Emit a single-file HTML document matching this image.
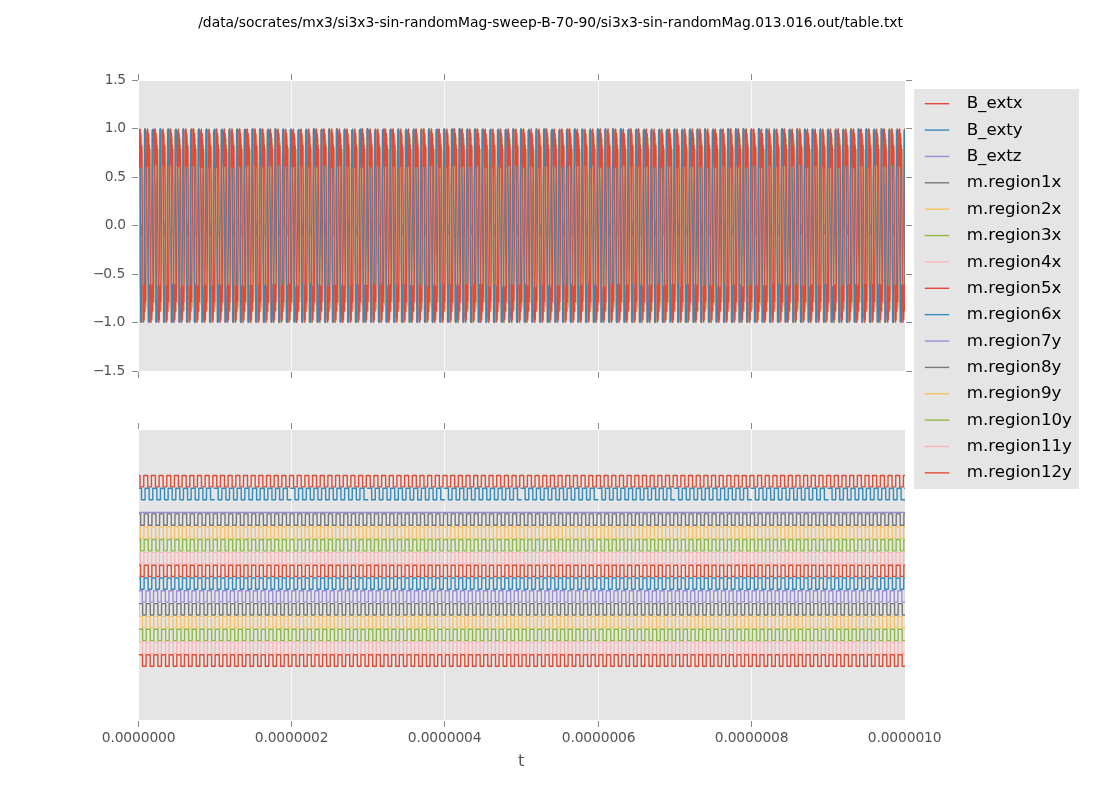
<!DOCTYPE html>
<html><head><meta charset="utf-8"><title>table.txt</title>
<style>html,body{margin:0;padding:0;background:#fff;overflow:hidden}svg{display:block}</style></head>
<body>
<svg width="1100" height="800" viewBox="0 0 1100 800">
<defs><clipPath id="ct"><rect x="139" y="81" width="766" height="290"/></clipPath><clipPath id="cb"><rect x="139" y="430" width="766" height="290"/></clipPath></defs>
<rect width="1100" height="800" fill="#fff"/>
<rect x="139" y="81" width="766" height="290" fill="#E5E5E5"/>
<rect x="139" y="430" width="766" height="290" fill="#E5E5E5"/>
<g fill="#F7F7F7" shape-rendering="crispEdges"><rect x="291" y="81" width="1" height="290"/><rect x="291" y="430" width="1" height="290"/><rect x="444" y="81" width="1" height="290"/><rect x="444" y="430" width="1" height="290"/><rect x="598" y="81" width="1" height="290"/><rect x="598" y="430" width="1" height="290"/><rect x="751" y="81" width="1" height="290"/><rect x="751" y="430" width="1" height="290"/><rect x="139" y="128" width="766" height="1"/><rect x="139" y="177" width="766" height="1"/><rect x="139" y="225" width="766" height="1"/><rect x="139" y="274" width="766" height="1"/><rect x="139" y="322" width="766" height="1"/></g>
<g fill="#8A8A8A" shape-rendering="crispEdges"><rect x="138" y="74" width="1" height="6"/><rect x="138" y="372" width="1" height="6"/><rect x="138" y="423" width="1" height="6"/><rect x="138" y="721" width="1" height="6"/><rect x="291" y="74" width="1" height="6"/><rect x="291" y="372" width="1" height="6"/><rect x="291" y="423" width="1" height="6"/><rect x="291" y="721" width="1" height="6"/><rect x="444" y="74" width="1" height="6"/><rect x="444" y="372" width="1" height="6"/><rect x="444" y="423" width="1" height="6"/><rect x="444" y="721" width="1" height="6"/><rect x="598" y="74" width="1" height="6"/><rect x="598" y="372" width="1" height="6"/><rect x="598" y="423" width="1" height="6"/><rect x="598" y="721" width="1" height="6"/><rect x="751" y="74" width="1" height="6"/><rect x="751" y="372" width="1" height="6"/><rect x="751" y="423" width="1" height="6"/><rect x="751" y="721" width="1" height="6"/><rect x="132" y="80" width="6" height="1"/><rect x="906" y="80" width="6" height="1"/><rect x="132" y="128" width="6" height="1"/><rect x="906" y="128" width="6" height="1"/><rect x="132" y="177" width="6" height="1"/><rect x="906" y="177" width="6" height="1"/><rect x="132" y="225" width="6" height="1"/><rect x="906" y="225" width="6" height="1"/><rect x="132" y="274" width="6" height="1"/><rect x="906" y="274" width="6" height="1"/><rect x="132" y="322" width="6" height="1"/><rect x="906" y="322" width="6" height="1"/><rect x="132" y="371" width="6" height="1"/><rect x="906" y="371" width="6" height="1"/></g>
<g clip-path="url(#ct)" fill="none" stroke-width="1.39" stroke-linejoin="round">
<path stroke="#E24A33" d="M138.5 218.6L139.27 221.9L140.03 226.8L140.8 231.3L141.57 233.9L142.33 233.4L143.1 230.1L143.86 225.2L144.63 220.7L145.4 218.1L146.16 218.6L146.93 221.9L147.7 226.7L148.46 231.3L149.23 233.8L149.99 233.4L150.76 230.2L151.53 225.3L152.29 220.7L153.06 218.2L153.83 218.6L154.59 221.8L155.36 226.7L156.12 231.2L156.89 233.8L157.66 233.4L158.42 230.2L159.19 225.4L159.96 220.8L160.72 218.2L161.49 218.5L162.26 221.8L163.02 226.6L163.79 231.2L164.55 233.8L165.32 233.5L166.09 230.3L166.85 225.4L167.62 220.8L168.39 218.2L169.15 218.5L169.92 221.7L170.68 226.5L171.45 231.1L172.22 233.8L172.98 233.5L173.75 230.3L174.52 225.5L175.28 220.9L176.05 218.2L176.82 218.5L177.58 221.6L178.35 226.5L179.11 231.1L179.88 233.8L180.65 233.5L181.41 230.4L182.18 225.6L182.95 220.9L183.71 218.2L184.48 218.5L185.24 221.6L186.01 226.4L186.78 231L187.54 233.8L188.31 233.5L189.08 230.4L189.84 225.6L190.61 221L191.37 218.2L192.14 218.5L192.91 221.5L193.67 226.3L194.44 231L195.21 233.7L195.97 233.6L196.74 230.5L197.51 225.7L198.27 221L199.04 218.3L199.8 218.4L200.57 221.5L201.34 226.3L202.1 230.9L202.87 233.7L203.64 233.6L204.4 230.5L205.17 225.8L205.93 221.1L206.7 218.3L207.47 218.4L208.23 221.4L209 226.2L209.77 230.9L210.53 233.7L211.3 233.6L212.06 230.6L212.83 225.8L213.6 221.1L214.36 218.3L215.13 218.4L215.9 221.4L216.66 226.1L217.43 230.8L218.2 233.7L218.96 233.6L219.73 230.7L220.49 225.9L221.26 221.2L222.03 218.3L222.79 218.4L223.56 221.3L224.33 226.1L225.09 230.8L225.86 233.7L226.62 233.6L227.39 230.7L228.16 226L228.92 221.3L229.69 218.3L230.46 218.3L231.22 221.3L231.99 226L232.75 230.7L233.52 233.7L234.29 233.7L235.05 230.8L235.82 226L236.59 221.3L237.35 218.4L238.12 218.3L238.89 221.2L239.65 225.9L240.42 230.7L241.18 233.6L241.95 233.7L242.72 230.8L243.48 226.1L244.25 221.4L245.02 218.4L245.78 218.3L246.55 221.2L247.31 225.9L248.08 230.6L248.85 233.6L249.61 233.7L250.38 230.9L251.15 226.2L251.91 221.4L252.68 218.4L253.45 218.3L254.21 221.1L254.98 225.8L255.74 230.6L256.51 233.6L257.28 233.7L258.04 230.9L258.81 226.2L259.58 221.5L260.34 218.4L261.11 218.3L261.87 221.1L262.64 225.7L263.41 230.5L264.17 233.6L264.94 233.7L265.71 231L266.47 226.3L267.24 221.5L268 218.4L268.77 218.2L269.54 221L270.3 225.7L271.07 230.5L271.84 233.5L272.6 233.8L273.37 231L274.14 226.4L274.9 221.6L275.67 218.5L276.43 218.2L277.2 221L277.97 225.6L278.73 230.4L279.5 233.5L280.27 233.8L281.03 231.1L281.8 226.4L282.56 221.6L283.33 218.5L284.1 218.2L284.86 220.9L285.63 225.5L286.4 230.3L287.16 233.5L287.93 233.8L288.69 231.1L289.46 226.5L290.23 221.7L290.99 218.5L291.76 218.2L292.53 220.9L293.29 225.5L294.06 230.3L294.83 233.5L295.59 233.8L296.36 231.2L297.12 226.6L297.89 221.7L298.66 218.5L299.42 218.2L300.19 220.8L300.96 225.4L301.72 230.2L302.49 233.4L303.25 233.8L304.02 231.2L304.79 226.6L305.55 221.8L306.32 218.6L307.09 218.2L307.85 220.8L308.62 225.3L309.38 230.2L310.15 233.4L310.92 233.8L311.68 231.3L312.45 226.7L313.22 221.9L313.98 218.6L314.75 218.2L315.52 220.7L316.28 225.3L317.05 230.1L317.81 233.4L318.58 233.9L319.35 231.3L320.11 226.8L320.88 221.9L321.65 218.6L322.41 218.1L323.18 220.7L323.94 225.2L324.71 230.1L325.48 233.4L326.24 233.9L327.01 231.4L327.78 226.8L328.54 222L329.31 218.6L330.08 218.1L330.84 220.6L331.61 225.1L332.37 230L333.14 233.3L333.91 233.9L334.67 231.4L335.44 226.9L336.21 222L336.97 218.7L337.74 218.1L338.5 220.6L339.27 225.1L340.04 229.9L340.8 233.3L341.57 233.9L342.34 231.5L343.1 227L343.87 222.1L344.63 218.7L345.4 218.1L346.17 220.5L346.93 225L347.7 229.9L348.47 233.3L349.23 233.9L350 231.5L350.77 227L351.53 222.1L352.3 218.7L353.06 218.1L353.83 220.5L354.6 224.9L355.36 229.8L356.13 233.3L356.9 233.9L357.66 231.6L358.43 227.1L359.19 222.2L359.96 218.8L360.73 218.1L361.49 220.4L362.26 224.9L363.03 229.8L363.79 233.2L364.56 233.9L365.32 231.6L366.09 227.2L366.86 222.3L367.62 218.8L368.39 218.1L369.16 220.4L369.92 224.8L370.69 229.7L371.46 233.2L372.22 233.9L372.99 231.7L373.75 227.2L374.52 222.3L375.29 218.8L376.05 218.1L376.82 220.3L377.59 224.7L378.35 229.7L379.12 233.2L379.88 234L380.65 231.7L381.42 227.3L382.18 222.4L382.95 218.8L383.72 218L384.48 220.3L385.25 224.7L386.01 229.6L386.78 233.1L387.55 234L388.31 231.8L389.08 227.4L389.85 222.4L390.61 218.9L391.38 218L392.15 220.2L392.91 224.6L393.68 229.5L394.44 233.1L395.21 234L395.98 231.8L396.74 227.4L397.51 222.5L398.28 218.9L399.04 218L399.81 220.2L400.57 224.6L401.34 229.5L402.11 233.1L402.87 234L403.64 231.8L404.41 227.5L405.17 222.6L405.94 218.9L406.71 218L407.47 220.1L408.24 224.5L409 229.4L409.77 233L410.54 234L411.3 231.9L412.07 227.5L412.84 222.6L413.6 219L414.37 218L415.13 220.1L415.9 224.4L416.67 229.4L417.43 233L418.2 234L418.97 231.9L419.73 227.6L420.5 222.7L421.26 219L422.03 218L422.8 220L423.56 224.4L424.33 229.3L425.1 233L425.86 234L426.63 232L427.4 227.7L428.16 222.7L428.93 219L429.69 218L430.46 220L431.23 224.3L431.99 229.2L432.76 232.9L433.53 234L434.29 232L435.06 227.7L435.82 222.8L436.59 219.1L437.36 218L438.12 220L438.89 224.2L439.66 229.2L440.42 232.9L441.19 234L441.95 232.1L442.72 227.8L443.49 222.9L444.25 219.1L445.02 218L445.79 219.9L446.55 224.2L447.32 229.1L448.09 232.9L448.85 234L449.62 232.1L450.38 227.9L451.15 222.9L451.92 219.1L452.68 218L453.45 219.9L454.22 224.1L454.98 229.1L455.75 232.8L456.51 234L457.28 232.2L458.05 227.9L458.81 223L459.58 219.2L460.35 218L461.11 219.8L461.88 224L462.64 229L463.41 232.8L464.18 234L464.94 232.2L465.71 228L466.48 223L467.24 219.2L468.01 218L468.78 219.8L469.54 224L470.31 228.9L471.07 232.8L471.84 234L472.61 232.2L473.37 228.1L474.14 223.1L474.91 219.2L475.67 218L476.44 219.7L477.2 223.9L477.97 228.9L478.74 232.7L479.5 234L480.27 232.3L481.04 228.1L481.8 223.2L482.57 219.3L483.34 218L484.1 219.7L484.87 223.8L485.63 228.8L486.4 232.7L487.17 234L487.93 232.3L488.7 228.2L489.47 223.2L490.23 219.3L491 218L491.76 219.7L492.53 223.8L493.3 228.7L494.06 232.7L494.83 234L495.6 232.4L496.36 228.3L497.13 223.3L497.89 219.4L498.66 218L499.43 219.6L500.19 223.7L500.96 228.7L501.73 232.6L502.49 234L503.26 232.4L504.03 228.3L504.79 223.3L505.56 219.4L506.32 218L507.09 219.6L507.86 223.7L508.62 228.6L509.39 232.6L510.16 234L510.92 232.4L511.69 228.4L512.45 223.4L513.22 219.4L513.99 217.9L514.75 219.5L515.52 223.6L516.29 228.6L517.05 232.6L517.82 234.1L518.58 232.5L519.35 228.4L520.12 223.5L520.88 219.5L521.65 217.9L522.42 219.5L523.18 223.5L523.95 228.5L524.72 232.5L525.48 234.1L526.25 232.5L527.01 228.5L527.78 223.5L528.55 219.5L529.31 217.9L530.08 219.5L530.85 223.5L531.61 228.4L532.38 232.5L533.14 234.1L533.91 232.6L534.68 228.6L535.44 223.6L536.21 219.5L536.98 217.9L537.74 219.4L538.51 223.4L539.27 228.4L540.04 232.4L540.81 234L541.57 232.6L542.34 228.6L543.11 223.7L543.87 219.6L544.64 218L545.41 219.4L546.17 223.3L546.94 228.3L547.7 232.4L548.47 234L549.24 232.6L550 228.7L550.77 223.7L551.54 219.6L552.3 218L553.07 219.3L553.83 223.3L554.6 228.2L555.37 232.4L556.13 234L556.9 232.7L557.67 228.8L558.43 223.8L559.2 219.7L559.97 218L560.73 219.3L561.5 223.2L562.26 228.2L563.03 232.3L563.8 234L564.56 232.7L565.33 228.8L566.1 223.8L566.86 219.7L567.63 218L568.39 219.3L569.16 223.2L569.93 228.1L570.69 232.3L571.46 234L572.23 232.7L572.99 228.9L573.76 223.9L574.52 219.7L575.29 218L576.06 219.2L576.82 223.1L577.59 228.1L578.36 232.2L579.12 234L579.89 232.8L580.66 228.9L581.42 224L582.19 219.8L582.95 218L583.72 219.2L584.49 223L585.25 228L586.02 232.2L586.79 234L587.55 232.8L588.32 229L589.08 224L589.85 219.8L590.62 218L591.38 219.2L592.15 223L592.92 227.9L593.68 232.2L594.45 234L595.21 232.8L595.98 229.1L596.75 224.1L597.51 219.9L598.28 218L599.05 219.1L599.81 222.9L600.58 227.9L601.35 232.1L602.11 234L602.88 232.9L603.64 229.1L604.41 224.2L605.18 219.9L605.94 218L606.71 219.1L607.48 222.9L608.24 227.8L609.01 232.1L609.77 234L610.54 232.9L611.31 229.2L612.07 224.2L612.84 220L613.61 218L614.37 219.1L615.14 222.8L615.9 227.7L616.67 232L617.44 234L618.2 233L618.97 229.2L619.74 224.3L620.5 220L621.27 218L622.04 219L622.8 222.7L623.57 227.7L624.33 232L625.1 234L625.87 233L626.63 229.3L627.4 224.4L628.17 220L628.93 218L629.7 219L630.46 222.7L631.23 227.6L632 231.9L632.76 234L633.53 233L634.3 229.4L635.06 224.4L635.83 220.1L636.6 218L637.36 219L638.13 222.6L638.89 227.5L639.66 231.9L640.43 234L641.19 233L641.96 229.4L642.73 224.5L643.49 220.1L644.26 218L645.02 218.9L645.79 222.5L646.56 227.5L647.32 231.8L648.09 234L648.86 233.1L649.62 229.5L650.39 224.6L651.15 220.2L651.92 218L652.69 218.9L653.45 222.5L654.22 227.4L654.99 231.8L655.75 234L656.52 233.1L657.29 229.5L658.05 224.6L658.82 220.2L659.58 218L660.35 218.9L661.12 222.4L661.88 227.3L662.65 231.8L663.42 234L664.18 233.1L664.95 229.6L665.71 224.7L666.48 220.3L667.25 218L668.01 218.8L668.78 222.4L669.55 227.3L670.31 231.7L671.08 234L671.84 233.2L672.61 229.7L673.38 224.7L674.14 220.3L674.91 218.1L675.68 218.8L676.44 222.3L677.21 227.2L677.98 231.7L678.74 233.9L679.51 233.2L680.27 229.7L681.04 224.8L681.81 220.4L682.57 218.1L683.34 218.8L684.11 222.3L684.87 227.2L685.64 231.6L686.4 233.9L687.17 233.2L687.94 229.8L688.7 224.9L689.47 220.4L690.24 218.1L691 218.8L691.77 222.2L692.53 227.1L693.3 231.6L694.07 233.9L694.83 233.3L695.6 229.8L696.37 224.9L697.13 220.5L697.9 218.1L698.67 218.7L699.43 222.1L700.2 227L700.96 231.5L701.73 233.9L702.5 233.3L703.26 229.9L704.03 225L704.8 220.5L705.56 218.1L706.33 218.7L707.09 222.1L707.86 227L708.63 231.5L709.39 233.9L710.16 233.3L710.93 229.9L711.69 225.1L712.46 220.6L713.23 218.1L713.99 218.7L714.76 222L715.52 226.9L716.29 231.4L717.06 233.9L717.82 233.3L718.59 230L719.36 225.1L720.12 220.6L720.89 218.1L721.65 218.6L722.42 222L723.19 226.8L723.95 231.4L724.72 233.9L725.49 233.4L726.25 230.1L727.02 225.2L727.78 220.7L728.55 218.1L729.32 218.6L730.08 221.9L730.85 226.8L731.62 231.3L732.38 233.9L733.15 233.4L733.92 230.1L734.68 225.3L735.45 220.7L736.21 218.2L736.98 218.6L737.75 221.9L738.51 226.7L739.28 231.3L740.05 233.8L740.81 233.4L741.58 230.2L742.34 225.3L743.11 220.8L743.88 218.2L744.64 218.6L745.41 221.8L746.18 226.6L746.94 231.2L747.71 233.8L748.47 233.4L749.24 230.2L750.01 225.4L750.77 220.8L751.54 218.2L752.31 218.5L753.07 221.7L753.84 226.6L754.61 231.2L755.37 233.8L756.14 233.5L756.9 230.3L757.67 225.5L758.44 220.9L759.2 218.2L759.97 218.5L760.74 221.7L761.5 226.5L762.27 231.1L763.03 233.8L763.8 233.5L764.57 230.3L765.33 225.5L766.1 220.9L766.87 218.2L767.63 218.5L768.4 221.6L769.16 226.4L769.93 231.1L770.7 233.8L771.46 233.5L772.23 230.4L773 225.6L773.76 221L774.53 218.2L775.3 218.5L776.06 221.6L776.83 226.4L777.59 231L778.36 233.8L779.13 233.5L779.89 230.5L780.66 225.7L781.43 221L782.19 218.3L782.96 218.4L783.72 221.5L784.49 226.3L785.26 231L786.02 233.7L786.79 233.6L787.56 230.5L788.32 225.7L789.09 221.1L789.86 218.3L790.62 218.4L791.39 221.5L792.15 226.2L792.92 230.9L793.69 233.7L794.45 233.6L795.22 230.6L795.99 225.8L796.75 221.1L797.52 218.3L798.28 218.4L799.05 221.4L799.82 226.2L800.58 230.9L801.35 233.7L802.12 233.6L802.88 230.6L803.65 225.9L804.41 221.2L805.18 218.3L805.95 218.4L806.71 221.4L807.48 226.1L808.25 230.8L809.01 233.7L809.78 233.6L810.55 230.7L811.31 225.9L812.08 221.2L812.84 218.3L813.61 218.4L814.38 221.3L815.14 226L815.91 230.8L816.68 233.7L817.44 233.7L818.21 230.7L818.97 226L819.74 221.3L820.51 218.3L821.27 218.3L822.04 221.2L822.81 226L823.57 230.7L824.34 233.6L825.1 233.7L825.87 230.8L826.64 226.1L827.4 221.3L828.17 218.4L828.94 218.3L829.7 221.2L830.47 225.9L831.24 230.6L832 233.6L832.77 233.7L833.53 230.8L834.3 226.1L835.07 221.4L835.83 218.4L836.6 218.3L837.37 221.1L838.13 225.8L838.9 230.6L839.66 233.6L840.43 233.7L841.2 230.9L841.96 226.2L842.73 221.4L843.5 218.4L844.26 218.3L845.03 221.1L845.79 225.8L846.56 230.5L847.33 233.6L848.09 233.7L848.86 230.9L849.63 226.3L850.39 221.5L851.16 218.4L851.93 218.3L852.69 221L853.46 225.7L854.22 230.5L854.99 233.6L855.76 233.7L856.52 231L857.29 226.3L858.06 221.5L858.82 218.5L859.59 218.2L860.35 221L861.12 225.6L861.89 230.4L862.65 233.5L863.42 233.8L864.19 231L864.95 226.4L865.72 221.6L866.49 218.5L867.25 218.2L868.02 220.9L868.78 225.6L869.55 230.4L870.32 233.5L871.08 233.8L871.85 231.1L872.62 226.5L873.38 221.7L874.15 218.5L874.91 218.2L875.68 220.9L876.45 225.5L877.21 230.3L877.98 233.5L878.75 233.8L879.51 231.1L880.28 226.5L881.04 221.7L881.81 218.5L882.58 218.2L883.34 220.8L884.11 225.4L884.88 230.3L885.64 233.5L886.41 233.8L887.18 231.2L887.94 226.6L888.71 221.8L889.47 218.6L890.24 218.2L891.01 220.8L891.77 225.4L892.54 230.2L893.31 233.4L894.07 233.8L894.84 231.2L895.6 226.7L896.37 221.8L897.14 218.6L897.9 218.2L898.67 220.7L899.44 225.3L900.2 230.2L900.97 233.4L901.73 233.8L902.5 231.3L903.27 226.7L904.03 221.9L904.8 218.6L905.57 218.1"/>
<path stroke="#348ABD" d="M138.5 219.6L139.27 217.7L140.03 218.9L140.8 222.9L141.57 228L142.33 232.4L143.1 234.3L143.86 233.1L144.63 229.1L145.4 224L146.16 219.6L146.93 217.7L147.7 218.9L148.46 222.8L149.23 228L149.99 232.4L150.76 234.3L151.53 233.1L152.29 229.2L153.06 224.1L153.83 219.7L154.59 217.7L155.36 218.9L156.12 222.8L156.89 227.9L157.66 232.3L158.42 234.3L159.19 233.1L159.96 229.3L160.72 224.1L161.49 219.7L162.26 217.7L163.02 218.8L163.79 222.7L164.55 227.8L165.32 232.3L166.09 234.3L166.85 233.2L167.62 229.3L168.39 224.2L169.15 219.8L169.92 217.7L170.68 218.8L171.45 222.7L172.22 227.8L172.98 232.2L173.75 234.3L174.52 233.2L175.28 229.4L176.05 224.3L176.82 219.8L177.58 217.7L178.35 218.8L179.11 222.6L179.88 227.7L180.65 232.2L181.41 234.3L182.18 233.2L182.95 229.4L183.71 224.3L184.48 219.8L185.24 217.7L186.01 218.7L186.78 222.5L187.54 227.6L188.31 232.1L189.08 234.3L189.84 233.3L190.61 229.5L191.37 224.4L192.14 219.9L192.91 217.7L193.67 218.7L194.44 222.5L195.21 227.6L195.97 232.1L196.74 234.3L197.51 233.3L198.27 229.6L199.04 224.5L199.8 219.9L200.57 217.7L201.34 218.7L202.1 222.4L202.87 227.5L203.64 232L204.4 234.3L205.17 233.3L205.93 229.6L206.7 224.5L207.47 220L208.23 217.7L209 218.6L209.77 222.3L210.53 227.4L211.3 232L212.06 234.3L212.83 233.4L213.6 229.7L214.36 224.6L215.13 220L215.9 217.7L216.66 218.6L217.43 222.3L218.2 227.4L218.96 231.9L219.73 234.2L220.49 233.4L221.26 229.8L222.03 224.7L222.79 220.1L223.56 217.8L224.33 218.6L225.09 222.2L225.86 227.3L226.62 231.9L227.39 234.2L228.16 233.4L228.92 229.8L229.69 224.7L230.46 220.1L231.22 217.8L231.99 218.5L232.75 222.2L233.52 227.2L234.29 231.8L235.05 234.2L235.82 233.5L236.59 229.9L237.35 224.8L238.12 220.2L238.89 217.8L239.65 218.5L240.42 222.1L241.18 227.2L241.95 231.8L242.72 234.2L243.48 233.5L244.25 229.9L245.02 224.9L245.78 220.2L246.55 217.8L247.31 218.5L248.08 222L248.85 227.1L249.61 231.7L250.38 234.2L251.15 233.5L251.91 230L252.68 224.9L253.45 220.3L254.21 217.8L254.98 218.5L255.74 222L256.51 227L257.28 231.7L258.04 234.2L258.81 233.6L259.58 230.1L260.34 225L261.11 220.3L261.87 217.8L262.64 218.4L263.41 221.9L264.17 227L264.94 231.6L265.71 234.2L266.47 233.6L267.24 230.1L268 225.1L268.77 220.4L269.54 217.8L270.3 218.4L271.07 221.9L271.84 226.9L272.6 231.6L273.37 234.2L274.14 233.6L274.9 230.2L275.67 225.1L276.43 220.4L277.2 217.8L277.97 218.4L278.73 221.8L279.5 226.8L280.27 231.5L281.03 234.1L281.8 233.6L282.56 230.2L283.33 225.2L284.1 220.5L284.86 217.9L285.63 218.3L286.4 221.7L287.16 226.8L287.93 231.5L288.69 234.1L289.46 233.7L290.23 230.3L290.99 225.3L291.76 220.5L292.53 217.9L293.29 218.3L294.06 221.7L294.83 226.7L295.59 231.4L296.36 234.1L297.12 233.7L297.89 230.3L298.66 225.3L299.42 220.6L300.19 217.9L300.96 218.3L301.72 221.6L302.49 226.6L303.25 231.4L304.02 234.1L304.79 233.7L305.55 230.4L306.32 225.4L307.09 220.6L307.85 217.9L308.62 218.3L309.38 221.6L310.15 226.6L310.92 231.3L311.68 234.1L312.45 233.8L313.22 230.5L313.98 225.5L314.75 220.7L315.52 217.9L316.28 218.2L317.05 221.5L317.81 226.5L318.58 231.3L319.35 234.1L320.11 233.8L320.88 230.5L321.65 225.5L322.41 220.7L323.18 217.9L323.94 218.2L324.71 221.4L325.48 226.4L326.24 231.2L327.01 234.1L327.78 233.8L328.54 230.6L329.31 225.6L330.08 220.8L330.84 218L331.61 218.2L332.37 221.4L333.14 226.4L333.91 231.2L334.67 234L335.44 233.8L336.21 230.6L336.97 225.7L337.74 220.8L338.5 218L339.27 218.2L340.04 221.3L340.8 226.3L341.57 231.1L342.34 234L343.1 233.8L343.87 230.7L344.63 225.7L345.4 220.9L346.17 218L346.93 218.1L347.7 221.3L348.47 226.2L349.23 231.1L350 234L350.77 233.9L351.53 230.7L352.3 225.8L353.06 221L353.83 218L354.6 218.1L355.36 221.2L356.13 226.1L356.9 231L357.66 234L358.43 233.9L359.19 230.8L359.96 225.9L360.73 221L361.49 218L362.26 218.1L363.03 221.2L363.79 226.1L364.56 231L365.32 234L366.09 233.9L366.86 230.9L367.62 226L368.39 221.1L369.16 218.1L369.92 218.1L370.69 221.1L371.46 226L372.22 230.9L372.99 233.9L373.75 233.9L374.52 230.9L375.29 226L376.05 221.1L376.82 218.1L377.59 218.1L378.35 221.1L379.12 225.9L379.88 230.9L380.65 233.9L381.42 234L382.18 231L382.95 226.1L383.72 221.2L384.48 218.1L385.25 218L386.01 221L386.78 225.9L387.55 230.8L388.31 233.9L389.08 234L389.85 231L390.61 226.2L391.38 221.2L392.15 218.1L392.91 218L393.68 220.9L394.44 225.8L395.21 230.7L395.98 233.9L396.74 234L397.51 231.1L398.28 226.2L399.04 221.3L399.81 218.1L400.57 218L401.34 220.9L402.11 225.7L402.87 230.7L403.64 233.8L404.41 234L405.17 231.1L405.94 226.3L406.71 221.3L407.47 218.2L408.24 218L409 220.8L409.77 225.7L410.54 230.6L411.3 233.8L412.07 234L412.84 231.2L413.6 226.4L414.37 221.4L415.13 218.2L415.9 218L416.67 220.8L417.43 225.6L418.2 230.6L418.97 233.8L419.73 234.1L420.5 231.2L421.26 226.4L422.03 221.5L422.8 218.2L423.56 217.9L424.33 220.7L425.1 225.5L425.86 230.5L426.63 233.8L427.4 234.1L428.16 231.3L428.93 226.5L429.69 221.5L430.46 218.2L431.23 217.9L431.99 220.7L432.76 225.5L433.53 230.5L434.29 233.7L435.06 234.1L435.82 231.3L436.59 226.6L437.36 221.6L438.12 218.3L438.89 217.9L439.66 220.6L440.42 225.4L441.19 230.4L441.95 233.7L442.72 234.1L443.49 231.4L444.25 226.6L445.02 221.6L445.79 218.3L446.55 217.9L447.32 220.6L448.09 225.3L448.85 230.3L449.62 233.7L450.38 234.1L451.15 231.5L451.92 226.7L452.68 221.7L453.45 218.3L454.22 217.9L454.98 220.5L455.75 225.3L456.51 230.3L457.28 233.7L458.05 234.1L458.81 231.5L459.58 226.8L460.35 221.7L461.11 218.3L461.88 217.9L462.64 220.5L463.41 225.2L464.18 230.2L464.94 233.6L465.71 234.2L466.48 231.6L467.24 226.8L468.01 221.8L468.78 218.4L469.54 217.8L470.31 220.4L471.07 225.1L471.84 230.2L472.61 233.6L473.37 234.2L474.14 231.6L474.91 226.9L475.67 221.9L476.44 218.4L477.2 217.8L477.97 220.4L478.74 225.1L479.5 230.1L480.27 233.6L481.04 234.2L481.8 231.7L482.57 227L483.34 221.9L484.1 218.4L484.87 217.8L485.63 220.3L486.4 225L487.17 230L487.93 233.6L488.7 234.2L489.47 231.7L490.23 227L491 222L491.76 218.5L492.53 217.8L493.3 220.3L494.06 224.9L494.83 230L495.6 233.5L496.36 234.2L497.13 231.8L497.89 227.1L498.66 222L499.43 218.5L500.19 217.8L500.96 220.2L501.73 224.9L502.49 229.9L503.26 233.5L504.03 234.2L504.79 231.8L505.56 227.2L506.32 222.1L507.09 218.5L507.86 217.8L508.62 220.2L509.39 224.8L510.16 229.9L510.92 233.5L511.69 234.2L512.45 231.9L513.22 227.2L513.99 222.2L514.75 218.5L515.52 217.8L516.29 220.1L517.05 224.7L517.82 229.8L518.58 233.4L519.35 234.2L520.12 231.9L520.88 227.3L521.65 222.2L522.42 218.6L523.18 217.8L523.95 220.1L524.72 224.7L525.48 229.7L526.25 233.4L527.01 234.2L527.78 231.9L528.55 227.4L529.31 222.3L530.08 218.6L530.85 217.7L531.61 220L532.38 224.6L533.14 229.7L533.91 233.4L534.68 234.3L535.44 232L536.21 227.4L536.98 222.4L537.74 218.6L538.51 217.7L539.27 220L540.04 224.5L540.81 229.6L541.57 233.3L542.34 234.3L543.11 232L543.87 227.5L544.64 222.4L545.41 218.7L546.17 217.7L546.94 219.9L547.7 224.4L548.47 229.6L549.24 233.3L550 234.3L550.77 232.1L551.54 227.6L552.3 222.5L553.07 218.7L553.83 217.7L554.6 219.9L555.37 224.4L556.13 229.5L556.9 233.3L557.67 234.3L558.43 232.1L559.2 227.7L559.97 222.5L560.73 218.7L561.5 217.7L562.26 219.8L563.03 224.3L563.8 229.4L564.56 233.2L565.33 234.3L566.1 232.2L566.86 227.7L567.63 222.6L568.39 218.8L569.16 217.7L569.93 219.8L570.69 224.2L571.46 229.4L572.23 233.2L572.99 234.3L573.76 232.2L574.52 227.8L575.29 222.7L576.06 218.8L576.82 217.7L577.59 219.7L578.36 224.2L579.12 229.3L579.89 233.2L580.66 234.3L581.42 232.3L582.19 227.9L582.95 222.7L583.72 218.8L584.49 217.7L585.25 219.7L586.02 224.1L586.79 229.2L587.55 233.1L588.32 234.3L589.08 232.3L589.85 227.9L590.62 222.8L591.38 218.9L592.15 217.7L592.92 219.7L593.68 224L594.45 229.2L595.21 233.1L595.98 234.3L596.75 232.4L597.51 228L598.28 222.8L599.05 218.9L599.81 217.7L600.58 219.6L601.35 224L602.11 229.1L602.88 233.1L603.64 234.3L604.41 232.4L605.18 228.1L605.94 222.9L606.71 219L607.48 217.7L608.24 219.6L609.01 223.9L609.77 229.1L610.54 233L611.31 234.3L612.07 232.5L612.84 228.1L613.61 223L614.37 219L615.14 217.7L615.9 219.5L616.67 223.9L617.44 229L618.2 233L618.97 234.3L619.74 232.5L620.5 228.2L621.27 223L622.04 219L622.8 217.7L623.57 219.5L624.33 223.8L625.1 228.9L625.87 233L626.63 234.3L627.4 232.5L628.17 228.2L628.93 223.1L629.7 219.1L630.46 217.7L631.23 219.4L632 223.7L632.76 228.9L633.53 232.9L634.3 234.3L635.06 232.6L635.83 228.3L636.6 223.2L637.36 219.1L638.13 217.7L638.89 219.4L639.66 223.7L640.43 228.8L641.19 232.9L641.96 234.3L642.73 232.6L643.49 228.4L644.26 223.2L645.02 219.1L645.79 217.7L646.56 219.4L647.32 223.6L648.09 228.7L648.86 232.8L649.62 234.3L650.39 232.7L651.15 228.4L651.92 223.3L652.69 219.2L653.45 217.7L654.22 219.3L654.99 223.5L655.75 228.7L656.52 232.8L657.29 234.3L658.05 232.7L658.82 228.5L659.58 223.4L660.35 219.2L661.12 217.7L661.88 219.3L662.65 223.5L663.42 228.6L664.18 232.8L664.95 234.3L665.71 232.7L666.48 228.6L667.25 223.4L668.01 219.3L668.78 217.7L669.55 219.2L670.31 223.4L671.08 228.5L671.84 232.7L672.61 234.3L673.38 232.8L674.14 228.6L674.91 223.5L675.68 219.3L676.44 217.7L677.21 219.2L677.98 223.3L678.74 228.5L679.51 232.7L680.27 234.3L681.04 232.8L681.81 228.7L682.57 223.6L683.34 219.3L684.11 217.7L684.87 219.2L685.64 223.3L686.4 228.4L687.17 232.6L687.94 234.3L688.7 232.9L689.47 228.8L690.24 223.6L691 219.4L691.77 217.7L692.53 219.1L693.3 223.2L694.07 228.3L694.83 232.6L695.6 234.3L696.37 232.9L697.13 228.8L697.9 223.7L698.67 219.4L699.43 217.7L700.2 219.1L700.96 223.1L701.73 228.3L702.5 232.6L703.26 234.3L704.03 232.9L704.8 228.9L705.56 223.8L706.33 219.5L707.09 217.7L707.86 219L708.63 223.1L709.39 228.2L710.16 232.5L710.93 234.3L711.69 233L712.46 229L713.23 223.8L713.99 219.5L714.76 217.7L715.52 219L716.29 223L717.06 228.1L717.82 232.5L718.59 234.3L719.36 233L720.12 229L720.89 223.9L721.65 219.6L722.42 217.7L723.19 219L723.95 222.9L724.72 228.1L725.49 232.4L726.25 234.3L727.02 233.1L727.78 229.1L728.55 224L729.32 219.6L730.08 217.7L730.85 218.9L731.62 222.9L732.38 228L733.15 232.4L733.92 234.3L734.68 233.1L735.45 229.2L736.21 224L736.98 219.6L737.75 217.7L738.51 218.9L739.28 222.8L740.05 227.9L740.81 232.3L741.58 234.3L742.34 233.1L743.11 229.2L743.88 224.1L744.64 219.7L745.41 217.7L746.18 218.9L746.94 222.8L747.71 227.9L748.47 232.3L749.24 234.3L750.01 233.2L750.77 229.3L751.54 224.2L752.31 219.7L753.07 217.7L753.84 218.8L754.61 222.7L755.37 227.8L756.14 232.3L756.9 234.3L757.67 233.2L758.44 229.3L759.2 224.2L759.97 219.8L760.74 217.7L761.5 218.8L762.27 222.6L763.03 227.7L763.8 232.2L764.57 234.3L765.33 233.2L766.1 229.4L766.87 224.3L767.63 219.8L768.4 217.7L769.16 218.8L769.93 222.6L770.7 227.7L771.46 232.2L772.23 234.3L773 233.3L773.76 229.5L774.53 224.4L775.3 219.9L776.06 217.7L776.83 218.7L777.59 222.5L778.36 227.6L779.13 232.1L779.89 234.3L780.66 233.3L781.43 229.5L782.19 224.4L782.96 219.9L783.72 217.7L784.49 218.7L785.26 222.4L786.02 227.5L786.79 232.1L787.56 234.3L788.32 233.3L789.09 229.6L789.86 224.5L790.62 220L791.39 217.7L792.15 218.7L792.92 222.4L793.69 227.5L794.45 232L795.22 234.3L795.99 233.4L796.75 229.7L797.52 224.6L798.28 220L799.05 217.7L799.82 218.6L800.58 222.3L801.35 227.4L802.12 232L802.88 234.3L803.65 233.4L804.41 229.7L805.18 224.6L805.95 220.1L806.71 217.8L807.48 218.6L808.25 222.3L809.01 227.3L809.78 231.9L810.55 234.2L811.31 233.4L812.08 229.8L812.84 224.7L813.61 220.1L814.38 217.8L815.14 218.6L815.91 222.2L816.68 227.3L817.44 231.9L818.21 234.2L818.97 233.5L819.74 229.8L820.51 224.8L821.27 220.1L822.04 217.8L822.81 218.5L823.57 222.1L824.34 227.2L825.1 231.8L825.87 234.2L826.64 233.5L827.4 229.9L828.17 224.8L828.94 220.2L829.7 217.8L830.47 218.5L831.24 222.1L832 227.1L832.77 231.8L833.53 234.2L834.3 233.5L835.07 230L835.83 224.9L836.6 220.2L837.37 217.8L838.13 218.5L838.9 222L839.66 227.1L840.43 231.7L841.2 234.2L841.96 233.5L842.73 230L843.5 225L844.26 220.3L845.03 217.8L845.79 218.4L846.56 222L847.33 227L848.09 231.7L848.86 234.2L849.63 233.6L850.39 230.1L851.16 225L851.93 220.3L852.69 217.8L853.46 218.4L854.22 221.9L854.99 226.9L855.76 231.6L856.52 234.2L857.29 233.6L858.06 230.1L858.82 225.1L859.59 220.4L860.35 217.8L861.12 218.4L861.89 221.8L862.65 226.9L863.42 231.6L864.19 234.2L864.95 233.6L865.72 230.2L866.49 225.2L867.25 220.4L868.02 217.9L868.78 218.4L869.55 221.8L870.32 226.8L871.08 231.5L871.85 234.1L872.62 233.7L873.38 230.3L874.15 225.2L874.91 220.5L875.68 217.9L876.45 218.3L877.21 221.7L877.98 226.7L878.75 231.5L879.51 234.1L880.28 233.7L881.04 230.3L881.81 225.3L882.58 220.6L883.34 217.9L884.11 218.3L884.88 221.7L885.64 226.7L886.41 231.4L887.18 234.1L887.94 233.7L888.71 230.4L889.47 225.4L890.24 220.6L891.01 217.9L891.77 218.3L892.54 221.6L893.31 226.6L894.07 231.4L894.84 234.1L895.6 233.7L896.37 230.4L897.14 225.4L897.9 220.7L898.67 217.9L899.44 218.3L900.2 221.5L900.97 226.5L901.73 231.3L902.5 234.1L903.27 233.8L904.03 230.5L904.8 225.5L905.57 220.7"/>
<path stroke="#988ED5" d="M138 226.0H906"/>
<path stroke="#777777" d="M138.09 159.4L138.85 135.2L139.61 159.5L140.28 149.4L141.08 322L141.84 290.1L142.6 316.7L143.36 289.5L144.2 301.7L145 130.3L145.76 158.8L146.52 135.2L147.28 160.1L147.95 149.4L148.75 322L149.51 291.5L150.27 316.7L151.03 291.8L151.87 301.7L152.67 131.4L153.43 161.8L154.19 135.2L154.95 161.7L155.62 149.4L156.42 322L157.18 290.9L157.94 316.7L158.7 292.8L159.55 301.7L160.35 129.2L161.11 160.4L161.87 135.2L162.63 161.6L163.3 149.4L164.1 322L164.86 291.4L165.62 316.7L166.38 292.1L167.22 301.7L168.02 129.7L168.78 163L169.54 135.2L170.3 161.5L170.97 149.4L171.77 322L172.53 291.4L173.29 316.7L174.05 289.1L174.89 301.7L175.69 130.3L176.45 163.1L177.21 135.2L177.97 160.6L178.64 149.4L179.44 322L180.2 289.4L180.96 316.7L181.72 290.3L182.56 301.7L183.37 130.2L184.12 162.2L184.89 135.2L185.65 159.7L186.31 149.4L187.12 322L187.88 291.2L188.64 316.7L189.4 288.7L190.24 301.7L191.04 129.2L191.8 163L192.56 135.2L193.32 160L193.99 149.4L194.79 322L195.55 291.4L196.31 316.7L197.07 291.5L197.91 301.7L198.71 128.9L199.47 160.8L200.23 135.2L200.99 163L201.66 149.4L202.46 322L203.22 292.1L203.98 316.7L204.74 291.2L205.58 301.7L206.38 130.4L207.14 161.1L207.9 135.2L208.66 162.4L209.33 149.4L210.13 322L210.89 289.4L211.65 316.7L212.41 290.9L213.26 301.7L214.06 130.4L214.82 159.4L215.58 135.2L216.34 162.7L217.01 149.4L217.81 322L218.57 292.5L219.33 316.7L220.09 289.5L220.93 301.7L221.73 129.8L222.49 162.8L223.25 135.2L224.01 160.1L224.68 149.4L225.48 322L226.24 288.7L227 316.7L227.76 290L228.6 301.7L229.4 128.8L230.16 162.1L230.92 135.2L231.68 162.4L232.35 149.4L233.15 322L233.91 288.7L234.67 316.7L235.43 288.7L236.28 301.7L237.08 128.9L237.84 158.7L238.6 135.2L239.36 162.2L240.03 149.4L240.83 322L241.59 293.1L242.35 316.7L243.11 288.8L243.95 301.7L244.75 130.6L245.51 160.1L246.27 135.2L247.03 160.4L247.7 149.4L248.5 322L249.26 292L250.02 316.7L250.78 291.3L251.62 301.7L252.42 128.8L253.18 161L253.94 135.2L254.7 159.2L255.37 149.4L256.17 322L256.93 290.8L257.69 316.7L258.45 289.6L259.3 301.7L260.1 128.9L260.86 162.7L261.62 135.2L262.38 163.4L263.05 149.4L263.85 322L264.61 292L265.37 316.7L266.12 290.9L266.97 301.7L267.77 130.7L268.53 160.4L269.29 135.2L270.05 161.9L270.72 149.4L271.52 322L272.28 289L273.04 316.7L273.8 293.2L274.64 301.7L275.44 130.7L276.2 159.1L276.96 135.2L277.72 158.8L278.39 149.4L279.19 322L279.95 292.4L280.71 316.7L281.47 289.4L282.31 301.7L283.11 131.3L283.87 159.4L284.63 135.2L285.39 161.1L286.06 149.4L286.86 322L287.62 289L288.38 316.7L289.14 292.8L289.99 301.7L290.79 129.9L291.55 158.8L292.31 135.2L293.07 162.3L293.74 149.4L294.54 322L295.3 290.9L296.06 316.7L296.82 289.3L297.66 301.7L298.46 130.8L299.22 158.9L299.98 135.2L300.74 159L301.41 149.4L302.21 322L302.97 292.6L303.73 316.7L304.49 291.4L305.33 301.7L306.13 130.6L306.89 160.6L307.65 135.2L308.41 158.7L309.08 149.4L309.88 322L310.64 290L311.4 316.7L312.16 291.3L313.01 301.7L313.81 128.7L314.57 158.7L315.33 135.2L316.09 162.8L316.76 149.4L317.56 322L318.32 292.2L319.08 316.7L319.84 293.2L320.68 301.7L321.48 129.2L322.24 160.8L323 135.2L323.76 159.8L324.43 149.4L325.23 322L325.99 291.4L326.75 316.7L327.51 291.4L328.35 301.7L329.15 131L329.91 162.3L330.67 135.2L331.43 159.7L332.1 149.4L332.9 322L333.66 289.4L334.42 316.7L335.18 292.8L336.02 301.7L336.82 128.9L337.58 163L338.34 135.2L339.1 158.9L339.77 149.4L340.57 322L341.33 290.5L342.09 316.7L342.85 292L343.7 301.7L344.5 130.6L345.26 161.1L346.02 135.2L346.78 160.7L347.45 149.4L348.25 322L349.01 292.4L349.77 316.7L350.53 291L351.37 301.7L352.17 129.9L352.93 163.1L353.69 135.2L354.45 161.4L355.12 149.4L355.92 322L356.68 292.9L357.44 316.7L358.2 293L359.04 301.7L359.84 130.3L360.6 158.7L361.36 135.2L362.12 161.1L362.79 149.4L363.59 322L364.35 292.9L365.11 316.7L365.87 289.2L366.72 301.7L367.52 130.3L368.28 159.5L369.04 135.2L369.8 163.4L370.47 149.4L371.27 322L372.03 289.1L372.79 316.7L373.55 290.3L374.39 301.7L375.19 131.1L375.95 162.1L376.71 135.2L377.47 159.8L378.14 149.4L378.94 322L379.7 291.7L380.46 316.7L381.22 292.1L382.06 301.7L382.86 130.9L383.62 162.7L384.38 135.2L385.14 160.3L385.81 149.4L386.61 322L387.37 291.6L388.13 316.7L388.89 290.6L389.74 301.7L390.54 130.3L391.3 160.6L392.06 135.2L392.82 159.9L393.49 149.4L394.29 322L395.05 289.3L395.81 316.7L396.57 289.3L397.41 301.7L398.21 130L398.97 162.5L399.73 135.2L400.49 159.4L401.16 149.4L401.96 322L402.72 291.3L403.48 316.7L404.24 291.3L405.08 301.7L405.88 130L406.64 162.5L407.4 135.2L408.16 161.7L408.83 149.4L409.63 322L410.39 290.8L411.15 316.7L411.91 291.6L412.75 301.7L413.56 131.2L414.31 160.5L415.07 135.2L415.83 162.4L416.5 149.4L417.31 322L418.06 288.6L418.82 316.7L419.58 291.3L420.43 301.7L421.23 130.3L421.99 160.2L422.75 135.2L423.51 159.9L424.18 149.4L424.98 322L425.74 289.4L426.5 316.7L427.26 293L428.1 301.7L428.9 130.6L429.66 160.2L430.42 135.2L431.18 162.8L431.85 149.4L432.65 322L433.41 290.5L434.17 316.7L434.93 291.8L435.77 301.7L436.57 129.2L437.33 162.3L438.09 135.2L438.85 162.9L439.52 149.4L440.32 322L441.08 291.6L441.84 316.7L442.6 289.8L443.45 301.7L444.25 130.9L445.01 160.6L445.77 135.2L446.53 158.7L447.2 149.4L448 322L448.76 289.4L449.52 316.7L450.28 292.8L451.12 301.7L451.92 130.3L452.68 162L453.44 135.2L454.2 161.7L454.87 149.4L455.67 322L456.43 289.5L457.19 316.7L457.95 292L458.79 301.7L459.59 130.5L460.35 160.6L461.11 135.2L461.87 160.9L462.54 149.4L463.34 322L464.1 290.3L464.86 316.7L465.62 288.6L466.47 301.7L467.27 129.3L468.03 160.4L468.79 135.2L469.55 161L470.22 149.4L471.02 322L471.78 289.9L472.54 316.7L473.3 291.2L474.14 301.7L474.94 130L475.7 160.1L476.46 135.2L477.22 160L477.89 149.4L478.69 322L479.45 290.5L480.21 316.7L480.97 290.6L481.81 301.7L482.61 131.4L483.37 159.1L484.13 135.2L484.89 163.4L485.56 149.4L486.36 322L487.12 290.2L487.88 316.7L488.64 291.1L489.49 301.7L490.29 131.4L491.05 161L491.81 135.2L492.56 161.2L493.24 149.4L494.04 322L494.8 290.1L495.56 316.7L496.31 290.4L497.16 301.7L497.96 130.5L498.72 159.2L499.48 135.2L500.24 162.5L500.91 149.4L501.71 322L502.47 292.9L503.23 316.7L503.99 291.2L504.83 301.7L505.63 131L506.39 163.3L507.15 135.2L507.91 161.6L508.58 149.4L509.38 322L510.14 292.8L510.9 316.7L511.66 289.8L512.5 301.7L513.3 129.7L514.06 161.6L514.82 135.2L515.58 163.2L516.25 149.4L517.05 322L517.81 290.5L518.57 316.7L519.33 293.1L520.18 301.7L520.98 131L521.74 162.3L522.5 135.2L523.26 159.4L523.93 149.4L524.73 322L525.49 290.8L526.25 316.7L527.01 293L527.85 301.7L528.65 130.5L529.41 160.4L530.17 135.2L530.93 161.4L531.6 149.4L532.4 322L533.16 289.5L533.92 316.7L534.68 292.3L535.52 301.7L536.32 131L537.08 159.1L537.84 135.2L538.6 160.5L539.27 149.4L540.07 322L540.83 289.4L541.59 316.7L542.35 290.6L543.2 301.7L544 130.8L544.76 163.2L545.52 135.2L546.28 163.4L546.95 149.4L547.75 322L548.51 288.9L549.27 316.7L550.03 292.3L550.87 301.7L551.67 129.8L552.43 159.8L553.19 135.2L553.95 162L554.62 149.4L555.42 322L556.18 292.6L556.94 316.7L557.7 289L558.54 301.7L559.34 130.8L560.1 159.1L560.86 135.2L561.62 160.7L562.29 149.4L563.09 322L563.85 291.7L564.61 316.7L565.37 291.9L566.22 301.7L567.01 130L567.77 161.2L568.53 135.2L569.29 161.8L569.97 149.4L570.76 322L571.52 288.8L572.28 316.7L573.04 291.7L573.89 301.7L574.69 129.9L575.45 162.3L576.21 135.2L576.97 159.9L577.64 149.4L578.44 322L579.2 290.2L579.96 316.7L580.72 290.8L581.56 301.7L582.36 130.8L583.12 162L583.88 135.2L584.64 158.6L585.31 149.4L586.11 322L586.87 292.7L587.63 316.7L588.39 293L589.23 301.7L590.03 129.3L590.79 161.9L591.55 135.2L592.31 159L592.98 149.4L593.78 322L594.54 291.7L595.3 316.7L596.06 292.7L596.91 301.7L597.71 128.6L598.47 160.7L599.23 135.2L599.99 162.6L600.66 149.4L601.46 322L602.22 290.4L602.98 316.7L603.74 289.4L604.58 301.7L605.38 130.1L606.14 160.9L606.9 135.2L607.66 160.3L608.33 149.4L609.13 322L609.89 291.7L610.65 316.7L611.41 289.2L612.25 301.7L613.05 131.1L613.81 160.8L614.57 135.2L615.33 162.1L616 149.4L616.8 322L617.56 289.5L618.32 316.7L619.08 290.5L619.93 301.7L620.73 129L621.49 160.4L622.25 135.2L623.01 159L623.68 149.4L624.48 322L625.24 292.4L626 316.7L626.76 289L627.6 301.7L628.4 129.4L629.16 159L629.92 135.2L630.68 163.2L631.35 149.4L632.15 322L632.91 292.8L633.67 316.7L634.43 292.7L635.27 301.7L636.07 129.2L636.83 160.1L637.59 135.2L638.35 161.8L639.02 149.4L639.82 322L640.58 288.8L641.34 316.7L642.1 293L642.95 301.7L643.75 129.7L644.5 161.6L645.26 135.2L646.02 161.7L646.7 149.4L647.5 322L648.25 291.1L649.01 316.7L649.77 289.6L650.62 301.7L651.42 129.6L652.18 162.2L652.94 135.2L653.7 162.3L654.37 149.4L655.17 322L655.93 292.5L656.69 316.7L657.45 293.1L658.29 301.7L659.09 129.7L659.85 158.7L660.61 135.2L661.37 161.5L662.04 149.4L662.84 322L663.6 291.2L664.36 316.7L665.12 290.4L665.96 301.7L666.76 130L667.52 161.2L668.28 135.2L669.04 161.9L669.71 149.4L670.51 322L671.27 291.6L672.03 316.7L672.79 293.2L673.64 301.7L674.44 131.4L675.2 162.1L675.96 135.2L676.72 161.1L677.39 149.4L678.19 322L678.95 291L679.71 316.7L680.47 293.2L681.31 301.7L682.11 129.1L682.87 158.9L683.63 135.2L684.39 162.2L685.06 149.4L685.86 322L686.62 288.6L687.38 316.7L688.14 291.7L688.98 301.7L689.78 129L690.54 158.8L691.3 135.2L692.06 160.1L692.73 149.4L693.53 322L694.29 293.4L695.05 316.7L695.81 293.2L696.66 301.7L697.46 130.7L698.22 163.4L698.98 135.2L699.74 160.7L700.41 149.4L701.21 322L701.97 290.7L702.73 316.7L703.49 289.9L704.33 301.7L705.13 131.3L705.89 159.5L706.65 135.2L707.41 162.4L708.08 149.4L708.88 322L709.64 290.8L710.4 316.7L711.16 289.5L712 301.7L712.8 129.2L713.56 162.5L714.32 135.2L715.08 158.7L715.75 149.4L716.55 322L717.31 288.6L718.07 316.7L718.83 291.1L719.68 301.7L720.48 131.1L721.24 162.4L722 135.2L722.75 162.2L723.43 149.4L724.23 322L724.99 288.8L725.75 316.7L726.5 290.3L727.35 301.7L728.15 129.1L728.91 159.8L729.67 135.2L730.43 162.6L731.1 149.4L731.9 322L732.66 291.1L733.42 316.7L734.18 293.1L735.02 301.7L735.82 129.3L736.58 159.1L737.34 135.2L738.1 160.5L738.77 149.4L739.57 322L740.33 289.8L741.09 316.7L741.85 292.9L742.69 301.7L743.49 130.3L744.25 160.2L745.01 135.2L745.77 159.9L746.44 149.4L747.24 322L748 290.3L748.76 316.7L749.52 290L750.37 301.7L751.17 130.3L751.93 159.7L752.69 135.2L753.45 159.5L754.12 149.4L754.92 322L755.68 291.7L756.44 316.7L757.2 289L758.04 301.7L758.84 128.7L759.6 160.5L760.36 135.2L761.12 158.9L761.79 149.4L762.59 322L763.35 290L764.11 316.7L764.87 290.3L765.71 301.7L766.51 128.6L767.27 162.1L768.03 135.2L768.79 163.4L769.46 149.4L770.26 322L771.02 290.1L771.78 316.7L772.54 292.5L773.39 301.7L774.19 129L774.95 161.3L775.71 135.2L776.47 159.8L777.14 149.4L777.94 322L778.7 293.1L779.46 316.7L780.22 288.8L781.06 301.7L781.86 128.6L782.62 160.7L783.38 135.2L784.14 163.3L784.81 149.4L785.61 322L786.37 290.3L787.13 316.7L787.89 293.3L788.73 301.7L789.53 130.7L790.29 159.9L791.05 135.2L791.81 163.3L792.48 149.4L793.28 322L794.04 290.3L794.8 316.7L795.56 290.1L796.41 301.7L797.21 131.1L797.97 159.1L798.73 135.2L799.49 160.5L800.16 149.4L800.96 322L801.72 290.3L802.48 316.7L803.24 290.1L804.08 301.7L804.88 130.2L805.64 162.5L806.4 135.2L807.16 161L807.83 149.4L808.63 322L809.39 289.7L810.15 316.7L810.91 289.4L811.75 301.7L812.55 130.9L813.31 160.9L814.07 135.2L814.83 160.7L815.5 149.4L816.3 322L817.06 292.2L817.82 316.7L818.58 292.8L819.42 301.7L820.22 129L820.98 160.7L821.74 135.2L822.5 162.1L823.17 149.4L823.97 322L824.73 292.5L825.49 316.7L826.25 290.4L827.1 301.7L827.9 129.8L828.66 159.8L829.42 135.2L830.18 160.5L830.85 149.4L831.65 322L832.41 289.4L833.17 316.7L833.93 292.9L834.77 301.7L835.57 131.3L836.33 162.4L837.09 135.2L837.85 160.5L838.52 149.4L839.32 322L840.08 292.1L840.84 316.7L841.6 292.4L842.44 301.7L843.24 131.2L844 161.6L844.76 135.2L845.52 162.4L846.19 149.4L846.99 322L847.75 288.7L848.51 316.7L849.27 292L850.12 301.7L850.92 129.3L851.68 159.9L852.44 135.2L853.2 159.4L853.87 149.4L854.67 322L855.43 291.1L856.19 316.7L856.95 289.2L857.79 301.7L858.59 131.2L859.35 160.6L860.11 135.2L860.87 159.3L861.54 149.4L862.34 322L863.1 293.2L863.86 316.7L864.62 291.4L865.46 301.7L866.26 129.6L867.02 162L867.78 135.2L868.54 158.9L869.21 149.4L870.01 322L870.77 291.3L871.53 316.7L872.29 290.8L873.14 301.7L873.94 129.5L874.7 159.5L875.46 135.2L876.22 159.3L876.89 149.4L877.69 322L878.45 290.7L879.21 316.7L879.97 291.4L880.81 301.7L881.61 129.2L882.37 160.1L883.13 135.2L883.89 162.2L884.56 149.4L885.36 322L886.12 288.8L886.88 316.7L887.64 289.3L888.48 301.7L889.28 131L890.04 162.6L890.8 135.2L891.56 159.2L892.23 149.4L893.03 322L893.79 293.3L894.55 316.7L895.31 291.5L896.15 301.7L896.95 131.2L897.71 162L898.47 135.2L899.23 159.5L899.9 149.4L900.7 322L901.46 290.7L902.22 316.7L902.98 291.2L903.83 301.7L904.63 130.8"/>
<path stroke="#FBC15E" d="M138.25 135.2L139.01 158.6L139.68 149.4L140.48 322L141.24 290.9L142 316.7L142.76 291.7L143.6 301.7L144.4 129.7L145.16 163.3L145.92 135.2L146.68 161.8L147.35 149.4L148.15 322L148.91 292.5L149.67 316.7L150.43 290.7L151.27 301.7L152.07 130.7L152.83 161.4L153.59 135.2L154.35 158.9L155.02 149.4L155.82 322L156.58 289.4L157.34 316.7L158.1 292.2L158.95 301.7L159.75 131.1L160.51 160.2L161.27 135.2L162.03 160L162.7 149.4L163.5 322L164.26 291.8L165.02 316.7L165.78 292.3L166.62 301.7L167.42 128.7L168.18 161.4L168.94 135.2L169.7 162.1L170.37 149.4L171.17 322L171.93 289.6L172.69 316.7L173.45 289.6L174.29 301.7L175.09 129.9L175.85 162.9L176.61 135.2L177.37 163.3L178.04 149.4L178.84 322L179.6 289.1L180.36 316.7L181.12 289.6L181.97 301.7L182.77 131.3L183.53 160.3L184.29 135.2L185.05 160.5L185.72 149.4L186.52 322L187.28 293.1L188.04 316.7L188.8 289.9L189.64 301.7L190.44 129.6L191.2 160.3L191.96 135.2L192.72 161.9L193.39 149.4L194.19 322L194.95 288.9L195.71 316.7L196.47 292L197.31 301.7L198.11 128.9L198.87 162L199.63 135.2L200.39 162.3L201.06 149.4L201.86 322L202.62 290L203.38 316.7L204.14 292.3L204.98 301.7L205.78 130.2L206.54 163.1L207.3 135.2L208.06 162.9L208.73 149.4L209.53 322L210.29 290.3L211.05 316.7L211.81 290.2L212.66 301.7L213.46 131.2L214.22 160L214.98 135.2L215.74 162.8L216.41 149.4L217.21 322L217.97 291.1L218.73 316.7L219.49 290.4L220.33 301.7L221.13 129.4L221.89 159.5L222.65 135.2L223.41 161.2L224.08 149.4L224.88 322L225.64 290.4L226.4 316.7L227.16 292.9L228 301.7L228.8 129.9L229.56 158.9L230.32 135.2L231.08 163.4L231.75 149.4L232.55 322L233.31 290.1L234.07 316.7L234.83 293.2L235.68 301.7L236.48 129.5L237.24 163.1L238 135.2L238.76 162.5L239.43 149.4L240.23 322L240.99 291.3L241.75 316.7L242.51 292.3L243.35 301.7L244.15 130.2L244.91 159.8L245.67 135.2L246.43 162.1L247.1 149.4L247.9 322L248.66 291.6L249.42 316.7L250.18 292.2L251.02 301.7L251.82 129L252.58 162.1L253.34 135.2L254.1 162.9L254.77 149.4L255.57 322L256.33 289.7L257.09 316.7L257.85 289.6L258.69 301.7L259.5 130.6L260.25 163.4L261.01 135.2L261.77 159.6L262.44 149.4L263.25 322L264 289.9L264.76 316.7L265.52 293.3L266.37 301.7L267.17 128.9L267.93 162.8L268.69 135.2L269.45 162.4L270.12 149.4L270.92 322L271.68 292.9L272.44 316.7L273.2 290.1L274.04 301.7L274.84 128.6L275.6 162.7L276.36 135.2L277.12 160.1L277.79 149.4L278.59 322L279.35 290L280.11 316.7L280.87 292L281.71 301.7L282.51 130.8L283.27 159.1L284.03 135.2L284.79 162.2L285.46 149.4L286.26 322L287.02 289.2L287.78 316.7L288.54 289.1L289.39 301.7L290.19 129.7L290.95 159.7L291.71 135.2L292.47 162L293.14 149.4L293.94 322L294.7 289.3L295.46 316.7L296.22 289.3L297.06 301.7L297.86 130.3L298.62 161.9L299.38 135.2L300.14 160.4L300.81 149.4L301.61 322L302.37 288.6L303.13 316.7L303.89 289L304.73 301.7L305.53 129.5L306.29 160.7L307.05 135.2L307.81 159L308.48 149.4L309.28 322L310.04 293.3L310.8 316.7L311.56 293.2L312.41 301.7L313.21 129.7L313.97 162.2L314.73 135.2L315.49 161.7L316.16 149.4L316.96 322L317.72 290.9L318.48 316.7L319.24 292.1L320.08 301.7L320.88 129.6L321.64 160L322.4 135.2L323.16 159.4L323.83 149.4L324.63 322L325.39 292.8L326.15 316.7L326.91 290L327.75 301.7L328.55 129L329.31 160.7L330.07 135.2L330.83 160.1L331.5 149.4L332.3 322L333.06 293L333.82 316.7L334.58 289.6L335.43 301.7L336.23 128.9L336.99 160.9L337.75 135.2L338.5 161L339.18 149.4L339.98 322L340.74 289.5L341.5 316.7L342.25 288.8L343.1 301.7L343.9 130.5L344.66 160.8L345.42 135.2L346.18 160.3L346.85 149.4L347.65 322L348.41 290L349.17 316.7L349.93 289.3L350.77 301.7L351.57 131L352.33 162.8L353.09 135.2L353.85 161.9L354.52 149.4L355.32 322L356.08 291.7L356.84 316.7L357.6 290.4L358.44 301.7L359.24 130.6L360 159.4L360.76 135.2L361.52 160.3L362.19 149.4L362.99 322L363.75 291.6L364.51 316.7L365.27 293.2L366.12 301.7L366.92 128.8L367.68 163L368.44 135.2L369.2 162.6L369.87 149.4L370.67 322L371.43 290.3L372.19 316.7L372.95 290.6L373.79 301.7L374.59 129.8L375.35 163.2L376.11 135.2L376.87 160.4L377.54 149.4L378.34 322L379.1 292L379.86 316.7L380.62 292.9L381.46 301.7L382.26 129.6L383.02 161.9L383.78 135.2L384.54 159.7L385.21 149.4L386.01 322L386.77 291.6L387.53 316.7L388.29 288.9L389.14 301.7L389.94 131.3L390.7 159.1L391.46 135.2L392.22 162.1L392.89 149.4L393.69 322L394.45 289.7L395.21 316.7L395.97 292.6L396.81 301.7L397.61 129.6L398.37 163L399.13 135.2L399.89 160.8L400.56 149.4L401.36 322L402.12 293.2L402.88 316.7L403.64 291.1L404.48 301.7L405.28 130.2L406.04 162.2L406.8 135.2L407.56 161.3L408.23 149.4L409.03 322L409.79 291.7L410.55 316.7L411.31 290.4L412.16 301.7L412.96 130.1L413.72 160.4L414.48 135.2L415.24 161.5L415.91 149.4L416.71 322L417.47 289.6L418.23 316.7L418.99 290.1L419.83 301.7L420.63 130.4L421.39 161.4L422.15 135.2L422.91 162.7L423.58 149.4L424.38 322L425.14 292L425.9 316.7L426.66 293L427.5 301.7L428.3 130.8L429.06 161.6L429.82 135.2L430.58 158.7L431.25 149.4L432.05 322L432.81 292.8L433.57 316.7L434.33 293.2L435.17 301.7L435.97 130.5L436.73 161.7L437.49 135.2L438.25 162.5L438.92 149.4L439.72 322L440.48 289.9L441.24 316.7L442 291.8L442.85 301.7L443.65 129.1L444.41 159.3L445.17 135.2L445.93 160L446.6 149.4L447.4 322L448.16 291.3L448.92 316.7L449.68 293.2L450.52 301.7L451.32 128.7L452.08 159.6L452.84 135.2L453.6 161.2L454.27 149.4L455.07 322L455.83 293.1L456.59 316.7L457.35 293.2L458.19 301.7L458.99 130.8L459.75 160.4L460.51 135.2L461.27 160.1L461.94 149.4L462.74 322L463.5 290L464.26 316.7L465.02 291.1L465.87 301.7L466.67 129.8L467.43 162.9L468.19 135.2L468.95 161L469.62 149.4L470.42 322L471.18 289.5L471.94 316.7L472.7 289.7L473.54 301.7L474.34 129.3L475.1 163.3L475.86 135.2L476.62 163.4L477.29 149.4L478.09 322L478.85 291.6L479.61 316.7L480.37 289.9L481.21 301.7L482.01 128.8L482.77 162.2L483.53 135.2L484.29 160.2L484.96 149.4L485.76 322L486.52 290.6L487.28 316.7L488.04 290.8L488.89 301.7L489.69 129L490.45 161.1L491.21 135.2L491.97 159.8L492.64 149.4L493.44 322L494.2 292.9L494.96 316.7L495.72 289.3L496.56 301.7L497.36 129.4L498.12 159.6L498.88 135.2L499.64 163.2L500.31 149.4L501.11 322L501.87 288.7L502.63 316.7L503.39 289L504.23 301.7L505.03 131.3L505.79 161.1L506.55 135.2L507.31 162.3L507.98 149.4L508.78 322L509.54 289.2L510.3 316.7L511.06 290.2L511.9 301.7L512.7 129L513.46 162.1L514.22 135.2L514.98 163.1L515.65 149.4L516.45 322L517.21 291.6L517.97 316.7L518.73 291.8L519.58 301.7L520.38 130.7L521.14 159.9L521.9 135.2L522.66 163.1L523.33 149.4L524.13 322L524.89 292.3L525.65 316.7L526.41 292.1L527.25 301.7L528.05 131.2L528.81 159.6L529.57 135.2L530.33 161.7L531 149.4L531.8 322L532.56 290.6L533.32 316.7L534.08 293.2L534.92 301.7L535.72 131L536.48 161.8L537.24 135.2L538 163.4L538.67 149.4L539.47 322L540.23 291.9L540.99 316.7L541.75 288.7L542.6 301.7L543.4 129L544.16 159.8L544.92 135.2L545.68 162.2L546.35 149.4L547.15 322L547.91 292.7L548.67 316.7L549.43 292.8L550.27 301.7L551.07 131.2L551.83 163.1L552.59 135.2L553.35 162.1L554.02 149.4L554.82 322L555.58 291L556.34 316.7L557.1 289.8L557.94 301.7L558.74 131.4L559.5 159.1L560.26 135.2L561.02 161.2L561.69 149.4L562.49 322L563.25 291.4L564.01 316.7L564.77 290.6L565.62 301.7L566.41 131.2L567.17 162.3L567.93 135.2L568.69 161.1L569.37 149.4L570.16 322L570.92 289.8L571.68 316.7L572.44 289.1L573.29 301.7L574.09 130.2L574.85 161.3L575.61 135.2L576.37 162.4L577.04 149.4L577.84 322L578.6 288.6L579.36 316.7L580.12 290.4L580.96 301.7L581.76 128.8L582.52 160.7L583.28 135.2L584.04 163.4L584.71 149.4L585.51 322L586.27 289.9L587.03 316.7L587.79 290.4L588.63 301.7L589.43 129.3L590.19 162.1L590.95 135.2L591.71 162.7L592.38 149.4L593.18 322L593.94 291.1L594.7 316.7L595.46 292.8L596.31 301.7L597.11 131.3L597.87 161.2L598.63 135.2L599.39 160.4L600.06 149.4L600.86 322L601.62 292.3L602.38 316.7L603.14 289.6L603.98 301.7L604.78 129.7L605.54 160.9L606.3 135.2L607.06 159.4L607.73 149.4L608.53 322L609.29 292.2L610.05 316.7L610.81 291.1L611.65 301.7L612.45 130.9L613.21 162.9L613.97 135.2L614.73 161.5L615.4 149.4L616.2 322L616.96 293.3L617.72 316.7L618.48 290.5L619.33 301.7L620.13 129.8L620.89 160.6L621.65 135.2L622.41 162L623.08 149.4L623.88 322L624.64 292.9L625.4 316.7L626.16 292.2L627 301.7L627.8 129.7L628.56 161.2L629.32 135.2L630.08 162.8L630.75 149.4L631.55 322L632.31 289.2L633.07 316.7L633.83 289.1L634.67 301.7L635.47 129.8L636.23 161.7L636.99 135.2L637.75 159.4L638.42 149.4L639.22 322L639.98 291.5L640.74 316.7L641.5 293.2L642.35 301.7L643.14 130.6L643.9 163.2L644.66 135.2L645.42 162.5L646.1 149.4L646.89 322L647.65 289.3L648.41 316.7L649.17 289.8L650.02 301.7L650.82 131.1L651.58 163.4L652.34 135.2L653.1 159.2L653.77 149.4L654.57 322L655.33 290.3L656.09 316.7L656.85 290.8L657.69 301.7L658.49 130.4L659.25 163.2L660.01 135.2L660.77 162.1L661.44 149.4L662.24 322L663 292.8L663.76 316.7L664.52 292.4L665.36 301.7L666.16 129.9L666.92 162.4L667.68 135.2L668.44 159L669.11 149.4L669.91 322L670.67 293L671.43 316.7L672.19 291.5L673.04 301.7L673.84 131.1L674.6 161.1L675.36 135.2L676.12 160.6L676.79 149.4L677.59 322L678.35 291.1L679.11 316.7L679.87 290.4L680.71 301.7L681.51 131.3L682.27 160.7L683.03 135.2L683.79 162.3L684.46 149.4L685.26 322L686.02 291.7L686.78 316.7L687.54 291.4L688.38 301.7L689.18 130L689.94 159.5L690.7 135.2L691.46 160.7L692.13 149.4L692.93 322L693.69 292.2L694.45 316.7L695.21 293.4L696.06 301.7L696.86 129.5L697.62 160.5L698.38 135.2L699.14 161.5L699.81 149.4L700.61 322L701.37 290.4L702.13 316.7L702.89 288.7L703.73 301.7L704.53 130.4L705.29 158.8L706.05 135.2L706.81 159.7L707.48 149.4L708.28 322L709.04 291.7L709.8 316.7L710.56 293.1L711.4 301.7L712.2 130.6L712.96 161.3L713.72 135.2L714.48 158.8L715.15 149.4L715.95 322L716.71 291.4L717.47 316.7L718.23 289.8L719.08 301.7L719.88 129.9L720.63 159.6L721.39 135.2L722.15 162L722.83 149.4L723.62 322L724.38 290.8L725.14 316.7L725.9 289.9L726.75 301.7L727.55 129.1L728.31 163.4L729.07 135.2L729.83 161.7L730.5 149.4L731.3 322L732.06 292.7L732.82 316.7L733.58 291.4L734.42 301.7L735.22 130.9L735.98 162.4L736.74 135.2L737.5 162.7L738.17 149.4L738.97 322L739.73 292.4L740.49 316.7L741.25 290.6L742.09 301.7L742.89 128.6L743.65 159.3L744.41 135.2L745.17 159.8L745.84 149.4L746.64 322L747.4 290.6L748.16 316.7L748.92 292.3L749.77 301.7L750.57 131.2L751.33 159.8L752.09 135.2L752.85 159.2L753.52 149.4L754.32 322L755.08 293.2L755.84 316.7L756.6 291.5L757.44 301.7L758.24 128.9L759 161L759.76 135.2L760.52 159.7L761.19 149.4L761.99 322L762.75 291.1L763.51 316.7L764.27 291.7L765.11 301.7L765.91 129.1L766.67 159.7L767.43 135.2L768.19 160.6L768.86 149.4L769.66 322L770.42 289.1L771.18 316.7L771.94 288.6L772.79 301.7L773.59 128.6L774.35 160.1L775.11 135.2L775.87 160.9L776.54 149.4L777.34 322L778.1 290L778.86 316.7L779.62 289.6L780.46 301.7L781.26 129.8L782.02 162.9L782.78 135.2L783.54 158.7L784.21 149.4L785.01 322L785.77 291.1L786.53 316.7L787.29 292L788.13 301.7L788.93 130.5L789.69 162.5L790.45 135.2L791.21 160.3L791.88 149.4L792.68 322L793.44 290.4L794.2 316.7L794.96 291L795.81 301.7L796.61 129.6L797.37 161.5L798.12 135.2L798.88 162.4L799.56 149.4L800.36 322L801.12 291.7L801.88 316.7L802.63 292.8L803.48 301.7L804.28 128.9L805.04 160.8L805.8 135.2L806.56 160.9L807.23 149.4L808.03 322L808.79 289.3L809.55 316.7L810.31 289L811.15 301.7L811.95 129.6L812.71 158.9L813.47 135.2L814.23 161.5L814.9 149.4L815.7 322L816.46 293.2L817.22 316.7L817.98 291.4L818.82 301.7L819.62 131.3L820.38 159.7L821.14 135.2L821.9 162.9L822.57 149.4L823.37 322L824.13 292.8L824.89 316.7L825.65 291.2L826.5 301.7L827.3 128.6L828.06 159.4L828.82 135.2L829.58 161.2L830.25 149.4L831.05 322L831.81 289.2L832.57 316.7L833.33 290.3L834.17 301.7L834.97 129L835.73 159.2L836.49 135.2L837.25 160.9L837.92 149.4L838.72 322L839.48 289.7L840.24 316.7L841 292L841.84 301.7L842.64 131.3L843.4 160.2L844.16 135.2L844.92 158.6L845.59 149.4L846.39 322L847.15 292.3L847.91 316.7L848.67 292.1L849.52 301.7L850.32 129.7L851.08 163.2L851.84 135.2L852.6 162.2L853.27 149.4L854.07 322L854.83 292.1L855.59 316.7L856.35 289.9L857.19 301.7L857.99 129.3L858.75 160.8L859.51 135.2L860.27 161.2L860.94 149.4L861.74 322L862.5 292.5L863.26 316.7L864.02 290.1L864.86 301.7L865.66 130.6L866.42 159.8L867.18 135.2L867.94 161L868.61 149.4L869.41 322L870.17 292.4L870.93 316.7L871.69 290.4L872.54 301.7L873.34 130.6L874.1 163.2L874.86 135.2L875.62 160.9L876.29 149.4L877.09 322L877.85 288.7L878.61 316.7L879.37 290.8L880.21 301.7L881.01 128.9L881.77 159.2L882.53 135.2L883.29 160.5L883.96 149.4L884.76 322L885.52 290.3L886.28 316.7L887.04 292.8L887.88 301.7L888.68 128.7L889.44 159.5L890.2 135.2L890.96 160.9L891.63 149.4L892.43 322L893.19 289.2L893.95 316.7L894.71 291.9L895.55 301.7L896.35 128.9L897.11 160.6L897.87 135.2L898.63 161.4L899.3 149.4L900.1 322L900.86 288.9L901.62 316.7L902.38 293.4L903.23 301.7L904.03 130.2"/>
<path stroke="#8EBA42" d="M137.94 162L138.7 135.2L139.46 163.4L140.13 149.4L140.93 322L141.69 290.8L142.45 316.7L143.21 292.9L144.05 301.7L144.85 129.7L145.61 162.2L146.37 135.2L147.13 161.8L147.8 149.4L148.6 322L149.36 288.9L150.12 316.7L150.88 291.2L151.72 301.7L152.52 129.9L153.28 159.5L154.04 135.2L154.8 160.1L155.47 149.4L156.27 322L157.03 291.6L157.79 316.7L158.55 290.4L159.4 301.7L160.2 129.9L160.96 162.6L161.72 135.2L162.48 162.6L163.15 149.4L163.95 322L164.71 289.1L165.47 316.7L166.23 290.1L167.07 301.7L167.87 128.8L168.63 160.8L169.39 135.2L170.15 162.3L170.82 149.4L171.62 322L172.38 290.2L173.14 316.7L173.9 291.4L174.74 301.7L175.54 129.1L176.3 161.1L177.06 135.2L177.82 160.6L178.49 149.4L179.29 322L180.05 291.4L180.81 316.7L181.57 292.4L182.41 301.7L183.22 129.2L183.97 160.2L184.74 135.2L185.5 161L186.16 149.4L186.97 322L187.72 291.2L188.49 316.7L189.25 289.4L190.09 301.7L190.89 129.5L191.65 159L192.41 135.2L193.17 160.8L193.84 149.4L194.64 322L195.4 289.5L196.16 316.7L196.92 289L197.76 301.7L198.56 129.8L199.32 159.4L200.08 135.2L200.84 162.7L201.51 149.4L202.31 322L203.07 291.8L203.83 316.7L204.59 289L205.43 301.7L206.23 128.7L206.99 163L207.75 135.2L208.51 161.4L209.18 149.4L209.98 322L210.74 291.6L211.5 316.7L212.26 292.3L213.11 301.7L213.91 130L214.67 162.1L215.43 135.2L216.19 162.2L216.86 149.4L217.66 322L218.42 289L219.18 316.7L219.94 292.2L220.78 301.7L221.58 129.9L222.34 159.6L223.1 135.2L223.86 161.9L224.53 149.4L225.33 322L226.09 291.6L226.85 316.7L227.61 293.4L228.45 301.7L229.25 129.2L230.01 160.8L230.77 135.2L231.53 161.4L232.2 149.4L233 322L233.76 288.7L234.52 316.7L235.28 292.5L236.13 301.7L236.93 131.1L237.69 163L238.45 135.2L239.21 162.3L239.88 149.4L240.68 322L241.44 290.4L242.2 316.7L242.96 289.1L243.8 301.7L244.6 129.6L245.36 161.8L246.12 135.2L246.88 158.7L247.55 149.4L248.35 322L249.11 290.7L249.87 316.7L250.63 290.7L251.47 301.7L252.27 130.5L253.03 161.2L253.79 135.2L254.55 160.8L255.22 149.4L256.02 322L256.78 290.9L257.54 316.7L258.3 293.2L259.14 301.7L259.94 130L260.7 162L261.46 135.2L262.22 160.4L262.89 149.4L263.69 322L264.45 291.1L265.21 316.7L265.97 290.1L266.82 301.7L267.62 129.8L268.38 161.2L269.14 135.2L269.9 162.3L270.57 149.4L271.37 322L272.13 293.1L272.89 316.7L273.65 290.9L274.49 301.7L275.29 129.5L276.05 161.1L276.81 135.2L277.57 162.6L278.24 149.4L279.04 322L279.8 288.9L280.56 316.7L281.32 292.2L282.16 301.7L282.96 129.7L283.72 160.5L284.48 135.2L285.24 160.5L285.91 149.4L286.71 322L287.47 292.2L288.23 316.7L288.99 289.6L289.84 301.7L290.64 131.1L291.4 159.1L292.16 135.2L292.92 158.9L293.59 149.4L294.39 322L295.15 291.1L295.91 316.7L296.67 289.1L297.51 301.7L298.31 130.3L299.07 161.7L299.83 135.2L300.59 159.7L301.26 149.4L302.06 322L302.82 289.8L303.58 316.7L304.34 289.8L305.18 301.7L305.98 128.7L306.74 161.6L307.5 135.2L308.26 162.6L308.93 149.4L309.73 322L310.49 289.7L311.25 316.7L312.01 289.9L312.86 301.7L313.66 129.3L314.42 161.5L315.18 135.2L315.94 159.2L316.61 149.4L317.41 322L318.17 291.6L318.93 316.7L319.69 291.2L320.53 301.7L321.33 130.6L322.09 162.5L322.85 135.2L323.61 161.9L324.28 149.4L325.08 322L325.84 289.5L326.6 316.7L327.36 289.5L328.2 301.7L329 128.8L329.76 160.5L330.52 135.2L331.28 159.7L331.95 149.4L332.75 322L333.51 290.5L334.27 316.7L335.03 291L335.87 301.7L336.67 128.6L337.43 160.6L338.19 135.2L338.95 160L339.62 149.4L340.42 322L341.18 290.2L341.94 316.7L342.7 292.4L343.55 301.7L344.35 129.4L345.11 160.6L345.87 135.2L346.63 162.9L347.3 149.4L348.1 322L348.86 289.5L349.62 316.7L350.38 291.2L351.22 301.7L352.02 130.6L352.78 161L353.54 135.2L354.3 159.8L354.97 149.4L355.77 322L356.53 289.7L357.29 316.7L358.05 289.7L358.89 301.7L359.69 129.5L360.45 161.2L361.21 135.2L361.97 159.2L362.64 149.4L363.44 322L364.2 291.8L364.96 316.7L365.72 291L366.57 301.7L367.37 130.4L368.13 159.7L368.89 135.2L369.65 163.3L370.32 149.4L371.12 322L371.88 291.7L372.64 316.7L373.4 293.2L374.24 301.7L375.04 129.1L375.8 158.7L376.56 135.2L377.32 159.6L377.99 149.4L378.79 322L379.55 291L380.31 316.7L381.07 289.3L381.91 301.7L382.71 130L383.47 161.4L384.23 135.2L384.99 159.5L385.66 149.4L386.46 322L387.22 292.4L387.98 316.7L388.74 291.5L389.59 301.7L390.39 129.3L391.15 162.9L391.91 135.2L392.67 161.1L393.34 149.4L394.14 322L394.9 289.7L395.66 316.7L396.42 292L397.26 301.7L398.06 130.6L398.82 161.9L399.58 135.2L400.34 159.9L401.01 149.4L401.81 322L402.57 290.7L403.33 316.7L404.09 290.6L404.93 301.7L405.73 128.9L406.49 161.6L407.25 135.2L408.01 160.2L408.68 149.4L409.48 322L410.24 292.4L411 316.7L411.76 290.2L412.6 301.7L413.4 128.7L414.16 163.3L414.92 135.2L415.68 158.6L416.35 149.4L417.15 322L417.91 291.5L418.67 316.7L419.43 292.4L420.28 301.7L421.08 128.8L421.84 158.9L422.6 135.2L423.36 160.9L424.03 149.4L424.83 322L425.59 292.1L426.35 316.7L427.11 288.7L427.95 301.7L428.75 129.2L429.51 160.8L430.27 135.2L431.03 162.9L431.7 149.4L432.5 322L433.26 291.7L434.02 316.7L434.78 291.9L435.62 301.7L436.42 131.1L437.18 158.7L437.94 135.2L438.7 158.8L439.37 149.4L440.17 322L440.93 292.5L441.69 316.7L442.45 292L443.3 301.7L444.1 129.5L444.86 162.1L445.62 135.2L446.38 159.5L447.05 149.4L447.85 322L448.61 292.3L449.37 316.7L450.13 293.3L450.97 301.7L451.77 130.9L452.53 162.4L453.29 135.2L454.05 162.2L454.72 149.4L455.52 322L456.28 290.7L457.04 316.7L457.8 293.4L458.64 301.7L459.44 129.5L460.2 158.9L460.96 135.2L461.72 161.6L462.39 149.4L463.19 322L463.95 292.8L464.71 316.7L465.47 290.6L466.32 301.7L467.12 130.2L467.88 160.7L468.64 135.2L469.4 160.1L470.07 149.4L470.87 322L471.63 290.9L472.39 316.7L473.15 292.3L473.99 301.7L474.79 129.1L475.55 160L476.31 135.2L477.07 160.2L477.74 149.4L478.54 322L479.3 288.6L480.06 316.7L480.82 293.3L481.66 301.7L482.46 128.9L483.22 161.7L483.98 135.2L484.74 159.7L485.41 149.4L486.21 322L486.97 292.4L487.73 316.7L488.49 293.3L489.33 301.7L490.13 130.3L490.89 161.9L491.65 135.2L492.41 162.1L493.08 149.4L493.88 322L494.64 291.5L495.4 316.7L496.16 291.8L497.01 301.7L497.81 130.5L498.57 161.6L499.33 135.2L500.09 160.3L500.76 149.4L501.56 322L502.32 292.1L503.08 316.7L503.84 292.7L504.68 301.7L505.48 129.8L506.24 161.4L507 135.2L507.76 162.9L508.43 149.4L509.23 322L509.99 289.1L510.75 316.7L511.51 293.3L512.35 301.7L513.15 130.8L513.91 162.8L514.67 135.2L515.43 160.4L516.1 149.4L516.9 322L517.66 289.4L518.42 316.7L519.18 290L520.03 301.7L520.83 130.8L521.59 161.7L522.35 135.2L523.11 160.1L523.78 149.4L524.58 322L525.34 292.2L526.1 316.7L526.86 292.7L527.7 301.7L528.5 130L529.26 160.5L530.02 135.2L530.78 162.9L531.45 149.4L532.25 322L533.01 292.9L533.77 316.7L534.53 289.2L535.37 301.7L536.17 128.5L536.93 158.7L537.69 135.2L538.45 161.8L539.12 149.4L539.92 322L540.68 289.5L541.44 316.7L542.2 293.2L543.05 301.7L543.85 130.8L544.61 161.6L545.37 135.2L546.13 159.3L546.8 149.4L547.6 322L548.36 291.9L549.12 316.7L549.88 293L550.72 301.7L551.52 130.6L552.28 159.7L553.04 135.2L553.8 160.5L554.47 149.4L555.27 322L556.03 289L556.79 316.7L557.55 289.2L558.39 301.7L559.19 130.7L559.95 159.8L560.71 135.2L561.47 159.4L562.14 149.4L562.94 322L563.7 289.1L564.46 316.7L565.22 291.7L566.07 301.7L566.87 131.1L567.62 159.7L568.38 135.2L569.14 159.2L569.82 149.4L570.62 322L571.38 289.6L572.13 316.7L572.89 293.3L573.74 301.7L574.54 128.8L575.3 160.5L576.06 135.2L576.82 162.5L577.49 149.4L578.29 322L579.05 290.6L579.81 316.7L580.57 291.1L581.41 301.7L582.21 129.2L582.97 161.6L583.73 135.2L584.49 158.6L585.16 149.4L585.96 322L586.72 289.8L587.48 316.7L588.24 290L589.08 301.7L589.88 129L590.64 160.2L591.4 135.2L592.16 161.8L592.83 149.4L593.63 322L594.39 289.4L595.15 316.7L595.91 288.8L596.76 301.7L597.56 130.5L598.32 159.5L599.08 135.2L599.84 161.2L600.51 149.4L601.31 322L602.07 292.6L602.83 316.7L603.59 292.5L604.43 301.7L605.23 130.8L605.99 159.9L606.75 135.2L607.51 158.8L608.18 149.4L608.98 322L609.74 290.7L610.5 316.7L611.26 290.2L612.1 301.7L612.9 128.7L613.66 162.9L614.42 135.2L615.18 163.4L615.85 149.4L616.65 322L617.41 292.4L618.17 316.7L618.93 290.7L619.78 301.7L620.58 131.2L621.34 162.4L622.1 135.2L622.86 161.9L623.53 149.4L624.33 322L625.09 289.3L625.85 316.7L626.61 292.7L627.45 301.7L628.25 130.7L629.01 161.8L629.77 135.2L630.53 160.6L631.2 149.4L632 322L632.76 290.8L633.52 316.7L634.28 293.2L635.12 301.7L635.92 130.5L636.68 162L637.44 135.2L638.2 158.8L638.87 149.4L639.67 322L640.43 292.2L641.19 316.7L641.95 290.9L642.8 301.7L643.6 129.9L644.36 159.3L645.12 135.2L645.88 159.3L646.55 149.4L647.35 322L648.11 289.4L648.87 316.7L649.62 288.9L650.47 301.7L651.27 128.9L652.03 159.5L652.79 135.2L653.55 162.3L654.22 149.4L655.02 322L655.78 291.1L656.54 316.7L657.3 290.1L658.14 301.7L658.94 129.7L659.7 159.6L660.46 135.2L661.22 161.2L661.89 149.4L662.69 322L663.45 289.5L664.21 316.7L664.97 291.5L665.81 301.7L666.61 131.4L667.37 161.3L668.13 135.2L668.89 160.8L669.56 149.4L670.36 322L671.12 290L671.88 316.7L672.64 291.3L673.49 301.7L674.29 128.9L675.05 161.5L675.81 135.2L676.57 159.9L677.24 149.4L678.04 322L678.8 292.6L679.56 316.7L680.32 291.6L681.16 301.7L681.96 129.7L682.72 162.3L683.48 135.2L684.24 160.8L684.91 149.4L685.71 322L686.47 290.6L687.23 316.7L687.99 293.3L688.83 301.7L689.63 129.7L690.39 160.8L691.15 135.2L691.91 161.3L692.58 149.4L693.38 322L694.14 290L694.9 316.7L695.66 293.1L696.51 301.7L697.31 129.1L698.07 160.1L698.83 135.2L699.59 158.7L700.26 149.4L701.06 322L701.82 292.9L702.58 316.7L703.34 291.8L704.18 301.7L704.98 129.5L705.74 160.2L706.5 135.2L707.26 160.6L707.93 149.4L708.73 322L709.49 290.8L710.25 316.7L711.01 291.8L711.85 301.7L712.65 131.3L713.41 158.9L714.17 135.2L714.93 163.4L715.6 149.4L716.4 322L717.16 290.6L717.92 316.7L718.68 292.6L719.53 301.7L720.33 129.6L721.09 159L721.85 135.2L722.61 159.4L723.28 149.4L724.08 322L724.84 293.3L725.6 316.7L726.36 290.6L727.2 301.7L728 128.8L728.76 160.4L729.52 135.2L730.28 159.8L730.95 149.4L731.75 322L732.51 290.8L733.27 316.7L734.03 291.3L734.87 301.7L735.67 130.5L736.43 162.3L737.19 135.2L737.95 160.1L738.62 149.4L739.42 322L740.18 293.1L740.94 316.7L741.7 292.2L742.54 301.7L743.34 131.4L744.1 160.2L744.86 135.2L745.62 162.7L746.29 149.4L747.09 322L747.85 292.5L748.61 316.7L749.37 293.1L750.22 301.7L751.02 131.3L751.78 162.1L752.54 135.2L753.3 162.2L753.97 149.4L754.77 322L755.53 292.2L756.29 316.7L757.05 289.1L757.89 301.7L758.69 128.8L759.45 162.9L760.21 135.2L760.97 159.8L761.64 149.4L762.44 322L763.2 291.8L763.96 316.7L764.72 292.5L765.56 301.7L766.36 131.3L767.12 162.6L767.88 135.2L768.64 162.2L769.31 149.4L770.11 322L770.87 289.1L771.63 316.7L772.39 292.9L773.24 301.7L774.04 129.7L774.8 160.5L775.56 135.2L776.32 160.6L776.99 149.4L777.79 322L778.55 290.5L779.31 316.7L780.07 291.4L780.91 301.7L781.71 130.8L782.47 160.2L783.23 135.2L783.99 163.1L784.66 149.4L785.46 322L786.22 288.9L786.98 316.7L787.74 290.1L788.58 301.7L789.38 129.9L790.14 159.7L790.9 135.2L791.66 160L792.33 149.4L793.13 322L793.89 291.4L794.65 316.7L795.41 293.2L796.26 301.7L797.06 131.1L797.82 163.2L798.58 135.2L799.34 159.9L800.01 149.4L800.81 322L801.57 289.3L802.33 316.7L803.09 291.5L803.93 301.7L804.73 130.9L805.49 162.3L806.25 135.2L807.01 162.9L807.68 149.4L808.48 322L809.24 292.3L810 316.7L810.76 290.5L811.6 301.7L812.4 131.2L813.16 161.6L813.92 135.2L814.68 161.7L815.35 149.4L816.15 322L816.91 292.2L817.67 316.7L818.43 290.6L819.27 301.7L820.07 131.1L820.83 162.4L821.59 135.2L822.35 160L823.02 149.4L823.82 322L824.58 292.4L825.34 316.7L826.1 289.1L826.95 301.7L827.75 130.4L828.51 162.6L829.27 135.2L830.03 159.1L830.7 149.4L831.5 322L832.26 291.7L833.02 316.7L833.78 289.5L834.62 301.7L835.42 130.6L836.18 159.1L836.94 135.2L837.7 161.4L838.37 149.4L839.17 322L839.93 291L840.69 316.7L841.45 293.1L842.29 301.7L843.09 129.5L843.85 162.8L844.61 135.2L845.37 159.4L846.04 149.4L846.84 322L847.6 292.6L848.36 316.7L849.12 291.7L849.97 301.7L850.77 128.8L851.53 162.9L852.29 135.2L853.05 159.1L853.72 149.4L854.52 322L855.28 292.5L856.04 316.7L856.8 289.7L857.64 301.7L858.44 130.9L859.2 159.9L859.96 135.2L860.72 161.1L861.39 149.4L862.19 322L862.95 289.7L863.71 316.7L864.47 290.2L865.31 301.7L866.11 131.2L866.87 162L867.63 135.2L868.39 159.3L869.06 149.4L869.86 322L870.62 290.5L871.38 316.7L872.14 288.6L872.99 301.7L873.79 130.7L874.55 159L875.31 135.2L876.07 162.3L876.74 149.4L877.54 322L878.3 288.6L879.06 316.7L879.82 292.7L880.66 301.7L881.46 131.4L882.22 159.1L882.98 135.2L883.74 161.1L884.41 149.4L885.21 322L885.97 289L886.73 316.7L887.49 293L888.33 301.7L889.13 129.3L889.89 158.7L890.65 135.2L891.41 162.8L892.08 149.4L892.88 322L893.64 291.6L894.4 316.7L895.16 291.8L896 301.7L896.8 128.5L897.56 163.3L898.32 135.2L899.08 161.4L899.75 149.4L900.55 322L901.31 291.9L902.07 316.7L902.83 290.4L903.68 301.7L904.48 128.6"/>
<path stroke="#FFB5B8" d="M137.64 158.7L138.4 135.2L139.16 159.3L139.83 149.4L140.63 322L141.39 292.7L142.15 316.7L142.91 292.7L143.75 301.7L144.55 130.4L145.31 162.4L146.07 135.2L146.83 159.6L147.5 149.4L148.3 322L149.06 292.9L149.82 316.7L150.58 288.8L151.42 301.7L152.22 131L152.98 162.6L153.74 135.2L154.5 163.3L155.17 149.4L155.97 322L156.73 291L157.49 316.7L158.25 292.3L159.1 301.7L159.9 130L160.66 162.4L161.42 135.2L162.18 161.4L162.85 149.4L163.65 322L164.41 291.3L165.17 316.7L165.93 290.5L166.77 301.7L167.57 129.9L168.33 160.1L169.09 135.2L169.85 158.6L170.52 149.4L171.32 322L172.08 291.5L172.84 316.7L173.6 292.5L174.44 301.7L175.24 130.8L176 162.1L176.76 135.2L177.52 161.3L178.19 149.4L178.99 322L179.75 290.4L180.51 316.7L181.27 289L182.12 301.7L182.92 130.6L183.68 162.4L184.44 135.2L185.2 159.5L185.87 149.4L186.67 322L187.43 293.1L188.19 316.7L188.95 290.8L189.79 301.7L190.59 131.3L191.35 160.4L192.11 135.2L192.87 159.4L193.54 149.4L194.34 322L195.1 289.9L195.86 316.7L196.62 291.1L197.46 301.7L198.26 130.9L199.02 161.7L199.78 135.2L200.54 160.9L201.21 149.4L202.01 322L202.77 291.5L203.53 316.7L204.29 292.6L205.13 301.7L205.93 131.3L206.69 160.4L207.45 135.2L208.21 159.1L208.88 149.4L209.68 322L210.44 293.1L211.2 316.7L211.96 291.1L212.81 301.7L213.61 129.2L214.37 159.1L215.13 135.2L215.89 163.2L216.56 149.4L217.36 322L218.12 290.7L218.88 316.7L219.64 291.2L220.48 301.7L221.28 130.8L222.04 160.7L222.8 135.2L223.56 162.4L224.23 149.4L225.03 322L225.79 291.9L226.55 316.7L227.31 289.6L228.15 301.7L228.95 130.2L229.71 160.8L230.47 135.2L231.23 161.5L231.9 149.4L232.7 322L233.46 291.3L234.22 316.7L234.98 289.7L235.83 301.7L236.63 130.9L237.39 161.6L238.15 135.2L238.91 163L239.58 149.4L240.38 322L241.14 292.2L241.9 316.7L242.66 290L243.5 301.7L244.3 130.9L245.06 159.6L245.82 135.2L246.58 160.1L247.25 149.4L248.05 322L248.81 289.7L249.57 316.7L250.33 289.4L251.17 301.7L251.97 131.1L252.73 162.1L253.49 135.2L254.25 158.9L254.92 149.4L255.72 322L256.48 292.4L257.24 316.7L258 288.7L258.85 301.7L259.64 128.6L260.4 162.6L261.16 135.2L261.92 159.5L262.59 149.4L263.39 322L264.15 289.8L264.91 316.7L265.67 290.7L266.52 301.7L267.32 129.8L268.08 159.4L268.84 135.2L269.6 162.6L270.27 149.4L271.07 322L271.83 292.6L272.59 316.7L273.35 290.3L274.19 301.7L274.99 129.3L275.75 159.7L276.51 135.2L277.27 159.1L277.94 149.4L278.74 322L279.5 290.6L280.26 316.7L281.02 293.3L281.86 301.7L282.66 128.9L283.42 158.6L284.18 135.2L284.94 161.4L285.61 149.4L286.41 322L287.17 290.6L287.93 316.7L288.69 292.1L289.54 301.7L290.34 129.4L291.1 161.6L291.86 135.2L292.62 163.2L293.29 149.4L294.09 322L294.85 290.3L295.61 316.7L296.37 290.7L297.21 301.7L298.01 130.6L298.77 163.2L299.53 135.2L300.29 162.3L300.96 149.4L301.76 322L302.52 293.2L303.28 316.7L304.04 289.8L304.88 301.7L305.68 129.1L306.44 160L307.2 135.2L307.96 159.9L308.63 149.4L309.43 322L310.19 292.3L310.95 316.7L311.71 290.2L312.56 301.7L313.36 128.6L314.12 162L314.88 135.2L315.64 162.8L316.31 149.4L317.11 322L317.87 289L318.63 316.7L319.39 288.9L320.23 301.7L321.03 130.5L321.79 159.1L322.55 135.2L323.31 162.5L323.98 149.4L324.78 322L325.54 291.7L326.3 316.7L327.06 291.9L327.9 301.7L328.7 129.5L329.46 162.1L330.22 135.2L330.98 160.3L331.65 149.4L332.45 322L333.21 289.4L333.97 316.7L334.73 292.7L335.57 301.7L336.38 130.4L337.13 161.8L337.89 135.2L338.65 161.4L339.32 149.4L340.12 322L340.88 288.8L341.64 316.7L342.4 289.7L343.25 301.7L344.05 129.2L344.81 159.1L345.57 135.2L346.33 162.6L347 149.4L347.8 322L348.56 293.4L349.32 316.7L350.08 292.2L350.92 301.7L351.72 130.5L352.48 162.3L353.24 135.2L354 159.8L354.67 149.4L355.47 322L356.23 292.3L356.99 316.7L357.75 293.4L358.59 301.7L359.39 130.3L360.15 163.1L360.91 135.2L361.67 160.3L362.34 149.4L363.14 322L363.9 291.6L364.66 316.7L365.42 291.1L366.27 301.7L367.07 128.6L367.83 160L368.59 135.2L369.35 161.9L370.02 149.4L370.82 322L371.58 291.5L372.34 316.7L373.1 290.7L373.94 301.7L374.74 130.1L375.5 163.4L376.26 135.2L377.02 160.3L377.69 149.4L378.49 322L379.25 290.9L380.01 316.7L380.77 292.5L381.61 301.7L382.41 130.9L383.17 163.2L383.93 135.2L384.69 160.4L385.36 149.4L386.16 322L386.92 289.8L387.68 316.7L388.44 292.3L389.29 301.7L390.09 131.3L390.85 160.2L391.61 135.2L392.37 158.7L393.04 149.4L393.84 322L394.6 292.7L395.36 316.7L396.12 293.4L396.96 301.7L397.76 129.6L398.52 160.3L399.28 135.2L400.04 160.1L400.71 149.4L401.51 322L402.27 293.1L403.03 316.7L403.79 289.4L404.63 301.7L405.43 129.5L406.19 163.3L406.95 135.2L407.71 161.6L408.38 149.4L409.18 322L409.94 292.2L410.7 316.7L411.46 291.9L412.31 301.7L413.11 129.6L413.87 160.4L414.62 135.2L415.38 160.8L416.06 149.4L416.86 322L417.62 290.8L418.38 316.7L419.13 291.3L419.98 301.7L420.78 130.9L421.54 159.1L422.3 135.2L423.06 161.9L423.73 149.4L424.53 322L425.29 289L426.05 316.7L426.81 289.1L427.65 301.7L428.45 129.6L429.21 158.8L429.97 135.2L430.73 159.5L431.4 149.4L432.2 322L432.96 289.4L433.72 316.7L434.48 292.6L435.32 301.7L436.12 129.5L436.88 162L437.64 135.2L438.4 160.4L439.07 149.4L439.87 322L440.63 292.4L441.39 316.7L442.15 289.6L443 301.7L443.8 131.3L444.56 159.7L445.32 135.2L446.08 161.8L446.75 149.4L447.55 322L448.31 292.3L449.07 316.7L449.83 293.1L450.67 301.7L451.47 128.7L452.23 162L452.99 135.2L453.75 160.3L454.42 149.4L455.22 322L455.98 290.8L456.74 316.7L457.5 292.2L458.34 301.7L459.14 129.4L459.9 159.6L460.66 135.2L461.42 163L462.09 149.4L462.89 322L463.65 292L464.41 316.7L465.17 293.1L466.02 301.7L466.82 130.3L467.58 160.4L468.34 135.2L469.1 163.4L469.77 149.4L470.57 322L471.33 288.8L472.09 316.7L472.85 289.2L473.69 301.7L474.49 130L475.25 160.4L476.01 135.2L476.77 162.9L477.44 149.4L478.24 322L479 292.5L479.76 316.7L480.52 292.9L481.36 301.7L482.16 129L482.92 161.9L483.68 135.2L484.44 158.7L485.11 149.4L485.91 322L486.67 288.6L487.43 316.7L488.19 291.4L489.04 301.7L489.84 129.8L490.6 162.9L491.36 135.2L492.12 160.1L492.79 149.4L493.59 322L494.35 290.6L495.11 316.7L495.87 290.7L496.71 301.7L497.51 131.2L498.27 162.5L499.03 135.2L499.79 162.4L500.46 149.4L501.26 322L502.02 290.4L502.78 316.7L503.54 290.9L504.38 301.7L505.18 129.5L505.94 161.3L506.7 135.2L507.46 161.3L508.13 149.4L508.93 322L509.69 290.1L510.45 316.7L511.21 290.8L512.05 301.7L512.85 129.4L513.61 158.9L514.37 135.2L515.13 161.7L515.8 149.4L516.6 322L517.36 289.8L518.12 316.7L518.88 292L519.73 301.7L520.53 130.4L521.29 160.4L522.05 135.2L522.81 159.5L523.48 149.4L524.28 322L525.04 290.4L525.8 316.7L526.56 291.5L527.4 301.7L528.2 131L528.96 159.8L529.72 135.2L530.48 159.6L531.15 149.4L531.95 322L532.71 293.2L533.47 316.7L534.23 291.6L535.07 301.7L535.87 129.9L536.63 163.1L537.39 135.2L538.15 159.1L538.82 149.4L539.62 322L540.38 292.3L541.14 316.7L541.9 290.5L542.75 301.7L543.55 130.2L544.31 163.3L545.07 135.2L545.83 160L546.5 149.4L547.3 322L548.06 290.3L548.82 316.7L549.58 289.1L550.42 301.7L551.22 131L551.98 161.5L552.74 135.2L553.5 162.4L554.17 149.4L554.97 322L555.73 289.4L556.49 316.7L557.25 289.7L558.09 301.7L558.89 131.3L559.65 161.4L560.41 135.2L561.17 162.8L561.84 149.4L562.64 322L563.4 293.1L564.16 316.7L564.92 290.7L565.77 301.7L566.57 130.7L567.33 159.6L568.09 135.2L568.85 163.4L569.52 149.4L570.32 322L571.08 289.2L571.84 316.7L572.6 290.4L573.44 301.7L574.24 131L575 160.5L575.76 135.2L576.52 160.2L577.19 149.4L577.99 322L578.75 289.1L579.51 316.7L580.27 290.1L581.11 301.7L581.91 131.2L582.67 160.2L583.43 135.2L584.19 161.5L584.86 149.4L585.66 322L586.42 291.6L587.18 316.7L587.94 290L588.78 301.7L589.58 128.7L590.34 159.3L591.1 135.2L591.86 158.8L592.53 149.4L593.33 322L594.09 288.8L594.85 316.7L595.61 289.4L596.46 301.7L597.26 131L598.02 161.2L598.78 135.2L599.54 160.5L600.21 149.4L601.01 322L601.77 292.6L602.53 316.7L603.29 292.7L604.13 301.7L604.93 131.1L605.69 160.6L606.45 135.2L607.21 161.1L607.88 149.4L608.68 322L609.44 291.7L610.2 316.7L610.96 291.7L611.8 301.7L612.6 128.6L613.36 162.1L614.12 135.2L614.88 162L615.55 149.4L616.35 322L617.11 290.9L617.87 316.7L618.63 292.8L619.48 301.7L620.28 129.9L621.04 163.2L621.8 135.2L622.56 158.8L623.23 149.4L624.03 322L624.79 289.7L625.55 316.7L626.31 292.6L627.15 301.7L627.95 129.7L628.71 161.7L629.47 135.2L630.23 160.5L630.9 149.4L631.7 322L632.46 292.9L633.22 316.7L633.98 292.2L634.82 301.7L635.62 129.4L636.38 163.2L637.14 135.2L637.9 162.3L638.57 149.4L639.37 322L640.13 292L640.89 316.7L641.65 290.3L642.5 301.7L643.3 129.1L644.06 161.5L644.82 135.2L645.58 159.6L646.25 149.4L647.05 322L647.81 291.9L648.57 316.7L649.33 291.3L650.17 301.7L650.97 129.3L651.73 161L652.49 135.2L653.25 159.7L653.92 149.4L654.72 322L655.48 289.3L656.24 316.7L657 289.6L657.84 301.7L658.64 130.9L659.4 159.2L660.16 135.2L660.92 160.6L661.59 149.4L662.39 322L663.15 289.4L663.91 316.7L664.67 290.5L665.51 301.7L666.31 131L667.07 160.2L667.83 135.2L668.59 161.9L669.26 149.4L670.06 322L670.82 290.9L671.58 316.7L672.34 290.1L673.19 301.7L673.99 129.6L674.75 163.1L675.51 135.2L676.27 162.7L676.94 149.4L677.74 322L678.5 289.1L679.26 316.7L680.02 288.9L680.86 301.7L681.66 129.2L682.42 160.8L683.18 135.2L683.94 163L684.61 149.4L685.41 322L686.17 291.7L686.93 316.7L687.69 289L688.53 301.7L689.33 129.9L690.09 162.8L690.85 135.2L691.61 162.5L692.28 149.4L693.08 322L693.84 290.4L694.6 316.7L695.36 289.5L696.21 301.7L697.01 130.9L697.77 160.3L698.53 135.2L699.29 160.4L699.96 149.4L700.76 322L701.52 291.2L702.28 316.7L703.04 289.4L703.88 301.7L704.68 131.4L705.44 159.9L706.2 135.2L706.96 161L707.63 149.4L708.43 322L709.19 289.1L709.95 316.7L710.71 290.1L711.55 301.7L712.35 130.3L713.11 159.4L713.87 135.2L714.63 163.1L715.3 149.4L716.1 322L716.86 290L717.62 316.7L718.38 290.4L719.23 301.7L720.03 128.9L720.79 162.6L721.55 135.2L722.31 160.7L722.98 149.4L723.78 322L724.54 291.1L725.3 316.7L726.06 293L726.9 301.7L727.7 128.8L728.46 159.3L729.22 135.2L729.98 158.9L730.65 149.4L731.45 322L732.21 289.7L732.97 316.7L733.73 290.6L734.57 301.7L735.37 130L736.13 160.4L736.89 135.2L737.65 163.2L738.32 149.4L739.12 322L739.88 290.7L740.64 316.7L741.4 291.1L742.24 301.7L743.04 128.6L743.8 163.2L744.56 135.2L745.32 160L745.99 149.4L746.79 322L747.55 293.3L748.31 316.7L749.07 288.7L749.92 301.7L750.72 130L751.48 162.5L752.24 135.2L753 160.8L753.67 149.4L754.47 322L755.23 289.7L755.99 316.7L756.75 288.7L757.59 301.7L758.39 129.3L759.15 160.9L759.91 135.2L760.67 159.7L761.34 149.4L762.14 322L762.9 288.7L763.66 316.7L764.42 291.3L765.26 301.7L766.06 130.1L766.82 159.3L767.58 135.2L768.34 158.7L769.01 149.4L769.81 322L770.57 288.9L771.33 316.7L772.09 292.8L772.94 301.7L773.74 128.8L774.5 159.8L775.26 135.2L776.02 159.7L776.69 149.4L777.49 322L778.25 292.5L779.01 316.7L779.77 293.2L780.61 301.7L781.41 128.6L782.17 159L782.93 135.2L783.69 160.1L784.36 149.4L785.16 322L785.92 290.8L786.68 316.7L787.44 291.1L788.28 301.7L789.08 130.3L789.84 159.9L790.6 135.2L791.36 161.1L792.03 149.4L792.83 322L793.59 288.9L794.35 316.7L795.11 289.8L795.96 301.7L796.76 128.8L797.52 161.1L798.28 135.2L799.04 162L799.71 149.4L800.51 322L801.27 288.9L802.03 316.7L802.79 288.6L803.63 301.7L804.43 129.4L805.19 160L805.95 135.2L806.71 160.9L807.38 149.4L808.18 322L808.94 290.9L809.7 316.7L810.46 292.6L811.3 301.7L812.1 129L812.86 162.2L813.62 135.2L814.38 159.4L815.05 149.4L815.85 322L816.61 292.1L817.37 316.7L818.13 292.8L818.97 301.7L819.77 131.3L820.53 160.8L821.29 135.2L822.05 162.8L822.72 149.4L823.52 322L824.28 291.6L825.04 316.7L825.8 288.9L826.65 301.7L827.45 129.1L828.21 162.4L828.97 135.2L829.73 160.7L830.4 149.4L831.2 322L831.96 288.6L832.72 316.7L833.48 288.7L834.32 301.7L835.12 128.6L835.88 160.4L836.64 135.2L837.4 159.2L838.07 149.4L838.87 322L839.63 292.7L840.39 316.7L841.15 292.9L841.99 301.7L842.79 130.2L843.55 159.7L844.31 135.2L845.07 161.5L845.74 149.4L846.54 322L847.3 291.7L848.06 316.7L848.82 293.3L849.67 301.7L850.47 130.5L851.23 161L851.99 135.2L852.75 161.2L853.42 149.4L854.22 322L854.98 290.6L855.74 316.7L856.5 289.2L857.34 301.7L858.14 131.2L858.9 161L859.66 135.2L860.42 162.1L861.09 149.4L861.89 322L862.65 290.8L863.41 316.7L864.17 292.2L865.01 301.7L865.81 130.2L866.57 161.3L867.33 135.2L868.09 163.3L868.76 149.4L869.56 322L870.32 292.5L871.08 316.7L871.84 290.9L872.69 301.7L873.49 131.3L874.25 163.1L875.01 135.2L875.77 162.8L876.44 149.4L877.24 322L878 290.5L878.76 316.7L879.52 292.7L880.36 301.7L881.16 130.7L881.92 162.4L882.68 135.2L883.44 159.3L884.11 149.4L884.91 322L885.67 293.3L886.43 316.7L887.19 292.6L888.03 301.7L888.83 131.1L889.59 160.6L890.35 135.2L891.11 160.9L891.78 149.4L892.58 322L893.34 291.7L894.1 316.7L894.86 291.2L895.7 301.7L896.5 128.6L897.26 158.6L898.02 135.2L898.78 160.6L899.45 149.4L900.25 322L901.01 292L901.77 316.7L902.53 291.9L903.38 301.7L904.18 130.7"/>
<path stroke="#E24A33" d="M138.04 161.8L138.8 135.2L139.56 163.2L140.23 149.4L141.03 322L141.79 289.8L142.55 316.7L143.31 291.5L144.15 301.7L144.95 128.6L145.71 160L146.47 135.2L147.23 159.9L147.9 149.4L148.7 322L149.46 289.5L150.22 316.7L150.98 291L151.82 301.7L152.62 130.8L153.38 159.6L154.14 135.2L154.9 159.5L155.57 149.4L156.37 322L157.13 289.2L157.89 316.7L158.65 293.1L159.5 301.7L160.3 131.2L161.06 160.8L161.82 135.2L162.58 163L163.25 149.4L164.05 322L164.81 290.8L165.57 316.7L166.33 290.4L167.17 301.7L167.97 130L168.73 161.1L169.49 135.2L170.25 162.2L170.92 149.4L171.72 322L172.48 293.4L173.24 316.7L174 290.4L174.84 301.7L175.64 130.2L176.4 159L177.16 135.2L177.92 158.9L178.59 149.4L179.39 322L180.15 293.2L180.91 316.7L181.67 291.1L182.51 301.7L183.31 128.8L184.07 160.9L184.84 135.2L185.59 160.5L186.26 149.4L187.06 322L187.82 292L188.59 316.7L189.34 293.4L190.19 301.7L190.99 130.5L191.75 160.1L192.51 135.2L193.27 158.9L193.94 149.4L194.74 322L195.5 288.8L196.26 316.7L197.02 291.2L197.86 301.7L198.66 129.4L199.42 162.1L200.18 135.2L200.94 159.1L201.61 149.4L202.41 322L203.17 290.3L203.93 316.7L204.69 293.1L205.53 301.7L206.33 129.6L207.09 160.2L207.85 135.2L208.61 163L209.28 149.4L210.08 322L210.84 292L211.6 316.7L212.36 290.3L213.21 301.7L214.01 131.1L214.77 161.3L215.53 135.2L216.29 159.6L216.96 149.4L217.76 322L218.52 291.2L219.28 316.7L220.04 289.8L220.88 301.7L221.68 130.4L222.44 161.6L223.2 135.2L223.96 162.7L224.63 149.4L225.43 322L226.19 290.3L226.95 316.7L227.71 288.8L228.55 301.7L229.35 130.1L230.11 160.4L230.87 135.2L231.63 162.6L232.3 149.4L233.1 322L233.86 290.4L234.62 316.7L235.38 288.9L236.23 301.7L237.03 129.9L237.79 159.6L238.55 135.2L239.31 162.1L239.98 149.4L240.78 322L241.54 293.3L242.3 316.7L243.06 288.7L243.9 301.7L244.7 129.4L245.46 163.3L246.22 135.2L246.98 161.9L247.65 149.4L248.45 322L249.21 290L249.97 316.7L250.73 292.5L251.57 301.7L252.37 129.3L253.13 159L253.89 135.2L254.65 162.6L255.32 149.4L256.12 322L256.88 289L257.64 316.7L258.4 290.3L259.25 301.7L260.04 129.3L260.8 161.7L261.56 135.2L262.32 160.9L262.99 149.4L263.79 322L264.55 293.3L265.31 316.7L266.07 293.1L266.92 301.7L267.72 130.6L268.48 162L269.24 135.2L270 162.7L270.67 149.4L271.47 322L272.23 291.6L272.99 316.7L273.75 292.3L274.59 301.7L275.39 129.7L276.15 161.8L276.91 135.2L277.67 161.8L278.34 149.4L279.14 322L279.9 290.7L280.66 316.7L281.42 292.1L282.26 301.7L283.06 131.3L283.82 161.2L284.58 135.2L285.34 163.4L286.01 149.4L286.81 322L287.57 292.6L288.33 316.7L289.09 292.6L289.94 301.7L290.74 131L291.5 161.4L292.26 135.2L293.02 162.7L293.69 149.4L294.49 322L295.25 291.3L296.01 316.7L296.77 290.8L297.61 301.7L298.41 130.3L299.17 160L299.93 135.2L300.69 159.4L301.36 149.4L302.16 322L302.92 292.9L303.68 316.7L304.44 291.4L305.28 301.7L306.08 130.5L306.84 161.8L307.6 135.2L308.36 159.1L309.03 149.4L309.83 322L310.59 292.6L311.35 316.7L312.11 288.9L312.96 301.7L313.76 128.7L314.52 160.4L315.28 135.2L316.04 159.8L316.71 149.4L317.51 322L318.27 291.3L319.03 316.7L319.79 290.3L320.63 301.7L321.43 129.4L322.19 159.7L322.95 135.2L323.71 160.9L324.38 149.4L325.18 322L325.94 291.6L326.7 316.7L327.46 289.4L328.3 301.7L329.1 129.1L329.86 159.2L330.62 135.2L331.38 159.1L332.05 149.4L332.85 322L333.61 288.7L334.37 316.7L335.13 288.7L335.97 301.7L336.77 129L337.53 159L338.29 135.2L339.05 159.2L339.72 149.4L340.52 322L341.28 291.8L342.04 316.7L342.8 290.6L343.65 301.7L344.45 129.3L345.21 163.2L345.97 135.2L346.73 161.5L347.4 149.4L348.2 322L348.96 289.3L349.72 316.7L350.48 289.7L351.32 301.7L352.12 130.7L352.88 161.2L353.64 135.2L354.4 158.8L355.07 149.4L355.87 322L356.63 289.7L357.39 316.7L358.15 292.9L358.99 301.7L359.79 130.4L360.55 163.4L361.31 135.2L362.07 161.3L362.74 149.4L363.54 322L364.3 291.4L365.06 316.7L365.82 289.6L366.67 301.7L367.47 128.5L368.23 162.5L368.99 135.2L369.75 158.7L370.42 149.4L371.22 322L371.98 290.6L372.74 316.7L373.5 291.3L374.34 301.7L375.14 129.9L375.9 162.1L376.66 135.2L377.42 159.9L378.09 149.4L378.89 322L379.65 291L380.41 316.7L381.17 291.1L382.01 301.7L382.81 130.3L383.57 161.4L384.33 135.2L385.09 162.4L385.76 149.4L386.56 322L387.32 292.9L388.08 316.7L388.84 291.6L389.69 301.7L390.49 129.2L391.25 160.9L392.01 135.2L392.77 160.5L393.44 149.4L394.24 322L395 289.9L395.76 316.7L396.52 291.5L397.36 301.7L398.16 128.6L398.92 159.2L399.68 135.2L400.44 161.3L401.11 149.4L401.91 322L402.67 292.5L403.43 316.7L404.19 291.1L405.03 301.7L405.83 131.2L406.59 163L407.35 135.2L408.11 161.9L408.78 149.4L409.58 322L410.34 291.5L411.1 316.7L411.86 291L412.7 301.7L413.5 131.4L414.26 160.5L415.02 135.2L415.78 162.8L416.45 149.4L417.25 322L418.01 289.8L418.77 316.7L419.53 289L420.38 301.7L421.18 130L421.94 161.6L422.7 135.2L423.46 161.2L424.13 149.4L424.93 322L425.69 288.7L426.45 316.7L427.21 290.6L428.05 301.7L428.85 128.9L429.61 160.5L430.37 135.2L431.13 162.2L431.8 149.4L432.6 322L433.36 289.8L434.12 316.7L434.88 292.8L435.72 301.7L436.52 131.3L437.28 160L438.04 135.2L438.8 162.2L439.47 149.4L440.27 322L441.03 290.2L441.79 316.7L442.55 290.8L443.4 301.7L444.2 128.7L444.96 160.1L445.72 135.2L446.48 161.4L447.15 149.4L447.95 322L448.71 293.1L449.47 316.7L450.23 292.2L451.07 301.7L451.87 130.6L452.63 158.9L453.39 135.2L454.15 158.7L454.82 149.4L455.62 322L456.38 290.4L457.14 316.7L457.9 289.9L458.74 301.7L459.54 128.5L460.3 161.5L461.06 135.2L461.82 161.4L462.49 149.4L463.29 322L464.05 291.1L464.81 316.7L465.57 290.7L466.42 301.7L467.22 129.8L467.98 159.8L468.74 135.2L469.5 159.4L470.17 149.4L470.97 322L471.73 291.8L472.49 316.7L473.25 290.9L474.09 301.7L474.89 129.4L475.65 161L476.41 135.2L477.17 163.4L477.84 149.4L478.64 322L479.4 292.7L480.16 316.7L480.92 292.9L481.76 301.7L482.56 130L483.32 159.6L484.08 135.2L484.84 160.8L485.51 149.4L486.31 322L487.07 288.6L487.83 316.7L488.59 289.4L489.44 301.7L490.24 131L491 158.6L491.75 135.2L492.51 158.6L493.19 149.4L493.99 322L494.75 292.9L495.5 316.7L496.26 290.7L497.11 301.7L497.91 130.6L498.67 160.3L499.43 135.2L500.19 159.1L500.86 149.4L501.66 322L502.42 291.6L503.18 316.7L503.94 289.3L504.78 301.7L505.58 131.3L506.34 160L507.1 135.2L507.86 159.7L508.53 149.4L509.33 322L510.09 289.9L510.85 316.7L511.61 292.9L512.45 301.7L513.25 130L514.01 160.4L514.77 135.2L515.53 159.8L516.2 149.4L517 322L517.76 290.2L518.52 316.7L519.28 292.6L520.13 301.7L520.93 129.1L521.69 162.1L522.45 135.2L523.21 161.8L523.88 149.4L524.68 322L525.44 288.8L526.2 316.7L526.96 290.9L527.8 301.7L528.6 130.3L529.36 162.2L530.12 135.2L530.88 163.4L531.55 149.4L532.35 322L533.11 293.1L533.87 316.7L534.63 289.5L535.47 301.7L536.27 128.9L537.03 158.7L537.79 135.2L538.55 158.9L539.22 149.4L540.02 322L540.78 291.1L541.54 316.7L542.3 293.3L543.15 301.7L543.95 128.8L544.71 162.6L545.47 135.2L546.23 163.1L546.9 149.4L547.7 322L548.46 292.3L549.22 316.7L549.98 292.5L550.82 301.7L551.62 131L552.38 162.6L553.14 135.2L553.9 162L554.57 149.4L555.37 322L556.13 293.3L556.89 316.7L557.65 290L558.49 301.7L559.29 129.9L560.05 161.3L560.81 135.2L561.57 162L562.24 149.4L563.04 322L563.8 290.1L564.56 316.7L565.32 292.6L566.16 301.7L566.96 129.3L567.72 160.7L568.48 135.2L569.24 162.7L569.91 149.4L570.71 322L571.47 291.1L572.23 316.7L572.99 290.9L573.84 301.7L574.64 129.7L575.4 160.4L576.16 135.2L576.92 162.3L577.59 149.4L578.39 322L579.15 292.1L579.91 316.7L580.67 290.8L581.51 301.7L582.31 129.4L583.07 162.3L583.83 135.2L584.59 159.8L585.26 149.4L586.06 322L586.82 293.4L587.58 316.7L588.34 289.1L589.18 301.7L589.98 131.4L590.74 159.9L591.5 135.2L592.26 160.3L592.93 149.4L593.73 322L594.49 289.5L595.25 316.7L596.01 290.1L596.86 301.7L597.66 130L598.42 162.4L599.18 135.2L599.94 160L600.61 149.4L601.41 322L602.17 292.7L602.93 316.7L603.69 292.6L604.53 301.7L605.33 129.1L606.09 160.9L606.85 135.2L607.61 163.4L608.28 149.4L609.08 322L609.84 291.1L610.6 316.7L611.36 291.8L612.2 301.7L613 128.7L613.76 161.4L614.52 135.2L615.28 159.3L615.95 149.4L616.75 322L617.51 289.7L618.27 316.7L619.03 291.4L619.88 301.7L620.68 129.2L621.44 163.3L622.2 135.2L622.96 162.6L623.63 149.4L624.43 322L625.19 288.9L625.95 316.7L626.71 293.1L627.55 301.7L628.35 131.1L629.11 160.2L629.87 135.2L630.63 160.1L631.3 149.4L632.1 322L632.86 292.3L633.62 316.7L634.38 290.6L635.22 301.7L636.02 130.1L636.78 161.4L637.54 135.2L638.3 161.6L638.97 149.4L639.77 322L640.53 291.9L641.29 316.7L642.05 292.5L642.89 301.7L643.69 130.6L644.45 162.1L645.21 135.2L645.97 161.9L646.64 149.4L647.44 322L648.2 289.2L648.96 316.7L649.72 292.6L650.57 301.7L651.37 130.2L652.13 161.3L652.89 135.2L653.65 159.8L654.32 149.4L655.12 322L655.88 290.3L656.64 316.7L657.4 293.2L658.24 301.7L659.04 130.1L659.8 159.8L660.56 135.2L661.32 162.8L661.99 149.4L662.79 322L663.55 289.6L664.31 316.7L665.07 292.3L665.91 301.7L666.71 131.4L667.47 159L668.23 135.2L668.99 160.7L669.66 149.4L670.46 322L671.22 292.9L671.98 316.7L672.74 289.5L673.59 301.7L674.39 129.4L675.15 160.3L675.91 135.2L676.67 160.2L677.34 149.4L678.14 322L678.9 291.6L679.66 316.7L680.42 290L681.26 301.7L682.06 130.9L682.82 163L683.58 135.2L684.34 162.9L685.01 149.4L685.81 322L686.57 292.9L687.33 316.7L688.09 291.8L688.93 301.7L689.73 130L690.49 161L691.25 135.2L692.01 159.5L692.68 149.4L693.48 322L694.24 289.5L695 316.7L695.76 290.5L696.61 301.7L697.41 129L698.17 160.1L698.93 135.2L699.69 159.7L700.36 149.4L701.16 322L701.92 289.8L702.68 316.7L703.44 289.8L704.28 301.7L705.08 128.8L705.84 163.1L706.6 135.2L707.36 162.3L708.03 149.4L708.83 322L709.59 292.5L710.35 316.7L711.11 291.7L711.95 301.7L712.75 129.9L713.51 160.9L714.27 135.2L715.03 161.5L715.7 149.4L716.5 322L717.26 290.2L718.02 316.7L718.78 292.4L719.62 301.7L720.42 131L721.18 161.3L721.94 135.2L722.7 159.1L723.38 149.4L724.17 322L724.93 290.7L725.69 316.7L726.45 291.5L727.3 301.7L728.1 129.6L728.86 159.3L729.62 135.2L730.38 163.4L731.05 149.4L731.85 322L732.61 289.2L733.37 316.7L734.13 290.6L734.97 301.7L735.77 128.8L736.53 163L737.29 135.2L738.05 161L738.72 149.4L739.52 322L740.28 291.6L741.04 316.7L741.8 289.6L742.64 301.7L743.44 129.7L744.2 160.9L744.96 135.2L745.72 159.9L746.39 149.4L747.19 322L747.95 289.2L748.71 316.7L749.47 288.6L750.32 301.7L751.12 128.9L751.88 160.5L752.64 135.2L753.4 160.1L754.07 149.4L754.87 322L755.63 289.8L756.39 316.7L757.15 291.8L757.99 301.7L758.79 128.8L759.55 163.3L760.31 135.2L761.07 160L761.74 149.4L762.54 322L763.3 292.3L764.06 316.7L764.82 289L765.66 301.7L766.46 129.9L767.22 159.8L767.98 135.2L768.74 159L769.41 149.4L770.21 322L770.97 291.6L771.73 316.7L772.49 290L773.34 301.7L774.14 131.3L774.9 161.2L775.66 135.2L776.42 159.5L777.09 149.4L777.89 322L778.65 292.2L779.41 316.7L780.17 289.2L781.01 301.7L781.81 128.8L782.57 160.3L783.33 135.2L784.09 162.9L784.76 149.4L785.56 322L786.32 291.3L787.08 316.7L787.84 289.6L788.68 301.7L789.48 129.7L790.24 162.8L791 135.2L791.76 162.2L792.43 149.4L793.23 322L793.99 290.5L794.75 316.7L795.51 293.2L796.36 301.7L797.15 128.6L797.91 159.7L798.67 135.2L799.43 162.8L800.11 149.4L800.9 322L801.66 290.7L802.42 316.7L803.18 291.5L804.03 301.7L804.83 129.4L805.59 160.4L806.35 135.2L807.11 160.1L807.78 149.4L808.58 322L809.34 293.2L810.1 316.7L810.86 291.2L811.7 301.7L812.5 130.3L813.26 160.5L814.02 135.2L814.78 162.6L815.45 149.4L816.25 322L817.01 290.6L817.77 316.7L818.53 293.2L819.37 301.7L820.17 129.7L820.93 159.6L821.69 135.2L822.45 160.3L823.12 149.4L823.92 322L824.68 289.7L825.44 316.7L826.2 291.3L827.05 301.7L827.85 130.1L828.61 159.6L829.37 135.2L830.13 161.5L830.8 149.4L831.6 322L832.36 292.4L833.12 316.7L833.88 289.9L834.72 301.7L835.52 130.3L836.28 162.5L837.04 135.2L837.8 158.6L838.47 149.4L839.27 322L840.03 290.7L840.79 316.7L841.55 291.3L842.39 301.7L843.19 129.9L843.95 162.1L844.71 135.2L845.47 161.2L846.14 149.4L846.94 322L847.7 288.9L848.46 316.7L849.22 290L850.07 301.7L850.87 130.5L851.63 162.8L852.39 135.2L853.15 158.8L853.82 149.4L854.62 322L855.38 292.2L856.14 316.7L856.9 291.9L857.74 301.7L858.54 129.9L859.3 161.2L860.06 135.2L860.82 161.3L861.49 149.4L862.29 322L863.05 289.3L863.81 316.7L864.57 291.2L865.41 301.7L866.21 128.6L866.97 161.7L867.73 135.2L868.49 159.4L869.16 149.4L869.96 322L870.72 293L871.48 316.7L872.24 288.8L873.09 301.7L873.88 130.7L874.64 163L875.4 135.2L876.16 161.2L876.84 149.4L877.63 322L878.39 289.7L879.15 316.7L879.91 291.9L880.76 301.7L881.56 130.8L882.32 162.6L883.08 135.2L883.84 161.7L884.51 149.4L885.31 322L886.07 293.2L886.83 316.7L887.59 293.4L888.43 301.7L889.23 131.2L889.99 161.8L890.75 135.2L891.51 158.9L892.18 149.4L892.98 322L893.74 293.4L894.5 316.7L895.26 289.4L896.1 301.7L896.9 130.4L897.66 160.5L898.42 135.2L899.18 161L899.85 149.4L900.65 322L901.41 291.9L902.17 316.7L902.93 291.4L903.78 301.7L904.58 128.8"/>
<path stroke="#348ABD" d="M137.79 129L138.17 166L138.55 130.6L138.93 164.3L139.31 140.6L139.69 165.7L139.98 149.4L140.78 322L141.16 284.3L141.54 322L141.92 286.9L142.3 316.7L142.68 288.1L143.06 309.6L143.44 285L143.9 301.7L144.7 129.6L145.08 164.9L145.46 129L145.84 166.7L146.22 130.6L146.6 167.4L146.98 140.6L147.36 165.2L147.65 149.4L148.45 322L148.83 284.7L149.21 322L149.59 286.7L149.97 316.7L150.35 285L150.73 309.6L151.11 286.6L151.57 301.7L152.37 129.5L152.75 165L153.13 129L153.51 165.8L153.89 130.6L154.27 167.8L154.65 140.6L155.03 167.6L155.32 149.4L156.12 322L156.5 285.3L156.88 322L157.26 287.8L157.64 316.7L158.02 285.4L158.4 309.6L158.78 287.8L159.25 301.7L160.05 128.8L160.43 166L160.81 129L161.19 166.1L161.57 130.6L161.95 164.2L162.33 140.6L162.71 165.3L163 149.4L163.8 322L164.18 286.6L164.56 322L164.94 286.2L165.32 316.7L165.7 285L166.08 309.6L166.46 286.1L166.92 301.7L167.72 131.1L168.1 164.7L168.48 129L168.86 164.7L169.24 130.6L169.62 165L170 140.6L170.38 167.7L170.67 149.4L171.47 322L171.85 285.2L172.23 322L172.61 284.8L172.99 316.7L173.37 287.3L173.75 309.6L174.13 285.9L174.59 301.7L175.39 130.4L175.77 165L176.15 129L176.53 165.3L176.91 130.6L177.29 165.2L177.67 140.6L178.05 165.6L178.34 149.4L179.14 322L179.52 287L179.9 322L180.28 287.9L180.66 316.7L181.04 288L181.42 309.6L181.8 286.8L182.26 301.7L183.06 129.5L183.44 167.2L183.82 129L184.2 167.1L184.59 130.6L184.97 167.3L185.34 140.6L185.72 166.1L186.01 149.4L186.81 322L187.19 287.2L187.57 322L187.95 285.6L188.34 316.7L188.72 285.6L189.09 309.6L189.47 286.6L189.94 301.7L190.74 131.2L191.12 164L191.5 129L191.88 166.3L192.26 130.6L192.64 167.5L193.02 140.6L193.4 164.5L193.69 149.4L194.49 322L194.87 286.8L195.25 322L195.63 284.7L196.01 316.7L196.39 286.7L196.77 309.6L197.15 287.3L197.61 301.7L198.41 130L198.79 167.2L199.17 129L199.55 165.7L199.93 130.6L200.31 165.1L200.69 140.6L201.07 164.5L201.36 149.4L202.16 322L202.54 286.4L202.92 322L203.3 287.2L203.68 316.7L204.06 284.4L204.44 309.6L204.82 288L205.28 301.7L206.08 130.1L206.46 164.1L206.84 129L207.22 166.6L207.6 130.6L207.98 167.3L208.36 140.6L208.74 167.4L209.03 149.4L209.83 322L210.21 286.3L210.59 322L210.97 287.5L211.35 316.7L211.73 286.6L212.11 309.6L212.49 287L212.96 301.7L213.76 131L214.14 166.7L214.52 129L214.9 167.5L215.28 130.6L215.66 166.2L216.04 140.6L216.42 165.1L216.71 149.4L217.51 322L217.89 286.3L218.27 322L218.65 284.8L219.03 316.7L219.41 287.8L219.79 309.6L220.17 287L220.63 301.7L221.43 129.8L221.81 166.1L222.19 129L222.57 164.6L222.95 130.6L223.33 166L223.71 140.6L224.09 165.2L224.38 149.4L225.18 322L225.56 284.5L225.94 322L226.32 287.3L226.7 316.7L227.08 286.5L227.46 309.6L227.84 286.3L228.3 301.7L229.1 131.4L229.48 165.3L229.86 129L230.24 167.5L230.62 130.6L231 165L231.38 140.6L231.76 167.3L232.05 149.4L232.85 322L233.23 285.4L233.61 322L233.99 285L234.37 316.7L234.75 284.3L235.13 309.6L235.51 284.7L235.98 301.7L236.78 129.9L237.16 164.4L237.54 129L237.92 165L238.3 130.6L238.68 164.8L239.06 140.6L239.44 166.4L239.73 149.4L240.53 322L240.91 287.9L241.29 322L241.67 285.7L242.05 316.7L242.43 286.5L242.81 309.6L243.19 286L243.65 301.7L244.45 129.9L244.83 167.4L245.21 129L245.59 167.6L245.97 130.6L246.35 167.6L246.73 140.6L247.11 165.4L247.4 149.4L248.2 322L248.58 285L248.96 322L249.34 285.5L249.72 316.7L250.1 286.8L250.48 309.6L250.86 286L251.32 301.7L252.12 129.7L252.5 164L252.88 129L253.26 164L253.64 130.6L254.02 164.6L254.4 140.6L254.78 167.3L255.07 149.4L255.87 322L256.25 287.7L256.63 322L257.01 286.7L257.39 316.7L257.77 287.9L258.15 309.6L258.53 286.3L259 301.7L259.79 129.1L260.17 164.5L260.55 129L260.93 165.2L261.31 130.6L261.69 167.2L262.07 140.6L262.45 166.7L262.74 149.4L263.54 322L263.92 284.5L264.3 322L264.68 285.7L265.06 316.7L265.44 288L265.82 309.6L266.2 286.9L266.67 301.7L267.47 130.6L267.85 166.6L268.23 129L268.61 166.3L268.99 130.6L269.37 165.2L269.75 140.6L270.13 164.8L270.42 149.4L271.22 322L271.6 288L271.98 322L272.36 284.5L272.74 316.7L273.12 285.6L273.5 309.6L273.88 285.5L274.34 301.7L275.14 128.6L275.52 164.8L275.9 129L276.28 164.1L276.66 130.6L277.04 165L277.42 140.6L277.8 165.7L278.09 149.4L278.89 322L279.27 287.5L279.65 322L280.03 286.1L280.41 316.7L280.79 284.4L281.17 309.6L281.55 287.7L282.01 301.7L282.81 129.3L283.19 166.1L283.57 129L283.95 165.5L284.33 130.6L284.71 165.3L285.09 140.6L285.47 167.7L285.76 149.4L286.56 322L286.94 285.2L287.32 322L287.7 286.1L288.08 316.7L288.46 287.6L288.84 309.6L289.22 287.7L289.69 301.7L290.49 129.2L290.87 167.6L291.25 129L291.63 166.5L292.01 130.6L292.39 167.1L292.77 140.6L293.15 165.6L293.44 149.4L294.24 322L294.62 284.5L295 322L295.38 287.8L295.76 316.7L296.14 287.5L296.52 309.6L296.9 287.1L297.36 301.7L298.16 131L298.54 165.4L298.92 129L299.3 164.6L299.68 130.6L300.06 164.9L300.44 140.6L300.82 165L301.11 149.4L301.91 322L302.29 284.3L302.67 322L303.05 285.9L303.43 316.7L303.81 287.6L304.19 309.6L304.57 287.6L305.03 301.7L305.83 130.6L306.21 166.5L306.59 129L306.97 165.4L307.35 130.6L307.73 165.2L308.11 140.6L308.49 165.1L308.78 149.4L309.58 322L309.96 285.6L310.34 322L310.72 284.4L311.1 316.7L311.48 288L311.86 309.6L312.24 286.5L312.71 301.7L313.51 129.6L313.89 167L314.27 129L314.65 167.4L315.03 130.6L315.41 164.8L315.79 140.6L316.17 166.6L316.46 149.4L317.26 322L317.64 287.5L318.02 322L318.4 284.5L318.78 316.7L319.16 284.7L319.54 309.6L319.92 285.4L320.38 301.7L321.18 130.6L321.56 166.2L321.94 129L322.32 166.8L322.7 130.6L323.08 166.8L323.46 140.6L323.84 165.1L324.13 149.4L324.93 322L325.31 286.3L325.69 322L326.07 287.6L326.45 316.7L326.83 285.8L327.21 309.6L327.59 286.1L328.05 301.7L328.85 130L329.23 167.1L329.61 129L329.99 164.9L330.37 130.6L330.75 167.3L331.13 140.6L331.51 165.2L331.8 149.4L332.6 322L332.98 285.3L333.36 322L333.74 285.6L334.12 316.7L334.5 285.9L334.88 309.6L335.26 287.9L335.72 301.7L336.52 130.8L336.9 165.9L337.28 129L337.66 164.6L338.04 130.6L338.42 167.7L338.8 140.6L339.19 165.3L339.47 149.4L340.27 322L340.65 284.7L341.03 322L341.41 285L341.79 316.7L342.17 286.4L342.55 309.6L342.94 286.7L343.4 301.7L344.2 130.8L344.58 166.8L344.96 129L345.34 165.2L345.72 130.6L346.1 165.9L346.48 140.6L346.86 166.6L347.15 149.4L347.95 322L348.33 287.4L348.71 322L349.09 286.5L349.47 316.7L349.85 286.9L350.23 309.6L350.61 287.1L351.07 301.7L351.87 130.2L352.25 167.1L352.63 129L353.01 167.4L353.39 130.6L353.77 164.5L354.15 140.6L354.53 164.7L354.82 149.4L355.62 322L356 286.9L356.38 322L356.76 284.7L357.14 316.7L357.52 287.7L357.9 309.6L358.28 285.5L358.74 301.7L359.54 129.9L359.92 164.6L360.3 129L360.68 167.5L361.06 130.6L361.44 166.2L361.82 140.6L362.2 167.1L362.49 149.4L363.29 322L363.67 287.5L364.05 322L364.43 285.7L364.81 316.7L365.19 285.4L365.57 309.6L365.95 287L366.42 301.7L367.22 129.3L367.6 164.8L367.98 129L368.36 165.3L368.74 130.6L369.12 164.8L369.5 140.6L369.88 166.1L370.17 149.4L370.97 322L371.35 287.4L371.73 322L372.11 286.8L372.49 316.7L372.87 285.8L373.25 309.6L373.63 285.3L374.09 301.7L374.89 131L375.27 165.8L375.65 129L376.03 166.6L376.41 130.6L376.79 164.1L377.17 140.6L377.55 165.3L377.84 149.4L378.64 322L379.02 287.7L379.4 322L379.78 286.1L380.16 316.7L380.54 287.5L380.92 309.6L381.3 285L381.76 301.7L382.56 129.9L382.94 167.8L383.32 129L383.7 166.3L384.08 130.6L384.46 167.4L384.84 140.6L385.22 167.4L385.51 149.4L386.31 322L386.69 286.7L387.07 322L387.45 287.5L387.83 316.7L388.21 285.5L388.59 309.6L388.97 284.5L389.44 301.7L390.24 129.9L390.62 165.6L391 129L391.38 165.3L391.76 130.6L392.14 164.7L392.52 140.6L392.9 164.9L393.19 149.4L393.99 322L394.37 286.1L394.75 322L395.13 285.2L395.51 316.7L395.89 288.1L396.27 309.6L396.65 285L397.11 301.7L397.91 130.4L398.29 164.8L398.67 129L399.05 167.2L399.43 130.6L399.81 166.1L400.19 140.6L400.57 165.8L400.86 149.4L401.66 322L402.04 287.7L402.42 322L402.8 285.5L403.18 316.7L403.56 286.5L403.94 309.6L404.32 286.6L404.78 301.7L405.58 131L405.96 165.5L406.34 129L406.72 166.5L407.1 130.6L407.48 164.4L407.86 140.6L408.24 164L408.53 149.4L409.33 322L409.71 286.1L410.09 322L410.47 285.3L410.85 316.7L411.23 286.2L411.61 309.6L411.99 285.7L412.45 301.7L413.25 130.3L413.63 165.7L414.01 129L414.39 166.2L414.77 130.6L415.15 165.2L415.53 140.6L415.92 166.6L416.2 149.4L417 322L417.38 286.8L417.76 322L418.14 284.2L418.52 316.7L418.9 287.8L419.28 309.6L419.67 286.6L420.13 301.7L420.93 130.9L421.31 167.1L421.69 129L422.07 166.9L422.45 130.6L422.83 164.9L423.21 140.6L423.59 167.1L423.88 149.4L424.68 322L425.06 286.9L425.44 322L425.82 285.3L426.2 316.7L426.58 286.5L426.96 309.6L427.34 286.6L427.8 301.7L428.6 129.9L428.98 164.5L429.36 129L429.74 165.2L430.12 130.6L430.5 164L430.88 140.6L431.26 167.5L431.55 149.4L432.35 322L432.73 286.1L433.11 322L433.49 284.9L433.87 316.7L434.25 287.1L434.63 309.6L435.01 285L435.47 301.7L436.27 129.4L436.65 164.2L437.03 129L437.41 165L437.79 130.6L438.17 165.2L438.55 140.6L438.93 166.1L439.22 149.4L440.02 322L440.4 284.9L440.78 322L441.16 284.4L441.54 316.7L441.92 284.8L442.3 309.6L442.68 287.1L443.15 301.7L443.95 129.7L444.33 166.4L444.71 129L445.09 164.6L445.47 130.6L445.85 164.8L446.23 140.6L446.61 167.4L446.9 149.4L447.7 322L448.08 285.2L448.46 322L448.84 285.8L449.22 316.7L449.6 285.9L449.98 309.6L450.36 286.9L450.82 301.7L451.62 129.3L452 164.5L452.38 129L452.76 165.2L453.14 130.6L453.52 164.6L453.9 140.6L454.28 167L454.57 149.4L455.37 322L455.75 286.2L456.13 322L456.51 287.7L456.89 316.7L457.27 284.3L457.65 309.6L458.03 284.3L458.49 301.7L459.29 128.7L459.67 164.3L460.05 129L460.43 166.6L460.81 130.6L461.19 164.1L461.57 140.6L461.95 164.5L462.24 149.4L463.04 322L463.42 285L463.8 322L464.18 285.5L464.56 316.7L464.94 285.7L465.32 309.6L465.7 285.1L466.17 301.7L466.97 129.3L467.35 165.7L467.73 129L468.11 165.6L468.49 130.6L468.87 165.7L469.25 140.6L469.63 166.1L469.92 149.4L470.72 322L471.1 287.3L471.48 322L471.86 286.4L472.24 316.7L472.62 286.3L473 309.6L473.38 286.5L473.84 301.7L474.64 129.1L475.02 167.4L475.4 129L475.78 167.2L476.16 130.6L476.54 165.9L476.92 140.6L477.3 166.1L477.59 149.4L478.39 322L478.77 284.5L479.15 322L479.53 284.6L479.91 316.7L480.29 287.4L480.67 309.6L481.05 287.6L481.51 301.7L482.31 129.4L482.69 165.2L483.07 129L483.45 165.9L483.83 130.6L484.21 164L484.59 140.6L484.97 167.4L485.26 149.4L486.06 322L486.44 285.4L486.82 322L487.2 285.4L487.58 316.7L487.96 287.4L488.34 309.6L488.72 287.6L489.19 301.7L489.99 130.3L490.37 165.1L490.75 129L491.12 164.5L491.5 130.6L491.88 166L492.26 140.6L492.65 167.4L492.94 149.4L493.74 322L494.12 285.4L494.5 322L494.88 286.6L495.25 316.7L495.63 287.4L496.01 309.6L496.4 287.4L496.86 301.7L497.66 130.5L498.04 166.7L498.42 129L498.8 164.3L499.18 130.6L499.56 163.9L499.94 140.6L500.32 167.8L500.61 149.4L501.41 322L501.79 286.3L502.17 322L502.55 288L502.93 316.7L503.31 287.4L503.69 309.6L504.07 286.1L504.53 301.7L505.33 129.9L505.71 164.8L506.09 129L506.47 167.3L506.85 130.6L507.23 167.5L507.61 140.6L507.99 164.2L508.28 149.4L509.08 322L509.46 284.4L509.84 322L510.22 284.9L510.6 316.7L510.98 285.8L511.36 309.6L511.74 285.2L512.2 301.7L513 128.7L513.38 166.1L513.76 129L514.14 164.5L514.52 130.6L514.9 165.7L515.28 140.6L515.66 164.2L515.95 149.4L516.75 322L517.13 287L517.51 322L517.89 285.5L518.27 316.7L518.65 285.4L519.03 309.6L519.41 286.1L519.88 301.7L520.68 129L521.06 164.7L521.44 129L521.82 164.6L522.2 130.6L522.58 165.4L522.96 140.6L523.34 166.8L523.63 149.4L524.43 322L524.81 284.5L525.19 322L525.57 284.5L525.95 316.7L526.33 286.6L526.71 309.6L527.09 284.8L527.55 301.7L528.35 131L528.73 165.5L529.11 129L529.49 166.8L529.87 130.6L530.25 165.4L530.63 140.6L531.01 167.6L531.3 149.4L532.1 322L532.48 286.7L532.86 322L533.24 287.1L533.62 316.7L534 287.7L534.38 309.6L534.76 286.2L535.22 301.7L536.02 131.3L536.4 164L536.78 129L537.16 167.1L537.54 130.6L537.92 164.9L538.3 140.6L538.68 166.6L538.97 149.4L539.77 322L540.15 285.5L540.53 322L540.91 286.1L541.29 316.7L541.67 285.5L542.05 309.6L542.43 285.4L542.9 301.7L543.7 130.8L544.08 165.9L544.46 129L544.84 166.2L545.22 130.6L545.6 166.7L545.98 140.6L546.36 167.4L546.65 149.4L547.45 322L547.83 285.6L548.21 322L548.59 285.9L548.97 316.7L549.35 287.9L549.73 309.6L550.11 286.5L550.57 301.7L551.37 131.4L551.75 164.7L552.13 129L552.51 166L552.89 130.6L553.27 167.7L553.65 140.6L554.03 167.7L554.32 149.4L555.12 322L555.5 286.4L555.88 322L556.26 287.1L556.64 316.7L557.02 286L557.4 309.6L557.78 286.1L558.24 301.7L559.04 131.2L559.42 166L559.8 129L560.18 166.9L560.56 130.6L560.94 165.7L561.32 140.6L561.7 164.6L561.99 149.4L562.79 322L563.17 286.8L563.55 322L563.93 284.4L564.31 316.7L564.69 287.6L565.07 309.6L565.45 284.3L565.91 301.7L566.71 131L567.09 165.3L567.47 129L567.85 167.8L568.23 130.6L568.61 167L568.99 140.6L569.37 166.2L569.66 149.4L570.46 322L570.84 287.7L571.22 322L571.6 284.4L571.98 316.7L572.36 285.9L572.74 309.6L573.12 284.4L573.59 301.7L574.39 129.4L574.77 167.7L575.15 129L575.53 164.8L575.91 130.6L576.29 164.2L576.67 140.6L577.05 167L577.34 149.4L578.14 322L578.52 284.7L578.9 322L579.28 286.6L579.66 316.7L580.04 285.5L580.42 309.6L580.8 286.8L581.26 301.7L582.06 129.6L582.44 165L582.82 129L583.2 164L583.58 130.6L583.96 164.7L584.34 140.6L584.72 165.1L585.01 149.4L585.81 322L586.19 285.2L586.57 322L586.95 284.3L587.33 316.7L587.71 284.9L588.09 309.6L588.47 286L588.93 301.7L589.73 130.6L590.11 166.4L590.49 129L590.87 167.6L591.25 130.6L591.63 167.7L592.01 140.6L592.39 167.1L592.68 149.4L593.48 322L593.86 284.7L594.24 322L594.62 285.9L595 316.7L595.38 286.1L595.76 309.6L596.14 287.5L596.61 301.7L597.41 129.5L597.79 165.7L598.17 129L598.55 166.7L598.93 130.6L599.31 167L599.69 140.6L600.07 166.3L600.36 149.4L601.16 322L601.54 286.7L601.92 322L602.3 287.6L602.68 316.7L603.06 287.5L603.44 309.6L603.82 287.9L604.28 301.7L605.08 129L605.46 167.2L605.84 129L606.22 164.1L606.6 130.6L606.98 166L607.36 140.6L607.74 164.6L608.03 149.4L608.83 322L609.21 284.5L609.59 322L609.97 287.1L610.35 316.7L610.73 284.5L611.11 309.6L611.49 286.3L611.95 301.7L612.75 129.4L613.13 164.7L613.51 129L613.89 167.7L614.27 130.6L614.65 166L615.03 140.6L615.41 166.9L615.7 149.4L616.5 322L616.88 285.9L617.26 322L617.64 284.6L618.02 316.7L618.4 284.4L618.78 309.6L619.16 285L619.63 301.7L620.43 128.7L620.81 167.7L621.19 129L621.57 167.3L621.95 130.6L622.33 167.6L622.71 140.6L623.09 165.5L623.38 149.4L624.18 322L624.56 286.1L624.94 322L625.32 286.8L625.7 316.7L626.08 284.9L626.46 309.6L626.84 287.8L627.3 301.7L628.1 130L628.48 166.5L628.86 129L629.24 166.3L629.62 130.6L630 166.4L630.38 140.6L630.76 163.9L631.05 149.4L631.85 322L632.23 286.6L632.61 322L632.99 284.3L633.37 316.7L633.75 285.4L634.13 309.6L634.51 287.7L634.97 301.7L635.77 130.6L636.15 165.4L636.53 129L636.91 164.2L637.29 130.6L637.67 166L638.05 140.6L638.43 167.4L638.72 149.4L639.52 322L639.9 285.9L640.28 322L640.66 285.1L641.04 316.7L641.42 287.8L641.8 309.6L642.18 285.5L642.64 301.7L643.44 131L643.82 165.1L644.2 129L644.58 167.1L644.96 130.6L645.34 166.7L645.72 140.6L646.1 166.4L646.39 149.4L647.19 322L647.57 286.2L647.95 322L648.33 285.9L648.71 316.7L649.09 284.9L649.47 309.6L649.85 287.8L650.32 301.7L651.12 130.9L651.5 165.3L651.88 129L652.26 165.2L652.64 130.6L653.02 167.3L653.4 140.6L653.78 165.3L654.07 149.4L654.87 322L655.25 284.9L655.63 322L656.01 287.1L656.39 316.7L656.77 285.1L657.15 309.6L657.53 284.4L657.99 301.7L658.79 130.2L659.17 165.4L659.55 129L659.93 166.6L660.31 130.6L660.69 164.6L661.07 140.6L661.45 165.7L661.74 149.4L662.54 322L662.92 287L663.3 322L663.68 287L664.06 316.7L664.44 284.3L664.82 309.6L665.2 285.8L665.66 301.7L666.46 131.1L666.84 165.1L667.22 129L667.6 164L667.98 130.6L668.36 165.9L668.74 140.6L669.12 164.1L669.41 149.4L670.21 322L670.59 286.6L670.97 322L671.35 284.7L671.73 316.7L672.11 287.4L672.49 309.6L672.87 284.8L673.34 301.7L674.14 129.6L674.52 167.4L674.9 129L675.28 164.1L675.66 130.6L676.04 164.1L676.42 140.6L676.8 166.5L677.09 149.4L677.89 322L678.27 284.4L678.65 322L679.03 287.4L679.41 316.7L679.79 288L680.17 309.6L680.55 285.6L681.01 301.7L681.81 130.6L682.19 164.2L682.57 129L682.95 166.6L683.33 130.6L683.71 166.1L684.09 140.6L684.47 167.5L684.76 149.4L685.56 322L685.94 285L686.32 322L686.7 287.2L687.08 316.7L687.46 284.6L687.84 309.6L688.22 285L688.68 301.7L689.48 130.1L689.86 167L690.24 129L690.62 166.7L691 130.6L691.38 164.6L691.76 140.6L692.14 165.5L692.43 149.4L693.23 322L693.61 287.2L693.99 322L694.37 284.9L694.75 316.7L695.13 286.5L695.51 309.6L695.89 286.9L696.36 301.7L697.16 130.4L697.54 167L697.92 129L698.3 166.5L698.68 130.6L699.06 167.5L699.44 140.6L699.82 166.5L700.11 149.4L700.91 322L701.29 287.3L701.67 322L702.05 287.3L702.43 316.7L702.81 285.8L703.19 309.6L703.57 287.6L704.03 301.7L704.83 129.4L705.21 167.6L705.59 129L705.97 165.1L706.35 130.6L706.73 167.3L707.11 140.6L707.49 164.3L707.78 149.4L708.58 322L708.96 286.6L709.34 322L709.72 284.9L710.1 316.7L710.48 285.4L710.86 309.6L711.24 286.2L711.7 301.7L712.5 131.2L712.88 164L713.26 129L713.64 166.5L714.02 130.6L714.4 165.8L714.78 140.6L715.16 166.5L715.45 149.4L716.25 322L716.63 287.4L717.01 322L717.39 287.7L717.77 316.7L718.15 284.2L718.53 309.6L718.91 286.7L719.38 301.7L720.17 129.8L720.55 167.7L720.93 129L721.31 166L721.69 130.6L722.07 165.2L722.45 140.6L722.83 167.6L723.12 149.4L723.92 322L724.3 284.7L724.68 322L725.06 285.8L725.44 316.7L725.82 286.9L726.2 309.6L726.58 285L727.05 301.7L727.85 128.7L728.23 166.9L728.61 129L728.99 166.3L729.37 130.6L729.75 164L730.13 140.6L730.51 166.8L730.8 149.4L731.6 322L731.98 285.8L732.36 322L732.74 287.7L733.12 316.7L733.5 285.7L733.88 309.6L734.26 286.2L734.72 301.7L735.52 131.1L735.9 166.4L736.28 129L736.66 165.3L737.04 130.6L737.42 166.4L737.8 140.6L738.18 164L738.47 149.4L739.27 322L739.65 285.4L740.03 322L740.41 285L740.79 316.7L741.17 285.3L741.55 309.6L741.93 286.1L742.39 301.7L743.19 128.5L743.57 165.3L743.95 129L744.33 166.8L744.71 130.6L745.09 166.5L745.47 140.6L745.85 166.4L746.14 149.4L746.94 322L747.32 287.7L747.7 322L748.08 285.5L748.46 316.7L748.84 284.8L749.22 309.6L749.6 286.9L750.07 301.7L750.87 130.7L751.25 165.1L751.63 129L752.01 166.5L752.39 130.6L752.77 167.3L753.15 140.6L753.53 165.2L753.82 149.4L754.62 322L755 288L755.38 322L755.76 287L756.14 316.7L756.52 284.7L756.9 309.6L757.28 284.6L757.74 301.7L758.54 129.2L758.92 164.8L759.3 129L759.68 167.2L760.06 130.6L760.44 166.9L760.82 140.6L761.2 165.4L761.49 149.4L762.29 322L762.67 285.9L763.05 322L763.43 285.6L763.81 316.7L764.19 285.8L764.57 309.6L764.95 284.4L765.41 301.7L766.21 129.4L766.59 165.8L766.97 129L767.35 167.5L767.73 130.6L768.11 165.2L768.49 140.6L768.87 167.5L769.16 149.4L769.96 322L770.34 287.6L770.72 322L771.1 287.3L771.48 316.7L771.86 286.4L772.24 309.6L772.62 287.6L773.09 301.7L773.89 130.2L774.27 165.4L774.65 129L775.03 167.4L775.41 130.6L775.79 166L776.17 140.6L776.55 167.6L776.84 149.4L777.64 322L778.02 284.7L778.4 322L778.78 284.5L779.16 316.7L779.54 287.6L779.92 309.6L780.3 284.6L780.76 301.7L781.56 130.2L781.94 165L782.32 129L782.7 165.9L783.08 130.6L783.46 167.3L783.84 140.6L784.22 165.2L784.51 149.4L785.31 322L785.69 285.8L786.07 322L786.45 286.3L786.83 316.7L787.21 284.9L787.59 309.6L787.97 284.7L788.43 301.7L789.23 129.6L789.61 164.1L789.99 129L790.37 167L790.75 130.6L791.13 165.8L791.51 140.6L791.89 165.9L792.18 149.4L792.98 322L793.36 285.8L793.74 322L794.12 286.9L794.5 316.7L794.88 285L795.26 309.6L795.64 285.9L796.11 301.7L796.9 130.5L797.28 164.7L797.66 129L798.04 166.7L798.42 130.6L798.8 167.1L799.18 140.6L799.56 164L799.86 149.4L800.65 322L801.03 286.6L801.41 322L801.79 286.8L802.17 316.7L802.55 285.8L802.93 309.6L803.31 284.6L803.78 301.7L804.58 129.4L804.96 167.2L805.34 129L805.72 167.7L806.1 130.6L806.48 166.9L806.86 140.6L807.24 166.3L807.53 149.4L808.33 322L808.71 286.6L809.09 322L809.47 287.3L809.85 316.7L810.23 286.2L810.61 309.6L810.99 284.6L811.45 301.7L812.25 129.1L812.63 164.1L813.01 129L813.39 165L813.77 130.6L814.15 163.9L814.53 140.6L814.91 167.1L815.2 149.4L816 322L816.38 285.7L816.76 322L817.14 286.4L817.52 316.7L817.9 284.9L818.28 309.6L818.66 284.6L819.12 301.7L819.92 131.3L820.3 164.1L820.68 129L821.06 164L821.44 130.6L821.82 166.2L822.2 140.6L822.58 166.7L822.87 149.4L823.67 322L824.05 284.5L824.43 322L824.81 285.2L825.19 316.7L825.57 287.1L825.95 309.6L826.33 286.7L826.8 301.7L827.6 130.7L827.98 165.7L828.36 129L828.74 167.1L829.12 130.6L829.5 165.1L829.88 140.6L830.26 167L830.55 149.4L831.35 322L831.73 286.7L832.11 322L832.49 287.2L832.87 316.7L833.25 286.8L833.63 309.6L834.01 284.7L834.47 301.7L835.27 131.2L835.65 166.1L836.03 129L836.41 167.1L836.79 130.6L837.17 165.1L837.55 140.6L837.93 164.7L838.22 149.4L839.02 322L839.4 288.1L839.78 322L840.16 285.7L840.54 316.7L840.92 288L841.3 309.6L841.68 287.6L842.14 301.7L842.94 129.7L843.32 166.5L843.7 129L844.08 164.5L844.46 130.6L844.84 165.1L845.22 140.6L845.6 165.7L845.89 149.4L846.69 322L847.07 284.6L847.45 322L847.83 286.6L848.21 316.7L848.59 288.1L848.97 309.6L849.35 284.2L849.82 301.7L850.62 130.6L851 166.7L851.38 129L851.76 166.1L852.14 130.6L852.52 165.8L852.9 140.6L853.28 167.4L853.57 149.4L854.37 322L854.75 284.8L855.13 322L855.51 284.5L855.89 316.7L856.27 286.7L856.65 309.6L857.03 286.7L857.49 301.7L858.29 128.8L858.67 164.6L859.05 129L859.43 165.5L859.81 130.6L860.19 165.1L860.57 140.6L860.95 164.7L861.24 149.4L862.04 322L862.42 287.9L862.8 322L863.18 287.1L863.56 316.7L863.94 284.8L864.32 309.6L864.7 286.6L865.16 301.7L865.96 130L866.34 167.1L866.72 129L867.1 167.7L867.48 130.6L867.86 166.1L868.24 140.6L868.62 165L868.91 149.4L869.71 322L870.09 285.8L870.47 322L870.85 287.6L871.23 316.7L871.61 287.7L871.99 309.6L872.37 286.9L872.84 301.7L873.63 129.7L874.01 164.4L874.39 129L874.77 165.7L875.15 130.6L875.53 164L875.91 140.6L876.29 166.7L876.59 149.4L877.38 322L877.76 284.4L878.14 322L878.52 284.9L878.9 316.7L879.28 288L879.66 309.6L880.04 285.1L880.51 301.7L881.31 128.5L881.69 167.7L882.07 129L882.45 165.8L882.83 130.6L883.21 166.6L883.59 140.6L883.97 165.6L884.26 149.4L885.06 322L885.44 285L885.82 322L886.2 285.5L886.58 316.7L886.96 286.2L887.34 309.6L887.72 287.2L888.18 301.7L888.98 130.7L889.36 166.6L889.74 129L890.12 165.7L890.5 130.6L890.88 164.1L891.26 140.6L891.64 165.1L891.93 149.4L892.73 322L893.11 287.3L893.49 322L893.87 284.5L894.25 316.7L894.63 284.7L895.01 309.6L895.39 287.9L895.85 301.7L896.65 130.8L897.03 164.5L897.41 129L897.79 166.2L898.17 130.6L898.55 164.4L898.93 140.6L899.31 167.2L899.6 149.4L900.4 322L900.78 285.6L901.16 322L901.54 285.4L901.92 316.7L902.3 285.8L902.68 309.6L903.06 286L903.53 301.7L904.33 130.1"/>
<path stroke="#988ED5" d="M137.93 301.7L139.33 129.7L140.09 160L140.85 138L141.61 161.7L141.88 149.4L143.28 322L144.04 293.3L144.8 310.9L145.6 301.7L147 131.6L147.76 161.4L148.52 138L149.28 163.1L149.55 149.4L150.95 322L151.71 290L152.47 310.9L153.27 301.7L154.67 129L155.43 159L156.19 138L156.95 161.2L157.22 149.4L158.62 322L159.38 293L160.14 310.9L160.95 301.7L162.35 131.1L163.11 160.7L163.87 138L164.63 161.2L164.9 149.4L166.3 322L167.06 288.7L167.82 310.9L168.62 301.7L170.02 129.1L170.78 161.9L171.54 138L172.3 159.4L172.57 149.4L173.97 322L174.73 288.7L175.49 310.9L176.29 301.7L177.69 130.2L178.45 160.5L179.21 138L179.97 159.3L180.24 149.4L181.64 322L182.4 290.1L183.16 310.9L183.97 301.7L185.37 129.2L186.12 159.8L186.88 138L187.65 159.1L187.91 149.4L189.31 322L190.07 292.8L190.83 310.9L191.64 301.7L193.04 129.3L193.8 159.9L194.56 138L195.32 160.9L195.59 149.4L196.99 322L197.75 292.3L198.51 310.9L199.31 301.7L200.71 131.3L201.47 159.8L202.23 138L202.99 159.7L203.26 149.4L204.66 322L205.42 290.4L206.18 310.9L206.98 301.7L208.38 130.8L209.14 159.5L209.9 138L210.66 162.8L210.93 149.4L212.33 322L213.09 291.6L213.85 310.9L214.66 301.7L216.06 129.2L216.82 162L217.58 138L218.34 158.6L218.61 149.4L220.01 322L220.77 289L221.53 310.9L222.33 301.7L223.73 129.8L224.49 158.8L225.25 138L226.01 160.2L226.28 149.4L227.68 322L228.44 289L229.2 310.9L230 301.7L231.4 129L232.16 161L232.92 138L233.68 162.7L233.95 149.4L235.35 322L236.11 291L236.87 310.9L237.68 301.7L239.08 130.3L239.84 163.4L240.6 138L241.36 161.9L241.63 149.4L243.03 322L243.79 288.9L244.55 310.9L245.35 301.7L246.75 130.8L247.51 160.5L248.27 138L249.03 159.6L249.3 149.4L250.7 322L251.46 291.6L252.22 310.9L253.02 301.7L254.42 130.8L255.18 159.2L255.94 138L256.7 159L256.97 149.4L258.37 322L259.13 290L259.89 310.9L260.69 301.7L262.09 129.5L262.86 162.7L263.62 138L264.38 159.6L264.64 149.4L266.04 322L266.81 292.2L267.56 310.9L268.37 301.7L269.77 130.6L270.53 159.5L271.29 138L272.05 158.6L272.32 149.4L273.72 322L274.48 290.1L275.24 310.9L276.04 301.7L277.44 131.8L278.2 160L278.96 138L279.72 162.7L279.99 149.4L281.39 322L282.15 292.7L282.91 310.9L283.71 301.7L285.11 130.3L285.87 162.9L286.63 138L287.39 159.4L287.66 149.4L289.06 322L289.82 292.7L290.58 310.9L291.39 301.7L292.79 131.3L293.55 159L294.31 138L295.07 161.1L295.34 149.4L296.74 322L297.5 289.4L298.26 310.9L299.06 301.7L300.46 131.2L301.22 162.7L301.98 138L302.74 160.7L303.01 149.4L304.41 322L305.17 292.8L305.93 310.9L306.73 301.7L308.13 129.7L308.89 160.7L309.65 138L310.41 160L310.68 149.4L312.08 322L312.84 291.1L313.6 310.9L314.41 301.7L315.81 130.6L316.57 162.1L317.33 138L318.09 160.2L318.36 149.4L319.76 322L320.52 289.8L321.28 310.9L322.08 301.7L323.48 130.9L324.24 159.3L325 138L325.76 161.6L326.03 149.4L327.43 322L328.19 291.7L328.95 310.9L329.75 301.7L331.15 131.3L331.91 162.8L332.67 138L333.43 163L333.7 149.4L335.1 322L335.86 288.9L336.62 310.9L337.42 301.7L338.82 130.9L339.58 162.3L340.34 138L341.1 162.6L341.37 149.4L342.77 322L343.53 293.1L344.29 310.9L345.1 301.7L346.5 130.3L347.26 162.1L348.02 138L348.78 162.8L349.05 149.4L350.45 322L351.21 292.4L351.97 310.9L352.77 301.7L354.17 129.7L354.93 160.8L355.69 138L356.45 163.3L356.72 149.4L358.12 322L358.88 289.7L359.64 310.9L360.44 301.7L361.84 130.2L362.6 160.4L363.36 138L364.12 159.7L364.39 149.4L365.79 322L366.55 291.8L367.31 310.9L368.12 301.7L369.52 130.9L370.28 163.1L371.04 138L371.8 162.3L372.07 149.4L373.47 322L374.23 293.3L374.99 310.9L375.79 301.7L377.19 130.5L377.95 159.9L378.71 138L379.47 160.1L379.74 149.4L381.14 322L381.9 290L382.66 310.9L383.46 301.7L384.86 129.5L385.62 160.1L386.38 138L387.14 162.3L387.41 149.4L388.81 322L389.57 292.1L390.33 310.9L391.14 301.7L392.54 130.3L393.3 162.5L394.06 138L394.82 159.1L395.09 149.4L396.49 322L397.25 290.8L398.01 310.9L398.81 301.7L400.21 131.2L400.97 159L401.73 138L402.49 163.1L402.76 149.4L404.16 322L404.92 292.1L405.68 310.9L406.48 301.7L407.88 131L408.64 163.1L409.4 138L410.16 158.6L410.43 149.4L411.83 322L412.59 291.5L413.35 310.9L414.15 301.7L415.55 130.8L416.31 162.5L417.07 138L417.83 159.5L418.1 149.4L419.5 322L420.26 290.9L421.02 310.9L421.83 301.7L423.23 130.8L423.99 158.6L424.75 138L425.51 161L425.78 149.4L427.18 322L427.94 288.9L428.7 310.9L429.5 301.7L430.9 129.1L431.66 158.7L432.42 138L433.18 160.7L433.45 149.4L434.85 322L435.61 288.8L436.37 310.9L437.17 301.7L438.57 130.4L439.33 159L440.09 138L440.85 160.4L441.12 149.4L442.52 322L443.28 291.1L444.04 310.9L444.85 301.7L446.25 131.2L447.01 161.4L447.77 138L448.53 163.3L448.8 149.4L450.2 322L450.96 289.7L451.72 310.9L452.52 301.7L453.92 129.3L454.68 159.4L455.44 138L456.2 160.6L456.47 149.4L457.87 322L458.63 290.2L459.39 310.9L460.19 301.7L461.59 131.6L462.35 160.5L463.11 138L463.87 159.5L464.14 149.4L465.54 322L466.3 290.3L467.06 310.9L467.87 301.7L469.27 130.1L470.03 160.3L470.79 138L471.55 161.3L471.82 149.4L473.22 322L473.98 291.8L474.74 310.9L475.54 301.7L476.94 129.6L477.7 160L478.46 138L479.22 158.8L479.49 149.4L480.89 322L481.65 291.7L482.41 310.9L483.21 301.7L484.61 129.6L485.37 160.1L486.13 138L486.89 162.2L487.16 149.4L488.56 322L489.32 292.2L490.08 310.9L490.88 301.7L492.28 129.4L493.05 159.8L493.81 138L494.56 161.7L494.83 149.4L496.23 322L497 289.5L497.75 310.9L498.56 301.7L499.96 129.2L500.72 162.2L501.48 138L502.24 161.4L502.51 149.4L503.91 322L504.67 291.3L505.43 310.9L506.23 301.7L507.63 129.6L508.39 159.8L509.15 138L509.91 163L510.18 149.4L511.58 322L512.34 291.2L513.1 310.9L513.9 301.7L515.3 130.4L516.06 158.8L516.82 138L517.58 162.5L517.85 149.4L519.25 322L520.01 291.1L520.77 310.9L521.58 301.7L522.98 131.1L523.74 162.7L524.5 138L525.26 159.7L525.53 149.4L526.93 322L527.69 291.7L528.45 310.9L529.25 301.7L530.65 129.5L531.41 161.6L532.17 138L532.93 162.5L533.2 149.4L534.6 322L535.36 290.8L536.12 310.9L536.92 301.7L538.32 130.5L539.08 158.9L539.84 138L540.6 160.9L540.87 149.4L542.27 322L543.03 291L543.79 310.9L544.6 301.7L546 130.3L546.76 162.8L547.52 138L548.28 162.2L548.55 149.4L549.95 322L550.71 289.4L551.47 310.9L552.27 301.7L553.67 130.4L554.43 159.7L555.19 138L555.95 163.3L556.22 149.4L557.62 322L558.38 289.7L559.14 310.9L559.94 301.7L561.34 129.4L562.1 159.8L562.86 138L563.62 161.8L563.89 149.4L565.29 322L566.05 292L566.81 310.9L567.62 301.7L569.01 131.9L569.77 162.8L570.53 138L571.29 160.2L571.57 149.4L572.97 322L573.73 291.5L574.49 310.9L575.29 301.7L576.69 130.3L577.45 160.3L578.21 138L578.97 162.1L579.24 149.4L580.64 322L581.4 291.9L582.16 310.9L582.96 301.7L584.36 131.1L585.12 162.5L585.88 138L586.64 160.9L586.91 149.4L588.31 322L589.07 291L589.83 310.9L590.63 301.7L592.03 130.7L592.79 161.5L593.55 138L594.31 160.4L594.58 149.4L595.98 322L596.74 293.2L597.5 310.9L598.31 301.7L599.71 131.7L600.47 158.6L601.23 138L601.99 162.5L602.26 149.4L603.66 322L604.42 290L605.18 310.9L605.98 301.7L607.38 130.2L608.14 160L608.9 138L609.66 159.3L609.93 149.4L611.33 322L612.09 293.1L612.85 310.9L613.65 301.7L615.05 129.4L615.81 162.9L616.57 138L617.33 162.1L617.6 149.4L619 322L619.76 292.3L620.52 310.9L621.33 301.7L622.73 129.6L623.49 160.3L624.25 138L625.01 160.3L625.28 149.4L626.68 322L627.44 292.8L628.2 310.9L629 301.7L630.4 130.7L631.16 161L631.92 138L632.68 159.3L632.95 149.4L634.35 322L635.11 291.6L635.87 310.9L636.67 301.7L638.07 131.4L638.83 162.1L639.59 138L640.35 158.7L640.62 149.4L642.02 322L642.78 288.9L643.54 310.9L644.35 301.7L645.75 130.9L646.5 161.3L647.26 138L648.02 162.6L648.3 149.4L649.7 322L650.46 292.3L651.22 310.9L652.02 301.7L653.42 130.8L654.18 162.1L654.94 138L655.7 162.4L655.97 149.4L657.37 322L658.13 290.2L658.89 310.9L659.69 301.7L661.09 131.3L661.85 159.3L662.61 138L663.37 162.1L663.64 149.4L665.04 322L665.8 289L666.56 310.9L667.36 301.7L668.76 129.6L669.52 162.8L670.28 138L671.04 162.1L671.31 149.4L672.71 322L673.47 290.8L674.23 310.9L675.04 301.7L676.44 129.1L677.2 160.1L677.96 138L678.72 162L678.99 149.4L680.39 322L681.15 291.6L681.91 310.9L682.71 301.7L684.11 131.8L684.87 160.1L685.63 138L686.39 158.7L686.66 149.4L688.06 322L688.82 289.4L689.58 310.9L690.38 301.7L691.78 129.5L692.54 159.4L693.3 138L694.06 161.3L694.33 149.4L695.73 322L696.49 292.1L697.25 310.9L698.06 301.7L699.46 129.5L700.22 160.2L700.98 138L701.74 159.6L702.01 149.4L703.41 322L704.17 288.7L704.93 310.9L705.73 301.7L707.13 131.8L707.89 163.1L708.65 138L709.41 163.4L709.68 149.4L711.08 322L711.84 289.9L712.6 310.9L713.4 301.7L714.8 130.1L715.56 162.6L716.32 138L717.08 158.7L717.35 149.4L718.75 322L719.51 291.5L720.27 310.9L721.08 301.7L722.48 130.7L723.24 159.8L724 138L724.75 159.6L725.03 149.4L726.43 322L727.19 291.8L727.95 310.9L728.75 301.7L730.15 131.7L730.91 162.3L731.67 138L732.43 161.5L732.7 149.4L734.1 322L734.86 292.2L735.62 310.9L736.42 301.7L737.82 129.3L738.58 159.1L739.34 138L740.1 158.9L740.37 149.4L741.77 322L742.53 291.2L743.29 310.9L744.09 301.7L745.49 130L746.25 161.1L747.01 138L747.77 158.9L748.04 149.4L749.44 322L750.2 289.1L750.96 310.9L751.77 301.7L753.17 131.6L753.93 162.5L754.69 138L755.45 159.1L755.72 149.4L757.12 322L757.88 290.6L758.64 310.9L759.44 301.7L760.84 129.8L761.6 160.6L762.36 138L763.12 161.2L763.39 149.4L764.79 322L765.55 290.9L766.31 310.9L767.11 301.7L768.51 129.4L769.27 159.7L770.03 138L770.79 159L771.06 149.4L772.46 322L773.22 289.2L773.98 310.9L774.79 301.7L776.19 130.6L776.95 163.1L777.71 138L778.47 159.8L778.74 149.4L780.14 322L780.9 293L781.66 310.9L782.46 301.7L783.86 130.2L784.62 163.3L785.38 138L786.14 161.8L786.41 149.4L787.81 322L788.57 290.3L789.33 310.9L790.13 301.7L791.53 131.8L792.29 159.1L793.05 138L793.81 162.8L794.08 149.4L795.48 322L796.24 292.6L797 310.9L797.81 301.7L799.21 131.1L799.97 160.5L800.73 138L801.49 159L801.76 149.4L803.16 322L803.92 290.8L804.68 310.9L805.48 301.7L806.88 130.8L807.64 161.5L808.4 138L809.16 161.2L809.43 149.4L810.83 322L811.59 290.8L812.35 310.9L813.15 301.7L814.55 131L815.31 161.7L816.07 138L816.83 161.8L817.1 149.4L818.5 322L819.26 291.7L820.02 310.9L820.82 301.7L822.22 131.1L822.98 162.8L823.74 138L824.5 158.6L824.77 149.4L826.17 322L826.93 290.4L827.69 310.9L828.5 301.7L829.9 129.4L830.66 163L831.42 138L832.18 162.4L832.45 149.4L833.85 322L834.61 290.1L835.37 310.9L836.17 301.7L837.57 129L838.33 160.9L839.09 138L839.85 160.9L840.12 149.4L841.52 322L842.28 288.6L843.04 310.9L843.84 301.7L845.24 130L846 160.7L846.76 138L847.52 161.3L847.79 149.4L849.19 322L849.95 291.7L850.71 310.9L851.52 301.7L852.92 131.1L853.68 160L854.44 138L855.2 162.2L855.47 149.4L856.87 322L857.63 290.8L858.39 310.9L859.19 301.7L860.59 131.2L861.35 161.8L862.11 138L862.87 160.4L863.14 149.4L864.54 322L865.3 292L866.06 310.9L866.86 301.7L868.26 129.5L869.02 160.1L869.78 138L870.54 160.5L870.81 149.4L872.21 322L872.97 292.1L873.73 310.9L874.54 301.7L875.94 129.9L876.7 161L877.46 138L878.22 158.6L878.49 149.4L879.89 322L880.65 290.7L881.41 310.9L882.21 301.7L883.61 129.8L884.37 162.4L885.13 138L885.89 163.2L886.16 149.4L887.56 322L888.32 292.9L889.08 310.9L889.88 301.7L891.28 131L892.04 161.1L892.8 138L893.56 161.8L893.83 149.4L895.23 322L895.99 290.9L896.75 310.9L897.55 301.7L898.95 131.7L899.71 160.2L900.47 138L901.23 160L901.5 149.4L902.9 322L903.66 292.8L904.42 310.9"/>
<path stroke="#777777" d="M137.52 310.9L138.33 301.7L139.73 129.9L140.49 160.1L141.25 138L142.01 158.8L142.28 149.4L143.68 322L144.44 291.7L145.2 310.9L146 301.7L147.4 130.4L148.16 163L148.92 138L149.68 161.6L149.95 149.4L151.35 322L152.11 290L152.87 310.9L153.67 301.7L155.07 131.5L155.83 163.4L156.59 138L157.35 161.4L157.62 149.4L159.02 322L159.78 291L160.54 310.9L161.35 301.7L162.75 131.8L163.51 160.7L164.27 138L165.03 163.1L165.3 149.4L166.7 322L167.46 290.5L168.22 310.9L169.02 301.7L170.42 131L171.18 159.7L171.94 138L172.7 160.5L172.97 149.4L174.37 322L175.13 290.6L175.89 310.9L176.69 301.7L178.09 130.9L178.85 163.3L179.61 138L180.37 163L180.64 149.4L182.04 322L182.8 292.7L183.56 310.9L184.37 301.7L185.77 130.5L186.53 162.2L187.28 138L188.05 159.7L188.31 149.4L189.72 322L190.47 291.2L191.23 310.9L192.04 301.7L193.44 130.8L194.2 160.3L194.96 138L195.72 162.6L195.99 149.4L197.39 322L198.15 292L198.91 310.9L199.71 301.7L201.11 131.8L201.87 160.5L202.63 138L203.39 162.4L203.66 149.4L205.06 322L205.82 289.8L206.58 310.9L207.38 301.7L208.78 130.7L209.54 160L210.3 138L211.06 159.6L211.33 149.4L212.73 322L213.49 292.9L214.25 310.9L215.06 301.7L216.46 131.3L217.22 163.4L217.98 138L218.74 159.7L219.01 149.4L220.41 322L221.17 289.5L221.93 310.9L222.73 301.7L224.13 129.6L224.89 158.8L225.65 138L226.41 163.4L226.68 149.4L228.08 322L228.84 292.9L229.6 310.9L230.4 301.7L231.8 129.3L232.56 158.6L233.32 138L234.08 159.3L234.35 149.4L235.75 322L236.51 290L237.27 310.9L238.08 301.7L239.48 129.3L240.24 161.1L241 138L241.76 161.1L242.03 149.4L243.43 322L244.19 293L244.95 310.9L245.75 301.7L247.15 129.7L247.91 160.2L248.67 138L249.43 161.5L249.7 149.4L251.1 322L251.86 292.6L252.62 310.9L253.42 301.7L254.82 130.7L255.58 163.1L256.34 138L257.1 160.4L257.37 149.4L258.77 322L259.53 289.4L260.29 310.9L261.1 301.7L262.5 129.4L263.26 162.3L264.02 138L264.78 163L265.05 149.4L266.44 322L267.21 291.3L267.97 310.9L268.77 301.7L270.17 129.4L270.93 163.2L271.69 138L272.45 160.1L272.72 149.4L274.12 322L274.88 291L275.64 310.9L276.44 301.7L277.84 131.8L278.6 160L279.36 138L280.12 159L280.39 149.4L281.79 322L282.55 288.6L283.31 310.9L284.11 301.7L285.51 131.2L286.27 158.6L287.03 138L287.79 159.7L288.06 149.4L289.46 322L290.22 292.3L290.98 310.9L291.79 301.7L293.19 130.5L293.95 161.7L294.71 138L295.47 161.6L295.74 149.4L297.14 322L297.9 290.9L298.66 310.9L299.46 301.7L300.86 131.2L301.62 159.3L302.38 138L303.14 160.6L303.41 149.4L304.81 322L305.57 289.8L306.33 310.9L307.13 301.7L308.53 131.5L309.29 162.6L310.05 138L310.81 163.4L311.08 149.4L312.48 322L313.24 292.5L314 310.9L314.81 301.7L316.21 129.7L316.97 163.4L317.73 138L318.49 161.8L318.76 149.4L320.16 322L320.92 289.7L321.68 310.9L322.48 301.7L323.88 129.6L324.64 158.9L325.4 138L326.16 161.5L326.43 149.4L327.83 322L328.59 292.5L329.35 310.9L330.15 301.7L331.55 131.3L332.31 161L333.07 138L333.83 159.3L334.1 149.4L335.5 322L336.26 288.7L337.02 310.9L337.82 301.7L339.22 129.9L339.99 159.8L340.75 138L341.5 161.2L341.77 149.4L343.17 322L343.94 292.2L344.69 310.9L345.5 301.7L346.9 131.3L347.66 160.2L348.42 138L349.18 160.1L349.45 149.4L350.85 322L351.61 291.8L352.37 310.9L353.17 301.7L354.57 129.8L355.33 160.1L356.09 138L356.85 163L357.12 149.4L358.52 322L359.28 292L360.04 310.9L360.84 301.7L362.24 130.5L363 162L363.76 138L364.52 160.4L364.79 149.4L366.19 322L366.95 290.6L367.71 310.9L368.52 301.7L369.92 131.6L370.68 159.4L371.44 138L372.2 162.4L372.47 149.4L373.87 322L374.63 291.7L375.39 310.9L376.19 301.7L377.59 130.7L378.35 162.3L379.11 138L379.87 162.3L380.14 149.4L381.54 322L382.3 289L383.06 310.9L383.86 301.7L385.26 129.6L386.02 159.9L386.78 138L387.54 159L387.81 149.4L389.21 322L389.97 289.8L390.73 310.9L391.54 301.7L392.94 130.4L393.7 163.1L394.46 138L395.22 159.2L395.49 149.4L396.89 322L397.65 293.1L398.41 310.9L399.21 301.7L400.61 131L401.37 163.4L402.13 138L402.89 159L403.16 149.4L404.56 322L405.32 290.1L406.08 310.9L406.88 301.7L408.28 131.8L409.04 162.5L409.8 138L410.56 161.2L410.83 149.4L412.23 322L412.99 290L413.75 310.9L414.56 301.7L415.95 131.9L416.72 159.2L417.48 138L418.24 162.7L418.5 149.4L419.9 322L420.67 292.4L421.43 310.9L422.23 301.7L423.63 129L424.39 159.8L425.15 138L425.91 160.5L426.18 149.4L427.58 322L428.34 292.9L429.1 310.9L429.9 301.7L431.3 131.7L432.06 158.8L432.82 138L433.58 159.2L433.85 149.4L435.25 322L436.01 290.1L436.77 310.9L437.57 301.7L438.97 131.8L439.73 162.5L440.49 138L441.25 160.3L441.52 149.4L442.92 322L443.68 291.4L444.44 310.9L445.25 301.7L446.65 129.9L447.41 159.8L448.17 138L448.93 159.1L449.2 149.4L450.6 322L451.36 291.9L452.12 310.9L452.92 301.7L454.32 130.6L455.08 161L455.84 138L456.6 163L456.87 149.4L458.27 322L459.03 290.3L459.79 310.9L460.59 301.7L461.99 129.1L462.75 160.2L463.51 138L464.27 161.2L464.54 149.4L465.94 322L466.7 292.7L467.46 310.9L468.27 301.7L469.67 130.7L470.43 160.8L471.19 138L471.95 160.1L472.22 149.4L473.62 322L474.38 291L475.14 310.9L475.94 301.7L477.34 129.3L478.1 162.6L478.86 138L479.62 159.6L479.89 149.4L481.29 322L482.05 290L482.81 310.9L483.61 301.7L485.01 129.8L485.77 162.4L486.53 138L487.29 161.4L487.56 149.4L488.96 322L489.72 291.3L490.48 310.9L491.29 301.7L492.69 130.9L493.45 162.2L494.21 138L494.97 160.8L495.24 149.4L496.63 322L497.4 292.7L498.16 310.9L498.96 301.7L500.36 131.8L501.12 161.9L501.88 138L502.64 159.8L502.91 149.4L504.31 322L505.07 292.9L505.83 310.9L506.63 301.7L508.03 129.4L508.79 159.9L509.55 138L510.31 162L510.58 149.4L511.98 322L512.74 290.1L513.5 310.9L514.3 301.7L515.7 131.7L516.46 162.2L517.22 138L517.98 161.2L518.25 149.4L519.65 322L520.41 289.6L521.17 310.9L521.98 301.7L523.38 129.3L524.14 162L524.9 138L525.66 159.5L525.93 149.4L527.33 322L528.09 293.3L528.85 310.9L529.65 301.7L531.05 131.9L531.81 159.7L532.57 138L533.33 163.3L533.6 149.4L535 322L535.76 293.2L536.52 310.9L537.32 301.7L538.72 130.9L539.48 160.6L540.24 138L541 160.4L541.27 149.4L542.67 322L543.43 289.4L544.19 310.9L545 301.7L546.4 130.3L547.16 162.7L547.92 138L548.68 160.4L548.95 149.4L550.35 322L551.11 289.8L551.87 310.9L552.67 301.7L554.07 129.8L554.83 159.5L555.59 138L556.35 159.2L556.62 149.4L558.02 322L558.78 291.6L559.54 310.9L560.34 301.7L561.74 130.4L562.5 159.7L563.26 138L564.02 160.1L564.29 149.4L565.69 322L566.45 292.4L567.21 310.9L568.01 301.7L569.41 129.2L570.17 159.1L570.93 138L571.69 158.7L571.97 149.4L573.37 322L574.12 291.5L574.88 310.9L575.69 301.7L577.09 129.6L577.85 161.8L578.61 138L579.37 159.3L579.64 149.4L581.04 322L581.8 288.7L582.56 310.9L583.36 301.7L584.76 131L585.52 159.9L586.28 138L587.04 159.9L587.31 149.4L588.71 322L589.47 290.4L590.23 310.9L591.03 301.7L592.43 130.6L593.19 159.9L593.95 138L594.71 162.5L594.98 149.4L596.38 322L597.14 292.1L597.9 310.9L598.71 301.7L600.11 131.6L600.87 162.3L601.63 138L602.39 162.5L602.66 149.4L604.06 322L604.82 292.4L605.58 310.9L606.38 301.7L607.78 131.9L608.54 161.6L609.3 138L610.06 163.3L610.33 149.4L611.73 322L612.49 289L613.25 310.9L614.05 301.7L615.45 131.5L616.21 158.6L616.97 138L617.73 160.3L618 149.4L619.4 322L620.16 292.9L620.92 310.9L621.73 301.7L623.13 130.7L623.89 163.4L624.65 138L625.41 158.9L625.68 149.4L627.08 322L627.84 291L628.6 310.9L629.4 301.7L630.8 131.5L631.56 159.8L632.32 138L633.08 160.5L633.35 149.4L634.75 322L635.51 289.7L636.27 310.9L637.07 301.7L638.47 131.6L639.23 159.3L639.99 138L640.75 159.7L641.02 149.4L642.42 322L643.18 290.9L643.94 310.9L644.75 301.7L646.14 130.8L646.9 159.4L647.66 138L648.42 159.9L648.7 149.4L650.1 322L650.86 290.7L651.62 310.9L652.42 301.7L653.82 131.8L654.58 161.9L655.34 138L656.1 161.6L656.37 149.4L657.77 322L658.53 289.9L659.29 310.9L660.09 301.7L661.49 130.1L662.25 160.6L663.01 138L663.77 161.7L664.04 149.4L665.44 322L666.2 292.6L666.96 310.9L667.76 301.7L669.16 131.1L669.92 163.4L670.68 138L671.44 162.5L671.71 149.4L673.11 322L673.87 292.5L674.63 310.9L675.44 301.7L676.84 130.3L677.6 160.5L678.36 138L679.12 158.9L679.39 149.4L680.79 322L681.55 290.4L682.31 310.9L683.11 301.7L684.51 129.2L685.27 160.2L686.03 138L686.79 162.8L687.06 149.4L688.46 322L689.22 291.3L689.98 310.9L690.78 301.7L692.18 131L692.94 160.4L693.7 138L694.46 160.7L694.73 149.4L696.13 322L696.89 288.8L697.65 310.9L698.46 301.7L699.86 130.2L700.62 159.7L701.38 138L702.14 162.5L702.41 149.4L703.81 322L704.57 293.3L705.33 310.9L706.13 301.7L707.53 131.2L708.29 162.4L709.05 138L709.81 159.5L710.08 149.4L711.48 322L712.24 292.1L713 310.9L713.8 301.7L715.2 131.6L715.96 161.1L716.72 138L717.48 160L717.75 149.4L719.15 322L719.91 292.3L720.67 310.9L721.48 301.7L722.88 130.2L723.63 161.7L724.39 138L725.15 160.3L725.43 149.4L726.83 322L727.59 290.9L728.35 310.9L729.15 301.7L730.55 129L731.31 159.8L732.07 138L732.83 159.1L733.1 149.4L734.5 322L735.26 289.2L736.02 310.9L736.82 301.7L738.22 130.7L738.98 162.4L739.74 138L740.5 159.7L740.77 149.4L742.17 322L742.93 291.6L743.69 310.9L744.49 301.7L745.89 129.1L746.65 161.1L747.41 138L748.17 163L748.44 149.4L749.84 322L750.6 291.2L751.36 310.9L752.17 301.7L753.57 131.8L754.33 159.2L755.09 138L755.85 159.9L756.12 149.4L757.52 322L758.28 291.7L759.04 310.9L759.84 301.7L761.24 129.9L762 159.4L762.76 138L763.52 158.9L763.79 149.4L765.19 322L765.95 291.3L766.71 310.9L767.51 301.7L768.91 129.6L769.67 161.9L770.43 138L771.19 163.2L771.46 149.4L772.86 322L773.62 291.8L774.38 310.9L775.19 301.7L776.59 131.2L777.35 159.2L778.11 138L778.87 163.2L779.14 149.4L780.54 322L781.3 288.8L782.06 310.9L782.86 301.7L784.26 129.3L785.02 161L785.78 138L786.54 159.9L786.81 149.4L788.21 322L788.97 289.9L789.73 310.9L790.53 301.7L791.93 130.4L792.69 159.2L793.45 138L794.21 160.5L794.48 149.4L795.88 322L796.64 290.2L797.4 310.9L798.21 301.7L799.61 129.3L800.37 162.4L801.12 138L801.88 162.1L802.16 149.4L803.56 322L804.32 292.6L805.08 310.9L805.88 301.7L807.28 131L808.04 159.8L808.8 138L809.56 163L809.83 149.4L811.23 322L811.99 290.8L812.75 310.9L813.55 301.7L814.95 131.3L815.71 162L816.47 138L817.23 161.1L817.5 149.4L818.9 322L819.66 292.7L820.42 310.9L821.22 301.7L822.62 129.8L823.38 161.6L824.14 138L824.9 160.8L825.17 149.4L826.57 322L827.33 289.8L828.09 310.9L828.9 301.7L830.3 130.2L831.06 159.1L831.82 138L832.58 161.4L832.85 149.4L834.25 322L835.01 288.7L835.77 310.9L836.57 301.7L837.97 131.9L838.73 162.9L839.49 138L840.25 160.8L840.52 149.4L841.92 322L842.68 293.2L843.44 310.9L844.24 301.7L845.64 131.8L846.4 161.2L847.16 138L847.92 158.8L848.19 149.4L849.59 322L850.35 289.3L851.11 310.9L851.92 301.7L853.32 129.2L854.08 158.9L854.84 138L855.6 159.4L855.87 149.4L857.27 322L858.03 290.4L858.79 310.9L859.59 301.7L860.99 131L861.75 160L862.51 138L863.27 158.6L863.54 149.4L864.94 322L865.7 292.5L866.46 310.9L867.26 301.7L868.66 129.2L869.42 162.8L870.18 138L870.94 159.3L871.21 149.4L872.61 322L873.37 288.6L874.13 310.9L874.94 301.7L876.34 131.9L877.1 159.4L877.86 138L878.62 161.2L878.89 149.4L880.29 322L881.05 291.2L881.81 310.9L882.61 301.7L884.01 131.8L884.77 160.6L885.53 138L886.29 160.1L886.56 149.4L887.96 322L888.72 291.1L889.48 310.9L890.28 301.7L891.68 129.1L892.44 163.4L893.2 138L893.96 159.4L894.23 149.4L895.63 322L896.39 293.1L897.15 310.9L897.95 301.7L899.35 130.6L900.11 161.1L900.87 138L901.63 162.9L901.9 149.4L903.3 322L904.06 289.5"/>
<path stroke="#FBC15E" d="M138.03 301.7L139.43 131.1L140.19 162.7L140.95 138L141.71 163.3L141.98 149.4L143.38 322L144.14 290.6L144.9 310.9L145.7 301.7L147.1 131.2L147.86 161.8L148.62 138L149.38 158.6L149.65 149.4L151.05 322L151.81 289.7L152.57 310.9L153.37 301.7L154.77 131.7L155.53 160.2L156.29 138L157.05 160.4L157.32 149.4L158.72 322L159.48 289.9L160.24 310.9L161.05 301.7L162.45 130.6L163.21 162.9L163.97 138L164.73 163.1L165 149.4L166.4 322L167.16 292.9L167.92 310.9L168.72 301.7L170.12 129.6L170.88 159.4L171.64 138L172.4 159.5L172.67 149.4L174.07 322L174.83 293.4L175.59 310.9L176.39 301.7L177.79 130.2L178.55 159.5L179.31 138L180.07 161.4L180.34 149.4L181.74 322L182.5 288.7L183.26 310.9L184.06 301.7L185.47 130.6L186.22 162.9L186.98 138L187.75 159.5L188.01 149.4L189.41 322L190.17 291.9L190.93 310.9L191.74 301.7L193.14 130.3L193.9 162.1L194.66 138L195.42 158.6L195.69 149.4L197.09 322L197.85 289.2L198.61 310.9L199.41 301.7L200.81 130.1L201.57 161.1L202.33 138L203.09 161.5L203.36 149.4L204.76 322L205.52 292.1L206.28 310.9L207.08 301.7L208.48 131L209.24 161.5L210 138L210.76 161.9L211.03 149.4L212.43 322L213.19 293.2L213.95 310.9L214.76 301.7L216.16 129.2L216.92 159.5L217.68 138L218.44 163.3L218.71 149.4L220.11 322L220.87 293.1L221.63 310.9L222.43 301.7L223.83 129.1L224.59 159.5L225.35 138L226.11 161.1L226.38 149.4L227.78 322L228.54 293.3L229.3 310.9L230.1 301.7L231.5 130.7L232.26 161.9L233.02 138L233.78 163.4L234.05 149.4L235.45 322L236.21 288.8L236.97 310.9L237.78 301.7L239.18 131.8L239.94 162.8L240.7 138L241.46 163.3L241.73 149.4L243.13 322L243.89 289.7L244.65 310.9L245.45 301.7L246.85 130.3L247.61 162.6L248.37 138L249.13 162.6L249.4 149.4L250.8 322L251.56 289.3L252.32 310.9L253.12 301.7L254.52 129.9L255.28 161.2L256.04 138L256.8 159.7L257.07 149.4L258.47 322L259.23 291.8L259.99 310.9L260.8 301.7L262.19 130.6L262.95 160.5L263.71 138L264.47 161.2L264.74 149.4L266.14 322L266.9 293.2L267.66 310.9L268.47 301.7L269.87 131.5L270.63 159L271.39 138L272.15 161L272.42 149.4L273.82 322L274.58 291.4L275.34 310.9L276.14 301.7L277.54 129.9L278.3 162.6L279.06 138L279.82 159.2L280.09 149.4L281.49 322L282.25 290.9L283.01 310.9L283.81 301.7L285.21 131.7L285.97 161.7L286.73 138L287.49 161.7L287.76 149.4L289.16 322L289.92 290.9L290.68 310.9L291.49 301.7L292.89 131.4L293.65 162.6L294.41 138L295.17 158.8L295.44 149.4L296.84 322L297.6 291.7L298.36 310.9L299.16 301.7L300.56 131.5L301.32 158.9L302.08 138L302.84 159.4L303.11 149.4L304.51 322L305.27 288.8L306.03 310.9L306.83 301.7L308.23 131.3L308.99 159.2L309.75 138L310.51 160.2L310.78 149.4L312.18 322L312.94 290L313.7 310.9L314.51 301.7L315.91 129.8L316.67 160.4L317.43 138L318.19 162.4L318.46 149.4L319.86 322L320.62 292.5L321.38 310.9L322.18 301.7L323.58 131.7L324.34 161.9L325.1 138L325.86 162.4L326.13 149.4L327.53 322L328.29 293.3L329.05 310.9L329.85 301.7L331.25 129.3L332.01 160.2L332.77 138L333.53 162.9L333.8 149.4L335.2 322L335.96 293.2L336.72 310.9L337.52 301.7L338.92 131.6L339.69 160.4L340.44 138L341.2 159.1L341.47 149.4L342.87 322L343.63 290.2L344.39 310.9L345.2 301.7L346.6 130L347.36 158.9L348.12 138L348.88 161.6L349.15 149.4L350.55 322L351.31 292.3L352.07 310.9L352.87 301.7L354.27 129.3L355.03 160.4L355.79 138L356.55 162.7L356.82 149.4L358.22 322L358.98 290.4L359.74 310.9L360.54 301.7L361.94 130.1L362.7 161.2L363.46 138L364.22 160.9L364.49 149.4L365.89 322L366.65 290.3L367.41 310.9L368.22 301.7L369.62 130L370.38 161.1L371.14 138L371.9 161.2L372.17 149.4L373.57 322L374.33 289.2L375.09 310.9L375.89 301.7L377.29 130.7L378.05 162.1L378.81 138L379.57 161.8L379.84 149.4L381.24 322L382 293.3L382.76 310.9L383.56 301.7L384.96 131.3L385.72 160.1L386.48 138L387.24 163.3L387.51 149.4L388.91 322L389.67 292.6L390.43 310.9L391.24 301.7L392.64 129.9L393.4 158.8L394.16 138L394.92 160.6L395.19 149.4L396.59 322L397.35 289.6L398.11 310.9L398.91 301.7L400.31 129.8L401.07 163.3L401.83 138L402.59 161.4L402.86 149.4L404.26 322L405.02 289.9L405.78 310.9L406.58 301.7L407.98 131.6L408.74 161.4L409.5 138L410.26 159.4L410.53 149.4L411.93 322L412.69 289.1L413.45 310.9L414.25 301.7L415.65 129L416.42 162.3L417.18 138L417.94 159.9L418.2 149.4L419.6 322L420.37 291.8L421.12 310.9L421.93 301.7L423.33 131.7L424.09 160.1L424.85 138L425.61 162.1L425.88 149.4L427.28 322L428.04 292.9L428.8 310.9L429.6 301.7L431 129.5L431.76 161.5L432.52 138L433.28 159.5L433.55 149.4L434.95 322L435.71 289.5L436.47 310.9L437.27 301.7L438.67 130.4L439.43 161.4L440.19 138L440.95 158.9L441.22 149.4L442.62 322L443.38 292.6L444.14 310.9L444.95 301.7L446.35 130.5L447.11 162.9L447.87 138L448.63 163.4L448.9 149.4L450.3 322L451.06 293L451.82 310.9L452.62 301.7L454.02 130.4L454.78 159.3L455.54 138L456.3 163L456.57 149.4L457.97 322L458.73 292.5L459.49 310.9L460.29 301.7L461.69 131.7L462.45 160.4L463.21 138L463.97 158.7L464.24 149.4L465.64 322L466.4 290.5L467.16 310.9L467.97 301.7L469.37 130L470.13 162.4L470.89 138L471.65 159.1L471.92 149.4L473.32 322L474.08 293.4L474.84 310.9L475.64 301.7L477.04 129.8L477.8 160.3L478.56 138L479.32 162.2L479.59 149.4L480.99 322L481.75 290.9L482.51 310.9L483.31 301.7L484.71 131.1L485.47 159.2L486.23 138L486.99 162.1L487.26 149.4L488.66 322L489.42 293.3L490.18 310.9L490.99 301.7L492.38 131.3L493.15 162L493.91 138L494.67 159.9L494.94 149.4L496.33 322L497.1 288.6L497.86 310.9L498.66 301.7L500.06 131.8L500.82 159.9L501.58 138L502.34 161L502.61 149.4L504.01 322L504.77 289.6L505.53 310.9L506.33 301.7L507.73 131.9L508.49 159.3L509.25 138L510.01 160.8L510.28 149.4L511.68 322L512.44 292.1L513.2 310.9L514 301.7L515.4 130L516.16 159.4L516.92 138L517.68 161.6L517.95 149.4L519.35 322L520.11 290.6L520.87 310.9L521.68 301.7L523.08 129.5L523.84 161.2L524.6 138L525.36 159.5L525.63 149.4L527.03 322L527.79 288.6L528.55 310.9L529.35 301.7L530.75 130.8L531.51 162.8L532.27 138L533.03 162.9L533.3 149.4L534.7 322L535.46 289.6L536.22 310.9L537.02 301.7L538.42 129.7L539.18 158.9L539.94 138L540.7 161.6L540.97 149.4L542.37 322L543.13 290.8L543.89 310.9L544.7 301.7L546.1 129.4L546.86 159.5L547.62 138L548.38 163.3L548.65 149.4L550.05 322L550.81 292.8L551.57 310.9L552.37 301.7L553.77 130.2L554.53 160.9L555.29 138L556.05 160.6L556.32 149.4L557.72 322L558.48 292.4L559.24 310.9L560.04 301.7L561.44 131.4L562.2 162.5L562.96 138L563.72 162.2L563.99 149.4L565.39 322L566.15 288.8L566.91 310.9L567.71 301.7L569.11 130.3L569.87 161.7L570.63 138L571.39 159L571.66 149.4L573.06 322L573.82 290.9L574.58 310.9L575.39 301.7L576.79 131.6L577.55 162.7L578.31 138L579.07 162.1L579.34 149.4L580.74 322L581.5 292.4L582.26 310.9L583.06 301.7L584.46 130.8L585.22 159.6L585.98 138L586.74 161.3L587.01 149.4L588.41 322L589.17 289L589.93 310.9L590.73 301.7L592.13 131.9L592.89 161.3L593.65 138L594.41 160.2L594.68 149.4L596.08 322L596.84 291.1L597.6 310.9L598.41 301.7L599.81 130.2L600.57 161L601.33 138L602.09 159.8L602.36 149.4L603.76 322L604.52 292.4L605.28 310.9L606.08 301.7L607.48 129.6L608.24 162.8L609 138L609.76 158.9L610.03 149.4L611.43 322L612.19 292.8L612.95 310.9L613.75 301.7L615.15 129.9L615.91 158.9L616.67 138L617.43 160.2L617.7 149.4L619.1 322L619.86 291.4L620.62 310.9L621.43 301.7L622.83 130.9L623.59 163L624.35 138L625.11 160.6L625.38 149.4L626.78 322L627.54 288.7L628.3 310.9L629.1 301.7L630.5 130.3L631.26 160.4L632.02 138L632.78 160.1L633.05 149.4L634.45 322L635.21 289.4L635.97 310.9L636.77 301.7L638.17 130.2L638.93 162.4L639.69 138L640.45 162.2L640.72 149.4L642.12 322L642.88 293.3L643.64 310.9L644.44 301.7L645.84 129.3L646.6 162.8L647.36 138L648.12 159.2L648.39 149.4L649.79 322L650.55 293.2L651.31 310.9L652.12 301.7L653.52 130.6L654.28 161.4L655.04 138L655.8 160.6L656.07 149.4L657.47 322L658.23 290.4L658.99 310.9L659.79 301.7L661.19 131.4L661.95 160.3L662.71 138L663.47 162.2L663.74 149.4L665.14 322L665.9 291.8L666.66 310.9L667.46 301.7L668.86 129.3L669.62 159L670.38 138L671.14 159.9L671.41 149.4L672.81 322L673.57 289.4L674.33 310.9L675.14 301.7L676.54 130.7L677.3 162.2L678.06 138L678.82 159.9L679.09 149.4L680.49 322L681.25 290.4L682.01 310.9L682.81 301.7L684.21 130.6L684.97 158.9L685.73 138L686.49 159.5L686.76 149.4L688.16 322L688.92 288.7L689.68 310.9L690.48 301.7L691.88 131.2L692.64 160.6L693.4 138L694.16 161.6L694.43 149.4L695.83 322L696.59 292.3L697.35 310.9L698.16 301.7L699.56 130.4L700.32 162.9L701.08 138L701.84 159.7L702.11 149.4L703.51 322L704.27 289.5L705.03 310.9L705.83 301.7L707.23 130.8L707.99 163.4L708.75 138L709.51 158.8L709.78 149.4L711.18 322L711.94 292L712.7 310.9L713.5 301.7L714.9 131.6L715.66 158.9L716.42 138L717.18 161.9L717.45 149.4L718.85 322L719.61 289.8L720.37 310.9L721.17 301.7L722.57 131.1L723.33 159.9L724.09 138L724.85 159.3L725.12 149.4L726.52 322L727.28 288.8L728.04 310.9L728.85 301.7L730.25 131.9L731.01 158.6L731.77 138L732.53 161.5L732.8 149.4L734.2 322L734.96 292.6L735.72 310.9L736.52 301.7L737.92 131.7L738.68 159.4L739.44 138L740.2 163.3L740.47 149.4L741.87 322L742.63 290.6L743.39 310.9L744.19 301.7L745.59 130.5L746.35 162.3L747.11 138L747.87 161.6L748.14 149.4L749.54 322L750.3 290.4L751.06 310.9L751.87 301.7L753.27 129.4L754.03 162.8L754.79 138L755.55 160.2L755.82 149.4L757.22 322L757.98 291.4L758.74 310.9L759.54 301.7L760.94 131.5L761.7 162.6L762.46 138L763.22 161.4L763.49 149.4L764.89 322L765.65 288.6L766.41 310.9L767.21 301.7L768.61 131.3L769.37 161.9L770.13 138L770.89 159.5L771.16 149.4L772.56 322L773.32 292.6L774.08 310.9L774.89 301.7L776.29 130.4L777.05 162.2L777.81 138L778.57 163.1L778.84 149.4L780.24 322L781 292.8L781.76 310.9L782.56 301.7L783.96 130.6L784.72 161.5L785.48 138L786.24 161.4L786.51 149.4L787.91 322L788.67 291.7L789.43 310.9L790.23 301.7L791.63 130.3L792.39 160L793.15 138L793.91 163.2L794.18 149.4L795.58 322L796.34 291.6L797.1 310.9L797.9 301.7L799.3 129.1L800.06 159.5L800.82 138L801.58 159.7L801.86 149.4L803.25 322L804.01 290.9L804.77 310.9L805.58 301.7L806.98 131.5L807.74 162L808.5 138L809.26 163.3L809.53 149.4L810.93 322L811.69 289L812.45 310.9L813.25 301.7L814.65 131.8L815.41 161.2L816.17 138L816.93 163.3L817.2 149.4L818.6 322L819.36 293.2L820.12 310.9L820.92 301.7L822.32 130.7L823.08 161.6L823.84 138L824.6 161L824.87 149.4L826.27 322L827.03 288.8L827.79 310.9L828.6 301.7L830 129.8L830.76 163L831.52 138L832.28 158.7L832.55 149.4L833.95 322L834.71 290.6L835.47 310.9L836.27 301.7L837.67 129.6L838.43 158.7L839.19 138L839.95 158.9L840.22 149.4L841.62 322L842.38 292.5L843.14 310.9L843.94 301.7L845.34 129.2L846.1 160L846.86 138L847.62 160.7L847.89 149.4L849.29 322L850.05 292.6L850.81 310.9L851.62 301.7L853.02 130.1L853.78 163L854.54 138L855.3 159.6L855.57 149.4L856.97 322L857.73 290.3L858.49 310.9L859.29 301.7L860.69 129.6L861.45 160.6L862.21 138L862.97 159.6L863.24 149.4L864.64 322L865.4 292.5L866.16 310.9L866.96 301.7L868.36 130.9L869.12 158.7L869.88 138L870.64 159.1L870.91 149.4L872.31 322L873.07 292.6L873.83 310.9L874.63 301.7L876.03 130.7L876.79 163L877.55 138L878.31 160.3L878.59 149.4L879.99 322L880.75 290.1L881.5 310.9L882.31 301.7L883.71 130.5L884.47 159.6L885.23 138L885.99 161.6L886.26 149.4L887.66 322L888.42 293.2L889.18 310.9L889.98 301.7L891.38 131.1L892.14 162.8L892.9 138L893.66 159.9L893.93 149.4L895.33 322L896.09 289.1L896.85 310.9L897.65 301.7L899.05 129.2L899.81 163.3L900.57 138L901.33 161.3L901.6 149.4L903 322L903.76 291.8L904.52 310.9"/>
<path stroke="#8EBA42" d="M138.23 301.7L139.63 129.6L140.39 159.4L141.15 138L141.91 163.2L142.18 149.4L143.58 322L144.34 292.5L145.1 310.9L145.9 301.7L147.3 129.3L148.06 159.9L148.82 138L149.58 163.4L149.85 149.4L151.25 322L152.01 293.3L152.77 310.9L153.57 301.7L154.97 130.9L155.73 163L156.49 138L157.25 161.5L157.52 149.4L158.92 322L159.68 288.6L160.44 310.9L161.25 301.7L162.65 129.8L163.41 158.8L164.17 138L164.93 159.5L165.2 149.4L166.6 322L167.36 290.2L168.12 310.9L168.92 301.7L170.32 130.8L171.08 159.6L171.84 138L172.6 163L172.87 149.4L174.27 322L175.03 291.2L175.79 310.9L176.59 301.7L177.99 131.4L178.75 162L179.51 138L180.27 163.2L180.54 149.4L181.94 322L182.7 290.2L183.46 310.9L184.27 301.7L185.67 129.8L186.43 159.4L187.19 138L187.95 160L188.22 149.4L189.62 322L190.38 289.5L191.13 310.9L191.94 301.7L193.34 129L194.1 161.6L194.86 138L195.62 161L195.89 149.4L197.29 322L198.05 292.3L198.81 310.9L199.61 301.7L201.01 129.9L201.77 159.9L202.53 138L203.29 162.4L203.56 149.4L204.96 322L205.72 292.3L206.48 310.9L207.28 301.7L208.68 131.7L209.44 160.5L210.2 138L210.96 161.4L211.23 149.4L212.63 322L213.39 289.7L214.15 310.9L214.96 301.7L216.36 130.3L217.12 160.6L217.88 138L218.64 160.8L218.91 149.4L220.31 322L221.07 289.3L221.83 310.9L222.63 301.7L224.03 130.1L224.79 162.9L225.55 138L226.31 162.9L226.58 149.4L227.98 322L228.74 291L229.5 310.9L230.3 301.7L231.7 130.8L232.46 158.7L233.22 138L233.98 160L234.25 149.4L235.65 322L236.41 288.9L237.17 310.9L237.98 301.7L239.38 129.3L240.14 158.8L240.9 138L241.66 159.4L241.93 149.4L243.33 322L244.09 289.3L244.85 310.9L245.65 301.7L247.05 130L247.81 159.5L248.57 138L249.33 162.9L249.6 149.4L251 322L251.76 289.1L252.52 310.9L253.32 301.7L254.72 131.2L255.48 161L256.24 138L257 161.7L257.27 149.4L258.67 322L259.43 288.7L260.19 310.9L261 301.7L262.39 131.3L263.16 162.5L263.92 138L264.68 161.5L264.94 149.4L266.34 322L267.11 289.6L267.87 310.9L268.67 301.7L270.07 131.3L270.83 159L271.59 138L272.35 161.1L272.62 149.4L274.02 322L274.78 289.6L275.54 310.9L276.34 301.7L277.74 131.6L278.5 163.3L279.26 138L280.02 162.3L280.29 149.4L281.69 322L282.45 288.6L283.21 310.9L284.01 301.7L285.41 131.7L286.17 161L286.93 138L287.69 162L287.96 149.4L289.36 322L290.12 288.7L290.88 310.9L291.69 301.7L293.09 131.8L293.85 160.5L294.61 138L295.37 159.9L295.64 149.4L297.04 322L297.8 290.8L298.56 310.9L299.36 301.7L300.76 131.7L301.52 161.9L302.28 138L303.04 163.4L303.31 149.4L304.71 322L305.47 292.5L306.23 310.9L307.03 301.7L308.43 131.5L309.19 163L309.95 138L310.71 162.1L310.98 149.4L312.38 322L313.14 289.8L313.9 310.9L314.71 301.7L316.11 129.2L316.87 162.9L317.63 138L318.39 162.4L318.66 149.4L320.06 322L320.82 289.5L321.58 310.9L322.38 301.7L323.78 129.9L324.54 162.6L325.3 138L326.06 161.1L326.33 149.4L327.73 322L328.49 291.9L329.25 310.9L330.05 301.7L331.45 131.3L332.21 161.5L332.97 138L333.73 162.4L334 149.4L335.4 322L336.16 289.5L336.92 310.9L337.73 301.7L339.12 130.9L339.89 160.1L340.65 138L341.41 159.2L341.68 149.4L343.07 322L343.84 290.8L344.6 310.9L345.4 301.7L346.8 129.5L347.56 160.1L348.32 138L349.08 159.5L349.35 149.4L350.75 322L351.51 289.8L352.27 310.9L353.07 301.7L354.47 130.2L355.23 162.7L355.99 138L356.75 158.8L357.02 149.4L358.42 322L359.18 289.5L359.94 310.9L360.74 301.7L362.14 131.8L362.9 162.2L363.66 138L364.42 162.6L364.69 149.4L366.09 322L366.85 292.5L367.61 310.9L368.42 301.7L369.82 131.5L370.58 160L371.34 138L372.1 161.4L372.37 149.4L373.77 322L374.53 289.5L375.29 310.9L376.09 301.7L377.49 131.5L378.25 160.9L379.01 138L379.77 158.9L380.04 149.4L381.44 322L382.2 288.6L382.96 310.9L383.76 301.7L385.16 131.5L385.92 161.7L386.68 138L387.44 158.8L387.71 149.4L389.11 322L389.87 288.7L390.63 310.9L391.44 301.7L392.84 130.1L393.6 161.8L394.36 138L395.12 160.6L395.39 149.4L396.79 322L397.55 293.4L398.31 310.9L399.11 301.7L400.51 130.7L401.27 158.8L402.03 138L402.79 162.7L403.06 149.4L404.46 322L405.22 289.6L405.98 310.9L406.78 301.7L408.18 131.8L408.94 163.1L409.7 138L410.46 160.9L410.73 149.4L412.13 322L412.89 289.1L413.65 310.9L414.46 301.7L415.86 129.4L416.62 159.3L417.38 138L418.14 161.3L418.41 149.4L419.81 322L420.57 293.2L421.33 310.9L422.13 301.7L423.53 129.2L424.29 163.4L425.05 138L425.81 159.4L426.08 149.4L427.48 322L428.24 291.5L429 310.9L429.8 301.7L431.2 129.6L431.96 161.3L432.72 138L433.48 160L433.75 149.4L435.15 322L435.91 289.1L436.67 310.9L437.47 301.7L438.87 130.5L439.63 162.1L440.39 138L441.15 161.9L441.42 149.4L442.82 322L443.58 290.7L444.34 310.9L445.15 301.7L446.55 131.4L447.31 160.6L448.07 138L448.83 161.2L449.1 149.4L450.5 322L451.26 290.5L452.02 310.9L452.82 301.7L454.22 129.7L454.98 160.7L455.74 138L456.5 160.6L456.77 149.4L458.17 322L458.93 291.7L459.69 310.9L460.49 301.7L461.89 130.7L462.65 163.1L463.41 138L464.17 159.8L464.44 149.4L465.84 322L466.6 293L467.36 310.9L468.17 301.7L469.57 130.2L470.33 162.2L471.09 138L471.85 161.5L472.12 149.4L473.52 322L474.28 291.3L475.04 310.9L475.84 301.7L477.24 131.3L478 160L478.76 138L479.52 160.5L479.79 149.4L481.19 322L481.95 292.2L482.71 310.9L483.51 301.7L484.91 131L485.67 159L486.43 138L487.19 160.3L487.46 149.4L488.86 322L489.62 293.2L490.38 310.9L491.19 301.7L492.59 131.7L493.35 158.8L494.11 138L494.87 159.1L495.14 149.4L496.54 322L497.3 291.8L498.06 310.9L498.86 301.7L500.26 131.2L501.02 161.4L501.78 138L502.54 159.4L502.81 149.4L504.21 322L504.97 293L505.73 310.9L506.53 301.7L507.93 129.6L508.69 158.6L509.45 138L510.21 158.9L510.48 149.4L511.88 322L512.64 288.8L513.4 310.9L514.2 301.7L515.6 129.8L516.36 161.2L517.12 138L517.88 161L518.15 149.4L519.55 322L520.31 290L521.07 310.9L521.88 301.7L523.28 131.7L524.04 160.9L524.8 138L525.56 160.8L525.83 149.4L527.23 322L527.99 291.7L528.75 310.9L529.55 301.7L530.95 131L531.71 159.6L532.47 138L533.23 161.7L533.5 149.4L534.9 322L535.66 292L536.42 310.9L537.22 301.7L538.62 130.2L539.38 160.9L540.14 138L540.9 161.9L541.17 149.4L542.57 322L543.33 289.3L544.09 310.9L544.9 301.7L546.3 131.5L547.06 161.9L547.82 138L548.58 159.9L548.85 149.4L550.25 322L551.01 291.1L551.77 310.9L552.57 301.7L553.97 131.9L554.73 162.9L555.49 138L556.25 160.5L556.52 149.4L557.92 322L558.68 289.2L559.44 310.9L560.24 301.7L561.64 130.5L562.4 161.9L563.16 138L563.92 158.7L564.19 149.4L565.59 322L566.35 290.6L567.11 310.9L567.91 301.7L569.31 130.9L570.07 160.1L570.83 138L571.59 163.2L571.87 149.4L573.26 322L574.02 292.1L574.78 310.9L575.59 301.7L576.99 130.2L577.75 163L578.51 138L579.27 163.3L579.54 149.4L580.94 322L581.7 291.3L582.46 310.9L583.26 301.7L584.66 131.8L585.42 162.2L586.18 138L586.94 161L587.21 149.4L588.61 322L589.37 290.3L590.13 310.9L590.93 301.7L592.33 130.4L593.09 162.2L593.85 138L594.61 162L594.88 149.4L596.28 322L597.04 292L597.8 310.9L598.61 301.7L600.01 129.8L600.77 160.2L601.53 138L602.29 163L602.56 149.4L603.96 322L604.72 293.2L605.48 310.9L606.28 301.7L607.68 129L608.44 162.9L609.2 138L609.96 159.5L610.23 149.4L611.63 322L612.39 290.3L613.15 310.9L613.95 301.7L615.35 130.9L616.11 162.4L616.87 138L617.63 163.4L617.9 149.4L619.3 322L620.06 292.8L620.82 310.9L621.63 301.7L623.03 130.2L623.79 159.2L624.55 138L625.31 159.3L625.58 149.4L626.98 322L627.74 290.6L628.5 310.9L629.3 301.7L630.7 130L631.46 161.3L632.22 138L632.98 158.7L633.25 149.4L634.65 322L635.41 291.9L636.17 310.9L636.97 301.7L638.37 130.5L639.13 162.7L639.89 138L640.65 162.3L640.92 149.4L642.32 322L643.08 290.2L643.84 310.9L644.64 301.7L646.04 130.3L646.8 159.4L647.56 138L648.32 159.3L648.6 149.4L650 322L650.75 289.9L651.51 310.9L652.32 301.7L653.72 131.8L654.48 162.8L655.24 138L656 160L656.27 149.4L657.67 322L658.43 292.4L659.19 310.9L659.99 301.7L661.39 131L662.15 159.4L662.91 138L663.67 163.1L663.94 149.4L665.34 322L666.1 289.6L666.86 310.9L667.66 301.7L669.06 129.8L669.82 162L670.58 138L671.34 159.8L671.61 149.4L673.01 322L673.77 290.1L674.53 310.9L675.34 301.7L676.74 131.7L677.5 163L678.26 138L679.02 160.2L679.29 149.4L680.69 322L681.45 290.4L682.21 310.9L683.01 301.7L684.41 131L685.17 158.7L685.93 138L686.69 161.9L686.96 149.4L688.36 322L689.12 289.8L689.88 310.9L690.68 301.7L692.08 129.4L692.84 159.3L693.6 138L694.36 162.7L694.63 149.4L696.03 322L696.79 289.7L697.55 310.9L698.36 301.7L699.76 131.7L700.52 160.4L701.28 138L702.04 159.8L702.31 149.4L703.71 322L704.47 291.6L705.23 310.9L706.03 301.7L707.43 129.6L708.19 159.9L708.95 138L709.71 160.7L709.98 149.4L711.38 322L712.14 291.8L712.9 310.9L713.7 301.7L715.1 129.6L715.86 159.6L716.62 138L717.38 163.1L717.65 149.4L719.05 322L719.81 292.6L720.57 310.9L721.38 301.7L722.77 131.4L723.53 163.3L724.29 138L725.05 160.5L725.33 149.4L726.73 322L727.49 291.1L728.25 310.9L729.05 301.7L730.45 131.4L731.21 162.1L731.97 138L732.73 159.4L733 149.4L734.4 322L735.16 289.1L735.92 310.9L736.72 301.7L738.12 129.1L738.88 159L739.64 138L740.4 162.8L740.67 149.4L742.07 322L742.83 289.9L743.59 310.9L744.39 301.7L745.79 129.9L746.55 161.7L747.31 138L748.07 161.4L748.34 149.4L749.74 322L750.5 289.8L751.26 310.9L752.07 301.7L753.47 131.6L754.23 160.9L754.99 138L755.75 161.5L756.02 149.4L757.42 322L758.18 292.6L758.94 310.9L759.74 301.7L761.14 131.3L761.9 160L762.66 138L763.42 162.1L763.69 149.4L765.09 322L765.85 291.1L766.61 310.9L767.41 301.7L768.81 129.3L769.57 159.5L770.33 138L771.09 161.9L771.36 149.4L772.76 322L773.52 288.8L774.28 310.9L775.09 301.7L776.49 130.4L777.25 161.6L778.01 138L778.77 159.3L779.04 149.4L780.44 322L781.2 288.7L781.96 310.9L782.76 301.7L784.16 129.5L784.92 161.8L785.68 138L786.44 160.1L786.71 149.4L788.11 322L788.87 290.4L789.63 310.9L790.43 301.7L791.83 131.7L792.59 159.8L793.35 138L794.11 163.1L794.38 149.4L795.78 322L796.54 293.4L797.3 310.9L798.11 301.7L799.5 129.5L800.26 161.5L801.02 138L801.78 160.3L802.06 149.4L803.46 322L804.22 291.2L804.98 310.9L805.78 301.7L807.18 131.2L807.94 163.1L808.7 138L809.46 161.6L809.73 149.4L811.13 322L811.89 291.5L812.65 310.9L813.45 301.7L814.85 130.4L815.61 160.5L816.37 138L817.13 161.6L817.4 149.4L818.8 322L819.56 292.7L820.32 310.9L821.12 301.7L822.52 131.7L823.28 162.2L824.04 138L824.8 162.7L825.07 149.4L826.47 322L827.23 291.1L827.99 310.9L828.8 301.7L830.2 129.8L830.96 161.2L831.72 138L832.48 161.9L832.75 149.4L834.15 322L834.91 290.3L835.67 310.9L836.47 301.7L837.87 130.6L838.63 161.3L839.39 138L840.15 159L840.42 149.4L841.82 322L842.58 289.1L843.34 310.9L844.14 301.7L845.54 129.3L846.3 160.2L847.06 138L847.82 159L848.09 149.4L849.49 322L850.25 292.6L851.01 310.9L851.82 301.7L853.22 130.3L853.98 162L854.74 138L855.5 159L855.77 149.4L857.17 322L857.93 291L858.69 310.9L859.49 301.7L860.89 130.5L861.65 160.9L862.41 138L863.17 159.3L863.44 149.4L864.84 322L865.6 290.2L866.36 310.9L867.16 301.7L868.56 131.6L869.32 159.4L870.08 138L870.84 163.2L871.11 149.4L872.51 322L873.27 292.9L874.03 310.9L874.84 301.7L876.24 131.8L877 162.5L877.75 138L878.51 159.3L878.79 149.4L880.19 322L880.95 290.2L881.71 310.9L882.51 301.7L883.91 130.9L884.67 163.2L885.43 138L886.19 159.1L886.46 149.4L887.86 322L888.62 291.8L889.38 310.9L890.18 301.7L891.58 129.4L892.34 163L893.1 138L893.86 162.3L894.13 149.4L895.53 322L896.29 291.2L897.05 310.9L897.85 301.7L899.25 129.5L900.01 160.6L900.77 138L901.53 162.2L901.8 149.4L903.2 322L903.96 291.3"/>
<path stroke="#FFB5B8" d="M138.13 301.7L139.53 131.5L140.29 160.6L141.05 138L141.81 159.4L142.08 149.4L143.48 322L144.24 290.7L145 310.9L145.8 301.7L147.2 129.9L147.96 160.1L148.72 138L149.48 160L149.75 149.4L151.15 322L151.91 292.3L152.67 310.9L153.47 301.7L154.87 130L155.63 158.8L156.39 138L157.15 162.9L157.42 149.4L158.82 322L159.58 292.4L160.34 310.9L161.15 301.7L162.55 129.5L163.31 162.1L164.07 138L164.83 159.4L165.1 149.4L166.5 322L167.26 291.1L168.02 310.9L168.82 301.7L170.22 130.4L170.98 163L171.74 138L172.5 159L172.77 149.4L174.17 322L174.93 291.8L175.69 310.9L176.49 301.7L177.89 131.4L178.65 162.4L179.41 138L180.17 161.2L180.44 149.4L181.84 322L182.6 290.7L183.36 310.9L184.17 301.7L185.57 129.3L186.33 162.4L187.09 138L187.85 160.6L188.12 149.4L189.52 322L190.28 289.9L191.03 310.9L191.84 301.7L193.24 130.4L194 162.2L194.76 138L195.52 160.9L195.79 149.4L197.19 322L197.95 290.1L198.71 310.9L199.51 301.7L200.91 130.3L201.67 162.3L202.43 138L203.19 163L203.46 149.4L204.86 322L205.62 289.5L206.38 310.9L207.18 301.7L208.58 131.5L209.34 159.1L210.1 138L210.86 162L211.13 149.4L212.53 322L213.29 289.9L214.05 310.9L214.86 301.7L216.26 131.9L217.02 160.5L217.78 138L218.54 159.6L218.81 149.4L220.21 322L220.97 291.5L221.73 310.9L222.53 301.7L223.93 130.1L224.69 159.2L225.45 138L226.21 159.9L226.48 149.4L227.88 322L228.64 292.3L229.4 310.9L230.2 301.7L231.6 129.1L232.36 160.9L233.12 138L233.88 160.8L234.15 149.4L235.55 322L236.31 289L237.07 310.9L237.88 301.7L239.28 131.9L240.04 162.2L240.8 138L241.56 159.7L241.83 149.4L243.23 322L243.99 293.3L244.75 310.9L245.55 301.7L246.95 131L247.71 161L248.47 138L249.23 162.4L249.5 149.4L250.9 322L251.66 291.9L252.42 310.9L253.22 301.7L254.62 129.5L255.38 159.7L256.14 138L256.9 161.8L257.17 149.4L258.57 322L259.33 289.2L260.09 310.9L260.9 301.7L262.29 131.4L263.06 159.7L263.81 138L264.57 162.8L264.84 149.4L266.24 322L267 292.5L267.76 310.9L268.57 301.7L269.97 129.9L270.73 160.1L271.49 138L272.25 160.2L272.52 149.4L273.92 322L274.68 293.1L275.44 310.9L276.24 301.7L277.64 129.4L278.4 162L279.16 138L279.92 159.9L280.19 149.4L281.59 322L282.35 290.5L283.11 310.9L283.91 301.7L285.31 129.9L286.07 162L286.83 138L287.59 160L287.86 149.4L289.26 322L290.02 289L290.78 310.9L291.59 301.7L292.99 130.9L293.75 163L294.51 138L295.27 161.1L295.54 149.4L296.94 322L297.7 289.8L298.46 310.9L299.26 301.7L300.66 129.9L301.42 159.4L302.18 138L302.94 162.6L303.21 149.4L304.61 322L305.37 288.7L306.13 310.9L306.93 301.7L308.33 129.8L309.09 160.1L309.85 138L310.61 159.6L310.88 149.4L312.28 322L313.04 289.6L313.8 310.9L314.61 301.7L316.01 129.1L316.77 161.2L317.53 138L318.29 160.3L318.56 149.4L319.96 322L320.72 290.2L321.48 310.9L322.28 301.7L323.68 130.2L324.44 159.3L325.2 138L325.96 163.3L326.23 149.4L327.63 322L328.39 290.6L329.15 310.9L329.95 301.7L331.35 130.1L332.11 160.7L332.87 138L333.63 161.5L333.9 149.4L335.3 322L336.06 288.6L336.82 310.9L337.62 301.7L339.02 129.3L339.79 158.7L340.55 138L341.31 162.2L341.57 149.4L342.97 322L343.74 289.7L344.5 310.9L345.3 301.7L346.7 130.9L347.46 160.7L348.22 138L348.98 159.4L349.25 149.4L350.65 322L351.41 288.7L352.17 310.9L352.97 301.7L354.37 130L355.13 160.9L355.89 138L356.65 162.4L356.92 149.4L358.32 322L359.08 290L359.84 310.9L360.64 301.7L362.04 129L362.8 160.3L363.56 138L364.32 161.5L364.59 149.4L365.99 322L366.75 291.1L367.51 310.9L368.32 301.7L369.72 130.6L370.48 163L371.24 138L372 159.3L372.27 149.4L373.67 322L374.43 292.3L375.19 310.9L375.99 301.7L377.39 129.9L378.15 160.2L378.91 138L379.67 159.2L379.94 149.4L381.34 322L382.1 289.4L382.86 310.9L383.66 301.7L385.06 130.6L385.82 158.9L386.58 138L387.34 159.7L387.61 149.4L389.01 322L389.77 292.7L390.53 310.9L391.34 301.7L392.74 129.2L393.5 158.9L394.26 138L395.02 159.7L395.29 149.4L396.69 322L397.45 291.5L398.21 310.9L399.01 301.7L400.41 129.4L401.17 160.1L401.93 138L402.69 163.1L402.96 149.4L404.36 322L405.12 288.6L405.88 310.9L406.68 301.7L408.08 129.6L408.84 163.4L409.6 138L410.36 163.2L410.63 149.4L412.03 322L412.79 293.3L413.55 310.9L414.36 301.7L415.75 130.9L416.52 159.7L417.28 138L418.04 161.4L418.31 149.4L419.7 322L420.47 290.4L421.23 310.9L422.03 301.7L423.43 129.4L424.19 163.3L424.95 138L425.71 159.5L425.98 149.4L427.38 322L428.14 291.9L428.9 310.9L429.7 301.7L431.1 130.3L431.86 161.2L432.62 138L433.38 161.2L433.65 149.4L435.05 322L435.81 293L436.57 310.9L437.37 301.7L438.77 131.7L439.53 159.5L440.29 138L441.05 160.8L441.32 149.4L442.72 322L443.48 290.1L444.24 310.9L445.05 301.7L446.45 129.4L447.21 163.2L447.97 138L448.73 161.1L449 149.4L450.4 322L451.16 291.5L451.92 310.9L452.72 301.7L454.12 131.7L454.88 159.2L455.64 138L456.4 160.2L456.67 149.4L458.07 322L458.83 291L459.59 310.9L460.39 301.7L461.79 131L462.55 160.7L463.31 138L464.07 160L464.34 149.4L465.74 322L466.5 288.8L467.26 310.9L468.07 301.7L469.47 129.2L470.23 159.1L470.99 138L471.75 162.9L472.02 149.4L473.42 322L474.18 293.3L474.94 310.9L475.74 301.7L477.14 130.6L477.9 162.5L478.66 138L479.42 161.3L479.69 149.4L481.09 322L481.85 293.3L482.61 310.9L483.41 301.7L484.81 129.8L485.57 160.8L486.33 138L487.09 158.8L487.36 149.4L488.76 322L489.52 290.4L490.28 310.9L491.09 301.7L492.49 130.7L493.25 161L494.01 138L494.77 162.6L495.04 149.4L496.44 322L497.2 290.9L497.96 310.9L498.76 301.7L500.16 131L500.92 160.2L501.68 138L502.44 163.2L502.71 149.4L504.11 322L504.87 291.5L505.63 310.9L506.43 301.7L507.83 131.2L508.59 162.4L509.35 138L510.11 160.7L510.38 149.4L511.78 322L512.54 292.2L513.3 310.9L514.1 301.7L515.5 130.5L516.26 160.1L517.02 138L517.78 160.1L518.05 149.4L519.45 322L520.21 292.3L520.97 310.9L521.78 301.7L523.18 130.2L523.94 159.4L524.7 138L525.46 163.3L525.73 149.4L527.13 322L527.89 289.6L528.65 310.9L529.45 301.7L530.85 129.1L531.61 162.9L532.37 138L533.13 159L533.4 149.4L534.8 322L535.56 289L536.32 310.9L537.12 301.7L538.52 130.7L539.28 159.3L540.04 138L540.8 163.4L541.07 149.4L542.47 322L543.23 290.1L543.99 310.9L544.8 301.7L546.2 129.5L546.96 160.6L547.72 138L548.48 162.4L548.75 149.4L550.15 322L550.91 289.5L551.67 310.9L552.47 301.7L553.87 129.7L554.63 161L555.39 138L556.15 159.5L556.42 149.4L557.82 322L558.58 291.9L559.34 310.9L560.14 301.7L561.54 129.4L562.3 159.8L563.06 138L563.82 162.7L564.09 149.4L565.49 322L566.25 288.7L567.01 310.9L567.82 301.7L569.22 131.6L569.98 162.1L570.74 138L571.5 159.2L571.77 149.4L573.17 322L573.93 292.3L574.69 310.9L575.49 301.7L576.89 129.8L577.65 160.8L578.41 138L579.17 160.5L579.44 149.4L580.84 322L581.6 290.2L582.36 310.9L583.16 301.7L584.56 131.3L585.32 160.4L586.08 138L586.84 162.1L587.11 149.4L588.51 322L589.27 292.8L590.03 310.9L590.83 301.7L592.23 131.8L592.99 162.7L593.75 138L594.51 160.2L594.78 149.4L596.18 322L596.94 290.7L597.7 310.9L598.51 301.7L599.91 129.3L600.67 161.7L601.43 138L602.19 159.1L602.46 149.4L603.86 322L604.62 289.7L605.38 310.9L606.18 301.7L607.58 129.4L608.34 159.6L609.1 138L609.86 160.4L610.13 149.4L611.53 322L612.29 289.5L613.05 310.9L613.85 301.7L615.25 130.1L616.01 158.8L616.77 138L617.53 162.1L617.8 149.4L619.2 322L619.96 288.7L620.72 310.9L621.53 301.7L622.93 131.5L623.69 158.7L624.45 138L625.21 162.7L625.48 149.4L626.88 322L627.64 290.6L628.4 310.9L629.2 301.7L630.6 129.3L631.36 161.4L632.12 138L632.88 162.8L633.15 149.4L634.55 322L635.31 292.6L636.07 310.9L636.87 301.7L638.27 131.5L639.03 160.1L639.79 138L640.55 161.3L640.82 149.4L642.22 322L642.98 288.8L643.74 310.9L644.55 301.7L645.95 131.4L646.71 159.8L647.47 138L648.23 160L648.5 149.4L649.9 322L650.66 288.8L651.42 310.9L652.22 301.7L653.62 129.8L654.38 158.8L655.14 138L655.9 160.4L656.17 149.4L657.57 322L658.33 289.1L659.09 310.9L659.89 301.7L661.29 130.9L662.05 159.3L662.81 138L663.57 159.4L663.84 149.4L665.24 322L666 291.2L666.76 310.9L667.56 301.7L668.96 130.5L669.72 158.9L670.48 138L671.24 159.2L671.51 149.4L672.91 322L673.67 292.1L674.43 310.9L675.24 301.7L676.64 129.8L677.4 162.3L678.16 138L678.92 160L679.19 149.4L680.59 322L681.35 291.8L682.11 310.9L682.91 301.7L684.31 130.4L685.07 160.6L685.83 138L686.59 163L686.86 149.4L688.26 322L689.02 288.6L689.78 310.9L690.58 301.7L691.98 129.7L692.74 162.8L693.5 138L694.26 162.4L694.53 149.4L695.93 322L696.69 292.3L697.45 310.9L698.26 301.7L699.66 131.7L700.42 163L701.18 138L701.94 160L702.21 149.4L703.61 322L704.37 291.3L705.13 310.9L705.93 301.7L707.33 129.4L708.09 158.8L708.85 138L709.61 160.5L709.88 149.4L711.28 322L712.04 290.9L712.8 310.9L713.6 301.7L715 131.1L715.76 163L716.52 138L717.28 163.4L717.55 149.4L718.95 322L719.71 292.6L720.47 310.9L721.28 301.7L722.68 131.2L723.44 159.3L724.2 138L724.96 161.7L725.23 149.4L726.63 322L727.39 293.4L728.15 310.9L728.95 301.7L730.35 129.2L731.11 159.6L731.87 138L732.63 162.4L732.9 149.4L734.3 322L735.06 291.9L735.82 310.9L736.62 301.7L738.02 129.4L738.78 162.8L739.54 138L740.3 163.2L740.57 149.4L741.97 322L742.73 289L743.49 310.9L744.29 301.7L745.69 131.5L746.45 160.6L747.21 138L747.97 158.7L748.24 149.4L749.64 322L750.4 289.3L751.16 310.9L751.97 301.7L753.37 130.5L754.13 162L754.89 138L755.65 160.4L755.92 149.4L757.32 322L758.08 291L758.84 310.9L759.64 301.7L761.04 130.7L761.8 159.2L762.56 138L763.32 159.4L763.59 149.4L764.99 322L765.75 290.2L766.51 310.9L767.31 301.7L768.71 129.1L769.47 159.7L770.23 138L770.99 162.8L771.26 149.4L772.66 322L773.42 289.7L774.18 310.9L774.99 301.7L776.39 131.5L777.15 159.6L777.91 138L778.67 158.8L778.94 149.4L780.34 322L781.1 292.9L781.86 310.9L782.66 301.7L784.06 131.5L784.82 161.8L785.58 138L786.34 161.2L786.61 149.4L788.01 322L788.77 291.7L789.53 310.9L790.33 301.7L791.73 131.1L792.49 159.1L793.25 138L794.01 160.2L794.28 149.4L795.68 322L796.44 288.8L797.2 310.9L798.01 301.7L799.41 131.4L800.17 161.6L800.93 138L801.69 163L801.96 149.4L803.36 322L804.12 290.2L804.88 310.9L805.68 301.7L807.08 131.5L807.84 160.3L808.6 138L809.36 159.6L809.63 149.4L811.03 322L811.79 289.4L812.55 310.9L813.35 301.7L814.75 130.8L815.51 159.7L816.27 138L817.03 162.5L817.3 149.4L818.7 322L819.46 292.4L820.22 310.9L821.02 301.7L822.42 131.6L823.18 162.5L823.94 138L824.7 159.4L824.97 149.4L826.37 322L827.13 293L827.89 310.9L828.7 301.7L830.1 131.5L830.86 162.2L831.62 138L832.38 159.8L832.65 149.4L834.05 322L834.81 292.9L835.57 310.9L836.37 301.7L837.77 131.6L838.53 161.5L839.29 138L840.05 162.4L840.32 149.4L841.72 322L842.48 292.3L843.24 310.9L844.04 301.7L845.44 129.9L846.2 162.9L846.96 138L847.72 158.7L847.99 149.4L849.39 322L850.15 289.5L850.91 310.9L851.72 301.7L853.12 129.8L853.88 161.7L854.64 138L855.4 161.4L855.67 149.4L857.07 322L857.83 292.2L858.59 310.9L859.39 301.7L860.79 131.3L861.55 159.7L862.31 138L863.07 158.9L863.34 149.4L864.74 322L865.5 293.2L866.26 310.9L867.06 301.7L868.46 131.7L869.22 162.4L869.98 138L870.74 162.9L871.01 149.4L872.41 322L873.17 288.8L873.93 310.9L874.74 301.7L876.14 130.3L876.9 162.2L877.66 138L878.42 162.1L878.69 149.4L880.09 322L880.85 289.6L881.61 310.9L882.41 301.7L883.81 129.5L884.57 162.2L885.33 138L886.09 162.9L886.36 149.4L887.76 322L888.52 293.2L889.28 310.9L890.08 301.7L891.48 131L892.24 161.8L893 138L893.76 162.6L894.03 149.4L895.43 322L896.19 290.4L896.95 310.9L897.75 301.7L899.15 131.7L899.91 161.8L900.67 138L901.43 160.6L901.7 149.4L903.1 322L903.86 290.7L904.62 310.9"/>
<path stroke="#E24A33" d="M137.88 301.7L139.28 130.4L139.66 165L140.04 129L140.42 167L140.8 133.8L141.18 166.5L141.56 145.3L141.83 149.4L143.23 322L143.61 285.5L143.99 319.6L144.37 286.6L144.75 310.9L145.13 284.5L145.55 301.7L146.95 131.7L147.33 165.2L147.71 129L148.09 166.1L148.47 133.8L148.85 167L149.23 145.3L149.5 149.4L150.9 322L151.28 287.7L151.66 319.6L152.04 285.1L152.42 310.9L152.8 284.3L153.22 301.7L154.62 130.1L155 164.1L155.38 129L155.76 164.9L156.14 133.8L156.52 164.6L156.9 145.3L157.17 149.4L158.57 322L158.95 285.9L159.33 319.6L159.71 286.2L160.09 310.9L160.47 284.3L160.9 301.7L162.3 130.9L162.68 164L163.06 129L163.44 164.5L163.82 133.8L164.2 166.2L164.58 145.3L164.85 149.4L166.25 322L166.63 285.8L167.01 319.6L167.39 285.5L167.77 310.9L168.15 286L168.57 301.7L169.97 129.8L170.35 164.7L170.73 129L171.11 164.9L171.49 133.8L171.87 164L172.25 145.3L172.52 149.4L173.92 322L174.3 287L174.68 319.6L175.06 285L175.44 310.9L175.82 284.3L176.24 301.7L177.64 131.6L178.02 167L178.4 129L178.78 166.3L179.16 133.8L179.54 164.5L179.92 145.3L180.19 149.4L181.59 322L181.97 285.4L182.35 319.6L182.73 286.7L183.11 310.9L183.49 287.2L183.92 301.7L185.32 131.1L185.7 164.9L186.08 129L186.46 166.5L186.84 133.8L187.22 165.8L187.6 145.3L187.87 149.4L189.27 322L189.65 287.4L190.03 319.6L190.41 286.2L190.78 310.9L191.17 285.6L191.59 301.7L192.99 129.3L193.37 164.2L193.75 129L194.13 165.8L194.51 133.8L194.89 165.2L195.27 145.3L195.54 149.4L196.94 322L197.32 286L197.7 319.6L198.08 286.3L198.46 310.9L198.84 287.6L199.26 301.7L200.66 131.4L201.04 166L201.42 129L201.8 167.2L202.18 133.8L202.56 167L202.94 145.3L203.21 149.4L204.61 322L204.99 284.3L205.37 319.6L205.75 286.4L206.13 310.9L206.51 286L206.93 301.7L208.33 130.4L208.71 167.8L209.09 129L209.47 166.3L209.85 133.8L210.23 166.3L210.61 145.3L210.88 149.4L212.28 322L212.66 286L213.04 319.6L213.42 285.8L213.8 310.9L214.18 287.3L214.61 301.7L216.01 129.7L216.39 166L216.77 129L217.15 167.6L217.53 133.8L217.91 165L218.29 145.3L218.56 149.4L219.96 322L220.34 285.2L220.72 319.6L221.1 287L221.48 310.9L221.86 284.7L222.28 301.7L223.68 130.9L224.06 165.1L224.44 129L224.82 166.6L225.2 133.8L225.58 165.9L225.96 145.3L226.23 149.4L227.63 322L228.01 286.8L228.39 319.6L228.77 285L229.15 310.9L229.53 285.7L229.95 301.7L231.35 131.1L231.73 166.4L232.11 129L232.49 167.6L232.87 133.8L233.25 167.5L233.63 145.3L233.9 149.4L235.3 322L235.68 287.5L236.06 319.6L236.44 286.8L236.82 310.9L237.2 286.4L237.63 301.7L239.03 130L239.41 165L239.79 129L240.17 166.4L240.55 133.8L240.93 166.3L241.31 145.3L241.58 149.4L242.98 322L243.36 286.1L243.74 319.6L244.12 287.5L244.5 310.9L244.88 286.8L245.3 301.7L246.7 129.7L247.08 165.5L247.46 129L247.84 165.7L248.22 133.8L248.6 164L248.98 145.3L249.25 149.4L250.65 322L251.03 285.6L251.41 319.6L251.79 285.2L252.17 310.9L252.55 285.7L252.97 301.7L254.37 129.3L254.75 164.6L255.13 129L255.51 164.4L255.89 133.8L256.27 166.7L256.65 145.3L256.92 149.4L258.32 322L258.7 287.5L259.08 319.6L259.46 284.2L259.84 310.9L260.22 285.5L260.65 301.7L262.04 129.4L262.42 164.1L262.81 129L263.19 167.3L263.56 133.8L263.94 164.7L264.32 145.3L264.59 149.4L265.99 322L266.37 286.2L266.75 319.6L267.13 286.2L267.51 310.9L267.89 284.4L268.32 301.7L269.72 130.7L270.1 164.7L270.48 129L270.86 164.8L271.24 133.8L271.62 166.7L272 145.3L272.27 149.4L273.67 322L274.05 284.6L274.43 319.6L274.81 285.5L275.19 310.9L275.57 284.4L275.99 301.7L277.39 130.4L277.77 164.3L278.15 129L278.53 164.5L278.91 133.8L279.29 164.8L279.67 145.3L279.94 149.4L281.34 322L281.72 286L282.1 319.6L282.48 285.7L282.86 310.9L283.24 285L283.66 301.7L285.06 130.6L285.44 165.9L285.82 129L286.2 166.1L286.58 133.8L286.96 164.5L287.34 145.3L287.61 149.4L289.01 322L289.39 284.8L289.77 319.6L290.15 284.3L290.53 310.9L290.91 284.9L291.34 301.7L292.74 131L293.12 166.5L293.5 129L293.88 166.4L294.26 133.8L294.64 166.2L295.02 145.3L295.29 149.4L296.69 322L297.07 285.9L297.45 319.6L297.83 287.1L298.21 310.9L298.59 286.8L299.01 301.7L300.41 130.3L300.79 165.4L301.17 129L301.55 166.9L301.93 133.8L302.31 164.4L302.69 145.3L302.96 149.4L304.36 322L304.74 286.2L305.12 319.6L305.5 285.6L305.88 310.9L306.26 285.8L306.68 301.7L308.08 130.5L308.46 165.1L308.84 129L309.22 167L309.6 133.8L309.98 166.8L310.36 145.3L310.63 149.4L312.03 322L312.41 286.3L312.79 319.6L313.17 287.1L313.55 310.9L313.93 286.4L314.36 301.7L315.76 130L316.14 166.9L316.52 129L316.9 164.1L317.28 133.8L317.66 166.2L318.04 145.3L318.31 149.4L319.71 322L320.09 285.6L320.47 319.6L320.85 287L321.23 310.9L321.61 286.5L322.03 301.7L323.43 129.5L323.81 164.2L324.19 129L324.57 164.9L324.95 133.8L325.33 165.3L325.71 145.3L325.98 149.4L327.38 322L327.76 286.5L328.14 319.6L328.52 287.8L328.9 310.9L329.28 287.6L329.7 301.7L331.1 131L331.48 164.4L331.86 129L332.24 167.8L332.62 133.8L333 167.7L333.38 145.3L333.65 149.4L335.05 322L335.43 285.2L335.81 319.6L336.19 287.3L336.57 310.9L336.95 285L337.38 301.7L338.77 131.2L339.15 165L339.54 129L339.92 165.7L340.3 133.8L340.68 164.9L341.06 145.3L341.32 149.4L342.72 322L343.1 287L343.49 319.6L343.87 286L344.25 310.9L344.62 286.7L345.05 301.7L346.45 129.9L346.83 166L347.21 129L347.59 165.7L347.97 133.8L348.35 166.9L348.73 145.3L349 149.4L350.4 322L350.78 285.4L351.16 319.6L351.54 287.9L351.92 310.9L352.3 284.2L352.72 301.7L354.12 131.1L354.5 167.1L354.88 129L355.26 164.5L355.64 133.8L356.02 166.8L356.4 145.3L356.67 149.4L358.07 322L358.45 285L358.83 319.6L359.21 286.7L359.59 310.9L359.97 287.5L360.39 301.7L361.79 129L362.17 166.5L362.55 129L362.93 167L363.31 133.8L363.69 166.5L364.07 145.3L364.34 149.4L365.74 322L366.12 285.2L366.5 319.6L366.88 285.6L367.26 310.9L367.64 284.9L368.07 301.7L369.47 130.5L369.85 165.2L370.23 129L370.61 166L370.99 133.8L371.37 167.2L371.75 145.3L372.02 149.4L373.42 322L373.8 284.4L374.18 319.6L374.56 285.7L374.94 310.9L375.32 286.3L375.74 301.7L377.14 130.5L377.52 165L377.9 129L378.28 165.5L378.66 133.8L379.04 165.7L379.42 145.3L379.69 149.4L381.09 322L381.47 284.4L381.85 319.6L382.23 287.5L382.61 310.9L382.99 285.8L383.41 301.7L384.81 129L385.19 164.7L385.57 129L385.95 166.2L386.33 133.8L386.71 164.2L387.09 145.3L387.36 149.4L388.76 322L389.14 285.5L389.52 319.6L389.9 284.6L390.28 310.9L390.66 287.7L391.09 301.7L392.49 129.5L392.87 166.2L393.25 129L393.63 166.4L394.01 133.8L394.39 165.9L394.77 145.3L395.04 149.4L396.44 322L396.82 288L397.2 319.6L397.58 285.8L397.96 310.9L398.34 284.5L398.76 301.7L400.16 131.4L400.54 166.4L400.92 129L401.3 164.4L401.68 133.8L402.06 165.8L402.44 145.3L402.71 149.4L404.11 322L404.49 285L404.87 319.6L405.25 285.3L405.63 310.9L406.01 285.7L406.43 301.7L407.83 130.2L408.21 166.6L408.59 129L408.97 165L409.35 133.8L409.73 167.4L410.11 145.3L410.38 149.4L411.78 322L412.16 285.6L412.54 319.6L412.92 286.3L413.3 310.9L413.68 287.8L414.11 301.7L415.5 129.8L415.88 167.3L416.27 129L416.65 165.3L417.03 133.8L417.41 166.4L417.79 145.3L418.06 149.4L419.45 322L419.83 284.7L420.22 319.6L420.6 287.2L420.98 310.9L421.36 287.1L421.78 301.7L423.18 130.2L423.56 166.2L423.94 129L424.32 164.6L424.7 133.8L425.08 166L425.46 145.3L425.73 149.4L427.13 322L427.51 286.8L427.89 319.6L428.27 288L428.65 310.9L429.03 287.9L429.45 301.7L430.85 131.6L431.23 164.7L431.61 129L431.99 165.6L432.37 133.8L432.75 164L433.13 145.3L433.4 149.4L434.8 322L435.18 285.9L435.56 319.6L435.94 287.3L436.32 310.9L436.7 285.7L437.12 301.7L438.52 129.7L438.9 167.5L439.28 129L439.66 167.4L440.04 133.8L440.42 164.1L440.8 145.3L441.07 149.4L442.47 322L442.85 286.9L443.23 319.6L443.61 286.3L443.99 310.9L444.37 284.5L444.8 301.7L446.2 131.9L446.58 166.9L446.96 129L447.34 166.3L447.72 133.8L448.1 165.3L448.48 145.3L448.75 149.4L450.15 322L450.53 284.5L450.91 319.6L451.29 286.3L451.67 310.9L452.05 286.6L452.47 301.7L453.87 129L454.25 164.2L454.63 129L455.01 165.3L455.39 133.8L455.77 164.1L456.15 145.3L456.42 149.4L457.82 322L458.2 285L458.58 319.6L458.96 286.6L459.34 310.9L459.72 286.7L460.14 301.7L461.54 130.1L461.92 167.7L462.3 129L462.68 166.1L463.06 133.8L463.44 165.4L463.82 145.3L464.09 149.4L465.49 322L465.87 284.8L466.25 319.6L466.63 284.7L467.01 310.9L467.39 287.9L467.82 301.7L469.22 130.2L469.6 166.1L469.98 129L470.36 166.4L470.74 133.8L471.12 166L471.5 145.3L471.77 149.4L473.17 322L473.55 286.7L473.93 319.6L474.31 285.1L474.69 310.9L475.07 286L475.49 301.7L476.89 129.7L477.27 164.6L477.65 129L478.03 165.7L478.41 133.8L478.79 165L479.17 145.3L479.44 149.4L480.84 322L481.22 286.8L481.6 319.6L481.98 284.4L482.36 310.9L482.74 286.1L483.16 301.7L484.56 130.9L484.94 165L485.32 129L485.7 167.1L486.08 133.8L486.46 167.6L486.84 145.3L487.11 149.4L488.51 322L488.89 286.9L489.27 319.6L489.65 287.9L490.03 310.9L490.41 287.4L490.84 301.7L492.24 130.3L492.62 165.1L493 129L493.38 167.4L493.76 133.8L494.14 164.8L494.52 145.3L494.79 149.4L496.19 322L496.56 287.2L496.95 319.6L497.33 286.8L497.71 310.9L498.09 286.8L498.51 301.7L499.91 131.7L500.29 167L500.67 129L501.05 167.3L501.43 133.8L501.81 166.6L502.19 145.3L502.46 149.4L503.86 322L504.24 287.2L504.62 319.6L505 287.5L505.38 310.9L505.76 285.6L506.18 301.7L507.58 131.3L507.96 165.8L508.34 129L508.72 164.1L509.1 133.8L509.48 165.5L509.86 145.3L510.13 149.4L511.53 322L511.91 284.9L512.29 319.6L512.67 285.8L513.05 310.9L513.43 284.8L513.85 301.7L515.25 129.7L515.63 165.6L516.01 129L516.39 164.6L516.77 133.8L517.15 165.7L517.53 145.3L517.8 149.4L519.2 322L519.58 286L519.96 319.6L520.34 284.5L520.72 310.9L521.1 285.3L521.53 301.7L522.93 130.3L523.31 167.6L523.69 129L524.07 166.2L524.45 133.8L524.83 167.5L525.21 145.3L525.48 149.4L526.88 322L527.26 285.8L527.64 319.6L528.02 286.3L528.4 310.9L528.78 286.1L529.2 301.7L530.6 131.9L530.98 165L531.36 129L531.74 165.4L532.12 133.8L532.5 167L532.88 145.3L533.15 149.4L534.55 322L534.93 287.4L535.31 319.6L535.69 287.8L536.07 310.9L536.45 287.4L536.87 301.7L538.27 130.5L538.65 167.2L539.03 129L539.41 165.1L539.79 133.8L540.17 166.6L540.55 145.3L540.82 149.4L542.22 322L542.6 286.7L542.98 319.6L543.36 285.2L543.74 310.9L544.12 287.8L544.55 301.7L545.95 129L546.33 165.7L546.71 129L547.09 164.7L547.47 133.8L547.85 166L548.23 145.3L548.5 149.4L549.9 322L550.28 287.5L550.66 319.6L551.04 287.5L551.42 310.9L551.8 284.3L552.22 301.7L553.62 130L554 164.2L554.38 129L554.76 165.8L555.14 133.8L555.52 167.3L555.9 145.3L556.17 149.4L557.57 322L557.95 285.7L558.33 319.6L558.71 287L559.09 310.9L559.47 286.3L559.89 301.7L561.29 130.2L561.67 166.5L562.05 129L562.43 165.9L562.81 133.8L563.19 166.5L563.57 145.3L563.84 149.4L565.24 322L565.62 286.4L566 319.6L566.38 287.7L566.76 310.9L567.14 286L567.57 301.7L568.97 129.4L569.35 164.9L569.73 129L570.11 164.9L570.49 133.8L570.87 166.8L571.25 145.3L571.52 149.4L572.92 322L573.3 287.2L573.68 319.6L574.06 287L574.44 310.9L574.82 284.6L575.24 301.7L576.64 131.2L577.02 164.7L577.4 129L577.78 165.8L578.16 133.8L578.54 164.6L578.92 145.3L579.19 149.4L580.59 322L580.97 287.4L581.35 319.6L581.73 285.9L582.11 310.9L582.49 284.7L582.91 301.7L584.31 131.2L584.69 165.3L585.07 129L585.45 165.3L585.83 133.8L586.21 164.7L586.59 145.3L586.86 149.4L588.26 322L588.64 284.3L589.02 319.6L589.4 285.5L589.78 310.9L590.16 285.7L590.58 301.7L591.98 131.2L592.36 164.9L592.74 129L593.12 164L593.5 133.8L593.88 167.1L594.26 145.3L594.53 149.4L595.93 322L596.31 285.9L596.69 319.6L597.07 287.7L597.45 310.9L597.83 287.2L598.26 301.7L599.66 130.1L600.04 166.7L600.42 129L600.8 167.3L601.18 133.8L601.56 166.5L601.94 145.3L602.21 149.4L603.61 322L603.99 286.3L604.37 319.6L604.75 287.2L605.13 310.9L605.51 287.7L605.93 301.7L607.33 131L607.71 166.6L608.09 129L608.47 164.8L608.85 133.8L609.23 167.2L609.61 145.3L609.88 149.4L611.28 322L611.66 286.9L612.04 319.6L612.42 284.5L612.8 310.9L613.18 287.7L613.6 301.7L615 130.2L615.38 166.3L615.76 129L616.14 167.6L616.52 133.8L616.9 164.9L617.28 145.3L617.55 149.4L618.95 322L619.33 284.6L619.71 319.6L620.09 286.6L620.47 310.9L620.85 288.1L621.28 301.7L622.68 131.9L623.06 165.5L623.44 129L623.82 164.2L624.2 133.8L624.58 165.8L624.96 145.3L625.23 149.4L626.63 322L627.01 285.4L627.39 319.6L627.77 286L628.15 310.9L628.53 284.2L628.95 301.7L630.35 129.2L630.73 164.2L631.11 129L631.49 166.9L631.87 133.8L632.25 166.2L632.63 145.3L632.9 149.4L634.3 322L634.68 287.7L635.06 319.6L635.44 287.7L635.82 310.9L636.2 286L636.62 301.7L638.02 129.2L638.4 166.5L638.78 129L639.16 165L639.54 133.8L639.92 164.8L640.3 145.3L640.57 149.4L641.97 322L642.35 286.2L642.73 319.6L643.11 286.9L643.49 310.9L643.87 287.7L644.3 301.7L645.7 130.7L646.08 166.5L646.46 129L646.84 166.1L647.22 133.8L647.6 165.7L647.98 145.3L648.25 149.4L649.65 322L650.03 285.5L650.41 319.6L650.79 288L651.17 310.9L651.55 284.3L651.97 301.7L653.37 131.7L653.75 167.7L654.13 129L654.51 164.5L654.89 133.8L655.27 166.3L655.65 145.3L655.92 149.4L657.32 322L657.7 286.9L658.08 319.6L658.46 284.5L658.84 310.9L659.22 286.7L659.64 301.7L661.04 130.9L661.42 167L661.8 129L662.18 167L662.56 133.8L662.94 165.8L663.32 145.3L663.59 149.4L664.99 322L665.37 287.5L665.75 319.6L666.13 285.5L666.51 310.9L666.89 288L667.31 301.7L668.71 129.9L669.09 166.9L669.47 129L669.85 165.6L670.23 133.8L670.61 164.7L670.99 145.3L671.26 149.4L672.66 322L673.04 286.7L673.42 319.6L673.8 284.8L674.18 310.9L674.56 285.6L674.99 301.7L676.39 131.1L676.77 167.2L677.15 129L677.53 164.1L677.91 133.8L678.29 166.1L678.67 145.3L678.94 149.4L680.34 322L680.72 287.7L681.1 319.6L681.48 287.5L681.86 310.9L682.24 286.8L682.66 301.7L684.06 130.5L684.44 165.7L684.82 129L685.2 166.3L685.58 133.8L685.96 165.2L686.34 145.3L686.61 149.4L688.01 322L688.39 284.2L688.77 319.6L689.15 286.7L689.53 310.9L689.91 286.4L690.33 301.7L691.73 131.2L692.11 166.5L692.49 129L692.87 165.8L693.25 133.8L693.63 166.1L694.01 145.3L694.28 149.4L695.68 322L696.06 285.6L696.44 319.6L696.82 285.3L697.2 310.9L697.58 286.3L698.01 301.7L699.41 131.4L699.79 165.7L700.17 129L700.55 166.8L700.93 133.8L701.31 165L701.69 145.3L701.96 149.4L703.36 322L703.74 287.1L704.12 319.6L704.5 286.6L704.88 310.9L705.26 286L705.68 301.7L707.08 131.1L707.46 167.4L707.84 129L708.22 165.9L708.6 133.8L708.98 167.1L709.36 145.3L709.63 149.4L711.03 322L711.41 286.7L711.79 319.6L712.17 287L712.55 310.9L712.93 284.6L713.35 301.7L714.75 130.8L715.13 166.3L715.51 129L715.89 167.6L716.27 133.8L716.65 166.2L717.03 145.3L717.3 149.4L718.7 322L719.08 287L719.46 319.6L719.84 287.5L720.22 310.9L720.6 287.5L721.03 301.7L722.43 129.5L722.81 165.1L723.19 129L723.57 164.6L723.95 133.8L724.33 166.8L724.71 145.3L724.98 149.4L726.38 322L726.76 287.5L727.14 319.6L727.52 286.8L727.9 310.9L728.28 286.3L728.7 301.7L730.1 129.4L730.48 166.7L730.86 129L731.24 164L731.62 133.8L732 165.6L732.38 145.3L732.65 149.4L734.05 322L734.43 284.7L734.81 319.6L735.19 287.5L735.57 310.9L735.95 284.8L736.37 301.7L737.77 130L738.15 167.8L738.53 129L738.91 165L739.29 133.8L739.67 164.9L740.05 145.3L740.32 149.4L741.72 322L742.1 286.1L742.48 319.6L742.86 287.9L743.24 310.9L743.62 287.5L744.04 301.7L745.44 131.2L745.82 164.1L746.2 129L746.58 167.5L746.96 133.8L747.34 164.9L747.72 145.3L747.99 149.4L749.39 322L749.77 286.1L750.15 319.6L750.53 286.8L750.91 310.9L751.29 285.1L751.72 301.7L753.12 129.7L753.5 165.6L753.88 129L754.26 164.3L754.64 133.8L755.02 164.6L755.4 145.3L755.67 149.4L757.07 322L757.45 286.1L757.83 319.6L758.21 287.8L758.59 310.9L758.97 285.2L759.39 301.7L760.79 131.2L761.17 167.6L761.55 129L761.93 167.1L762.31 133.8L762.69 165.9L763.07 145.3L763.34 149.4L764.74 322L765.12 286.2L765.5 319.6L765.88 286.3L766.26 310.9L766.64 285.5L767.06 301.7L768.46 131.5L768.84 164L769.22 129L769.6 165.9L769.98 133.8L770.36 165.7L770.74 145.3L771.01 149.4L772.41 322L772.79 285.9L773.17 319.6L773.55 284.4L773.93 310.9L774.31 286.8L774.74 301.7L776.14 130.8L776.52 165.7L776.9 129L777.28 165.7L777.66 133.8L778.04 166.8L778.42 145.3L778.69 149.4L780.09 322L780.47 285L780.85 319.6L781.23 286.8L781.61 310.9L781.99 287.3L782.41 301.7L783.81 129.4L784.19 165.4L784.57 129L784.95 165.3L785.33 133.8L785.71 167.3L786.09 145.3L786.36 149.4L787.76 322L788.14 287.9L788.52 319.6L788.9 286.5L789.28 310.9L789.66 284.4L790.08 301.7L791.48 130.6L791.86 166.4L792.24 129L792.62 165.7L793 133.8L793.38 165.1L793.76 145.3L794.03 149.4L795.43 322L795.81 284.4L796.19 319.6L796.57 287.9L796.95 310.9L797.33 285.4L797.76 301.7L799.16 131.4L799.54 163.9L799.92 129L800.3 164.6L800.68 133.8L801.06 164.2L801.44 145.3L801.71 149.4L803.11 322L803.49 286.9L803.87 319.6L804.25 285.9L804.63 310.9L805.01 286L805.43 301.7L806.83 131.1L807.21 167.3L807.59 129L807.97 166.4L808.35 133.8L808.73 166.9L809.11 145.3L809.38 149.4L810.78 322L811.16 284.4L811.54 319.6L811.92 285.4L812.3 310.9L812.68 286.3L813.1 301.7L814.5 131.2L814.88 165.2L815.26 129L815.64 166.1L816.02 133.8L816.4 164.5L816.78 145.3L817.05 149.4L818.45 322L818.83 287L819.21 319.6L819.59 285.6L819.97 310.9L820.35 287.9L820.77 301.7L822.17 131.6L822.55 166.2L822.93 129L823.31 165.6L823.69 133.8L824.07 166.9L824.45 145.3L824.72 149.4L826.12 322L826.5 284.5L826.88 319.6L827.26 286.5L827.64 310.9L828.02 286.5L828.45 301.7L829.85 131.4L830.23 167.4L830.61 129L830.99 166.5L831.37 133.8L831.75 164.9L832.13 145.3L832.4 149.4L833.8 322L834.18 285.9L834.56 319.6L834.94 284.9L835.32 310.9L835.7 286.7L836.12 301.7L837.52 131.6L837.9 165.6L838.28 129L838.66 166.9L839.04 133.8L839.42 167.3L839.8 145.3L840.07 149.4L841.47 322L841.85 287.9L842.23 319.6L842.61 287L842.99 310.9L843.37 284.8L843.79 301.7L845.19 130.8L845.57 165.8L845.95 129L846.33 165.8L846.71 133.8L847.09 164.1L847.47 145.3L847.74 149.4L849.14 322L849.52 284.5L849.9 319.6L850.28 285.3L850.66 310.9L851.04 284.9L851.47 301.7L852.87 130.9L853.25 167L853.63 129L854.01 167.7L854.39 133.8L854.77 166.9L855.15 145.3L855.42 149.4L856.82 322L857.2 285.4L857.58 319.6L857.96 285.9L858.34 310.9L858.72 284.9L859.14 301.7L860.54 129.7L860.92 166.2L861.3 129L861.68 165.1L862.06 133.8L862.44 165.5L862.82 145.3L863.09 149.4L864.49 322L864.87 284.7L865.25 319.6L865.63 284.5L866.01 310.9L866.39 286.7L866.81 301.7L868.21 130.8L868.59 167.4L868.97 129L869.35 166.1L869.73 133.8L870.11 164.2L870.49 145.3L870.76 149.4L872.16 322L872.54 284.6L872.92 319.6L873.3 284.3L873.68 310.9L874.06 287.3L874.49 301.7L875.89 130.9L876.27 164L876.65 129L877.03 164.2L877.41 133.8L877.79 166L878.17 145.3L878.44 149.4L879.84 322L880.22 287.9L880.6 319.6L880.98 284.7L881.36 310.9L881.74 288L882.16 301.7L883.56 129.3L883.94 164.2L884.32 129L884.7 166.2L885.08 133.8L885.46 165.4L885.84 145.3L886.11 149.4L887.51 322L887.89 287.4L888.27 319.6L888.65 286.1L889.03 310.9L889.41 286.7L889.83 301.7L891.23 131.1L891.61 164.4L891.99 129L892.37 164.1L892.75 133.8L893.13 165L893.51 145.3L893.78 149.4L895.18 322L895.56 285.4L895.94 319.6L896.32 286.4L896.7 310.9L897.08 286.8L897.5 301.7L898.9 130.1L899.28 165.4L899.66 129L900.04 165.9L900.42 133.8L900.8 167L901.18 145.3L901.45 149.4L902.85 322L903.23 287.7L903.61 319.6L903.99 284.8L904.37 310.9"/>
</g>
<g clip-path="url(#cb)" fill="none" stroke-width="1.39" stroke-linejoin="round">
<path stroke="#E24A33" d="M138 475.5H140.08V486.9H143.75V475.5H147.75V486.9H151.42V475.5H155.42V486.9H159.1V475.5H163.1V486.9H166.77V475.5H170.77V486.9H174.44V475.5H178.44V486.9H182.12V475.5H186.12V486.9H189.79V475.5H193.79V486.9H197.46V475.5H201.46V486.9H205.13V475.5H209.13V486.9H212.81V475.5H216.81V486.9H220.48V475.5H224.48V486.9H228.15V475.5H232.15V486.9H235.83V475.5H239.83V486.9H243.5V475.5H247.5V486.9H251.17V475.5H255.17V486.9H258.85V475.5H262.85V486.9H266.52V475.5H270.52V486.9H274.19V475.5H278.19V486.9H281.86V475.5H285.86V486.9H289.54V475.5H293.54V486.9H297.21V475.5H301.21V486.9H304.88V475.5H308.88V486.9H312.56V475.5H316.56V486.9H320.23V475.5H324.23V486.9H327.9V475.5H331.9V486.9H335.57V475.5H339.57V486.9H343.25V475.5H347.25V486.9H350.92V475.5H354.92V486.9H358.59V475.5H362.59V486.9H366.27V475.5H370.27V486.9H373.94V475.5H377.94V486.9H381.61V475.5H385.61V486.9H389.29V475.5H393.29V486.9H396.96V475.5H400.96V486.9H404.63V475.5H408.63V486.9H412.31V475.5H416.31V486.9H419.98V475.5H423.98V486.9H427.65V475.5H431.65V486.9H435.32V475.5H439.32V486.9H443V475.5H447V486.9H450.67V475.5H454.67V486.9H458.34V475.5H462.34V486.9H466.02V475.5H470.02V486.9H473.69V475.5H477.69V486.9H481.36V475.5H485.36V486.9H489.04V475.5H493.04V486.9H496.71V475.5H500.71V486.9H504.38V475.5H508.38V486.9H512.05V475.5H516.05V486.9H519.73V475.5H523.73V486.9H527.4V475.5H531.4V486.9H535.07V475.5H539.07V486.9H542.75V475.5H546.75V486.9H550.42V475.5H554.42V486.9H558.09V475.5H562.09V486.9H565.76V475.5H569.76V486.9H573.44V475.5H577.44V486.9H581.11V475.5H585.11V486.9H588.78V475.5H592.78V486.9H596.46V475.5H600.46V486.9H604.13V475.5H608.13V486.9H611.8V475.5H615.8V486.9H619.48V475.5H623.48V486.9H627.15V475.5H631.15V486.9H634.82V475.5H638.82V486.9H642.5V475.5H646.5V486.9H650.17V475.5H654.17V486.9H657.84V475.5H661.84V486.9H665.51V475.5H669.51V486.9H673.19V475.5H677.19V486.9H680.86V475.5H684.86V486.9H688.53V475.5H692.53V486.9H696.21V475.5H700.21V486.9H703.88V475.5H707.88V486.9H711.55V475.5H715.55V486.9H719.23V475.5H723.23V486.9H726.9V475.5H730.9V486.9H734.57V475.5H738.57V486.9H742.24V475.5H746.24V486.9H749.92V475.5H753.92V486.9H757.59V475.5H761.59V486.9H765.26V475.5H769.26V486.9H772.94V475.5H776.94V486.9H780.61V475.5H784.61V486.9H788.28V475.5H792.28V486.9H795.96V475.5H799.96V486.9H803.63V475.5H807.63V486.9H811.3V475.5H815.3V486.9H818.97V475.5H822.97V486.9H826.65V475.5H830.65V486.9H834.32V475.5H838.32V486.9H841.99V475.5H845.99V486.9H849.67V475.5H853.67V486.9H857.34V475.5H861.34V486.9H865.01V475.5H869.01V486.9H872.69V475.5H876.69V486.9H880.36V475.5H884.36V486.9H888.03V475.5H892.03V486.9H895.7V475.5H899.7V486.9H903.38V475.5H906"/>
<path stroke="#348ABD" d="M138 488.3H141.49V499.7H145.1V488.3H149.16V499.7H152.77V488.3H156.83V499.7H160.45V488.3H164.51V499.7H168.12V488.3H172.18V499.7H175.79V488.3H179.85V499.7H183.47V488.3H187.53V499.7H191.14V488.3H195.2V499.7H198.81V488.3H202.87V499.7H206.48V488.3H210.54V499.7H214.71M213.61 488.3H218.22V499.7H221.83V488.3H225.89V499.7H229.5V488.3H233.56V499.7H237.18V488.3H241.24V499.7H244.85V488.3H248.91V499.7H252.52V488.3H256.58V499.7H260.19V488.3H264.25V499.7H267.87V488.3H271.93V499.7H275.54V488.3H279.6V499.7H283.21V488.3H287.27V499.7H291.44M290.34 488.3H294.95V499.7H298.56V488.3H302.62V499.7H306.23V488.3H310.29V499.7H313.91V488.3H317.97V499.7H321.58V488.3H325.64V499.7H329.25V488.3H333.31V499.7H336.92V488.3H340.98V499.7H344.6V488.3H348.66V499.7H352.27V488.3H356.33V499.7H359.94V488.3H364V499.7H368.17M367.07 488.3H371.68V499.7H375.29V488.3H379.35V499.7H382.96V488.3H387.02V499.7H390.64V488.3H394.7V499.7H398.31V488.3H402.37V499.7H405.98V488.3H410.04V499.7H413.65V488.3H417.71V499.7H421.33V488.3H425.39V499.7H429V488.3H433.06V499.7H436.67V488.3H440.73V499.7H444.9M443.8 488.3H448.41V499.7H452.02V488.3H456.08V499.7H459.69V488.3H463.75V499.7H467.37V488.3H471.43V499.7H475.04V488.3H479.1V499.7H482.71V488.3H486.77V499.7H490.38V488.3H494.44V499.7H498.06V488.3H502.12V499.7H505.73V488.3H509.79V499.7H513.4V488.3H517.46V499.7H521.63M520.53 488.3H525.14V499.7H528.75V488.3H532.81V499.7H536.42V488.3H540.48V499.7H544.1V488.3H548.16V499.7H551.77V488.3H555.83V499.7H559.44V488.3H563.5V499.7H567.12V488.3H571.17V499.7H574.79V488.3H578.85V499.7H582.46V488.3H586.52V499.7H590.13V488.3H594.19V499.7H598.36M597.26 488.3H601.87V499.7H605.48V488.3H609.54V499.7H613.15V488.3H617.21V499.7H620.83V488.3H624.89V499.7H628.5V488.3H632.56V499.7H636.17V488.3H640.23V499.7H643.85V488.3H647.9V499.7H651.52V488.3H655.58V499.7H659.19V488.3H663.25V499.7H666.86V488.3H670.92V499.7H675.09M673.99 488.3H678.6V499.7H682.21V488.3H686.27V499.7H689.88V488.3H693.94V499.7H697.56V488.3H701.62V499.7H705.23V488.3H709.29V499.7H712.9V488.3H716.96V499.7H720.58V488.3H724.63V499.7H728.25V488.3H732.31V499.7H735.92V488.3H739.98V499.7H743.59V488.3H747.65V499.7H751.82M750.72 488.3H755.33V499.7H758.94V488.3H763V499.7H766.61V488.3H770.67V499.7H774.29V488.3H778.35V499.7H781.96V488.3H786.02V499.7H789.63V488.3H793.69V499.7H797.31V488.3H801.37V499.7H804.98V488.3H809.04V499.7H812.65V488.3H816.71V499.7H820.32V488.3H824.38V499.7H828.55M827.45 488.3H832.06V499.7H835.67V488.3H839.73V499.7H843.34V488.3H847.4V499.7H851.02V488.3H855.08V499.7H858.69V488.3H862.75V499.7H866.36V488.3H870.42V499.7H874.04V488.3H878.1V499.7H881.71V488.3H885.77V499.7H889.38V488.3H893.44V499.7H897.05V488.3H901.11V499.7H905.28M904.18 488.3H906"/>
<path stroke="#988ED5" d="M138 512.5H906"/>
<path stroke="#777777" d="M138 513.9H140.63V525.3H144.25V513.9H148.3V525.3H151.92V513.9H155.97V525.3H159.6V513.9H163.65V525.3H167.27V513.9H171.32V525.3H174.94V513.9H178.99V525.3H182.62V513.9H186.67V525.3H190.29V513.9H194.34V525.3H197.96V513.9H202.01V525.3H205.63V513.9H209.68V525.3H213.31V513.9H217.36V525.3H220.98V513.9H225.03V525.3H228.65V513.9H232.7V525.3H236.33V513.9H240.38V525.3H244V513.9H248.05V525.3H251.67V513.9H255.72V525.3H259.35V513.9H263.4V525.3H267.02V513.9H271.07V525.3H274.69V513.9H278.74V525.3H282.36V513.9H286.41V525.3H290.04V513.9H294.09V525.3H297.71V513.9H301.76V525.3H305.38V513.9H309.43V525.3H313.06V513.9H317.11V525.3H320.73V513.9H324.78V525.3H328.4V513.9H332.45V525.3H336.07V513.9H340.12V525.3H343.75V513.9H347.8V525.3H351.42V513.9H355.47V525.3H359.09V513.9H363.14V525.3H366.77V513.9H370.82V525.3H374.44V513.9H378.49V525.3H382.11V513.9H386.16V525.3H389.79V513.9H393.84V525.3H397.46V513.9H401.51V525.3H405.13V513.9H409.18V525.3H412.81V513.9H416.86V525.3H420.48V513.9H424.53V525.3H428.15V513.9H432.2V525.3H435.82V513.9H439.87V525.3H443.5V513.9H447.55V525.3H451.17V513.9H455.22V525.3H458.84V513.9H462.89V525.3H466.52V513.9H470.57V525.3H474.19V513.9H478.24V525.3H481.86V513.9H485.91V525.3H489.54V513.9H493.59V525.3H497.21V513.9H501.26V525.3H504.88V513.9H508.93V525.3H512.55V513.9H516.6V525.3H520.23V513.9H524.28V525.3H527.9V513.9H531.95V525.3H535.57V513.9H539.62V525.3H543.25V513.9H547.3V525.3H550.92V513.9H554.97V525.3H558.59V513.9H562.64V525.3H566.26V513.9H570.31V525.3H573.94V513.9H577.99V525.3H581.61V513.9H585.66V525.3H589.28V513.9H593.33V525.3H596.96V513.9H601.01V525.3H604.63V513.9H608.68V525.3H612.3V513.9H616.35V525.3H619.98V513.9H624.03V525.3H627.65V513.9H631.7V525.3H635.32V513.9H639.37V525.3H643V513.9H647.04V525.3H650.67V513.9H654.72V525.3H658.34V513.9H662.39V525.3H666.01V513.9H670.06V525.3H673.69V513.9H677.74V525.3H681.36V513.9H685.41V525.3H689.03V513.9H693.08V525.3H696.71V513.9H700.76V525.3H704.38V513.9H708.43V525.3H712.05V513.9H716.1V525.3H719.73V513.9H723.77V525.3H727.4V513.9H731.45V525.3H735.07V513.9H739.12V525.3H742.74V513.9H746.79V525.3H750.42V513.9H754.47V525.3H758.09V513.9H762.14V525.3H765.76V513.9H769.81V525.3H773.44V513.9H777.49V525.3H781.11V513.9H785.16V525.3H788.78V513.9H792.83V525.3H796.46V513.9H800.5V525.3H804.13V513.9H808.18V525.3H811.8V513.9H815.85V525.3H819.47V513.9H823.52V525.3H827.15V513.9H831.2V525.3H834.82V513.9H838.87V525.3H842.49V513.9H846.54V525.3H850.17V513.9H854.22V525.3H857.84V513.9H861.89V525.3H865.51V513.9H869.56V525.3H873.19V513.9H877.24V525.3H880.86V513.9H884.91V525.3H888.53V513.9H892.58V525.3H896.2V513.9H900.25V525.3H903.88V513.9H906"/>
<path stroke="#FBC15E" d="M138 526.7H140.28V538.1H143.9V526.7H147.95V538.1H151.57V526.7H155.62V538.1H159.25V526.7H163.3V538.1H166.92V526.7H170.97V538.1H174.59V526.7H178.64V538.1H182.27V526.7H186.32V538.1H189.94V526.7H193.99V538.1H197.61V526.7H201.66V538.1H205.28V526.7H209.33V538.1H212.96V526.7H217.01V538.1H220.63V526.7H224.68V538.1H228.3V526.7H232.35V538.1H235.98V526.7H240.03V538.1H243.65V526.7H247.7V538.1H251.32V526.7H255.37V538.1H259V526.7H263.05V538.1H266.67V526.7H270.72V538.1H274.34V526.7H278.39V538.1H282.01V526.7H286.06V538.1H289.69V526.7H293.74V538.1H297.36V526.7H301.41V538.1H305.03V526.7H309.08V538.1H312.71V526.7H316.76V538.1H320.38V526.7H324.43V538.1H328.05V526.7H332.1V538.1H335.73V526.7H339.78V538.1H343.4V526.7H347.45V538.1H351.07V526.7H355.12V538.1H358.74V526.7H362.79V538.1H366.42V526.7H370.47V538.1H374.09V526.7H378.14V538.1H381.76V526.7H385.81V538.1H389.44V526.7H393.49V538.1H397.11V526.7H401.16V538.1H404.78V526.7H408.83V538.1H412.46V526.7H416.51V538.1H420.13V526.7H424.18V538.1H427.8V526.7H431.85V538.1H435.47V526.7H439.52V538.1H443.15V526.7H447.2V538.1H450.82V526.7H454.87V538.1H458.49V526.7H462.54V538.1H466.17V526.7H470.22V538.1H473.84V526.7H477.89V538.1H481.51V526.7H485.56V538.1H489.19V526.7H493.24V538.1H496.86V526.7H500.91V538.1H504.53V526.7H508.58V538.1H512.2V526.7H516.25V538.1H519.88V526.7H523.93V538.1H527.55V526.7H531.6V538.1H535.22V526.7H539.27V538.1H542.9V526.7H546.95V538.1H550.57V526.7H554.62V538.1H558.24V526.7H562.29V538.1H565.91V526.7H569.96V538.1H573.59V526.7H577.64V538.1H581.26V526.7H585.31V538.1H588.93V526.7H592.98V538.1H596.61V526.7H600.66V538.1H604.28V526.7H608.33V538.1H611.95V526.7H616V538.1H619.63V526.7H623.68V538.1H627.3V526.7H631.35V538.1H634.97V526.7H639.02V538.1H642.64V526.7H646.69V538.1H650.32V526.7H654.37V538.1H657.99V526.7H662.04V538.1H665.66V526.7H669.71V538.1H673.34V526.7H677.39V538.1H681.01V526.7H685.06V538.1H688.68V526.7H692.73V538.1H696.36V526.7H700.41V538.1H704.03V526.7H708.08V538.1H711.7V526.7H715.75V538.1H719.38V526.7H723.42V538.1H727.05V526.7H731.1V538.1H734.72V526.7H738.77V538.1H742.39V526.7H746.44V538.1H750.07V526.7H754.12V538.1H757.74V526.7H761.79V538.1H765.41V526.7H769.46V538.1H773.09V526.7H777.14V538.1H780.76V526.7H784.81V538.1H788.43V526.7H792.48V538.1H796.11V526.7H800.15V538.1H803.78V526.7H807.83V538.1H811.45V526.7H815.5V538.1H819.12V526.7H823.17V538.1H826.8V526.7H830.85V538.1H834.47V526.7H838.52V538.1H842.14V526.7H846.19V538.1H849.82V526.7H853.87V538.1H857.49V526.7H861.54V538.1H865.16V526.7H869.21V538.1H872.84V526.7H876.88V538.1H880.51V526.7H884.56V538.1H888.18V526.7H892.23V538.1H895.85V526.7H899.9V538.1H903.53V526.7H906"/>
<path stroke="#8EBA42" d="M138 539.5H140.58V550.9H144.2V539.5H148.25V550.9H151.87V539.5H155.92V550.9H159.55V539.5H163.6V550.9H167.22V539.5H171.27V550.9H174.89V539.5H178.94V550.9H182.56V539.5H186.62V550.9H190.24V539.5H194.29V550.9H197.91V539.5H201.96V550.9H205.58V539.5H209.63V550.9H213.26V539.5H217.31V550.9H220.93V539.5H224.98V550.9H228.6V539.5H232.65V550.9H236.28V539.5H240.33V550.9H243.95V539.5H248V550.9H251.62V539.5H255.67V550.9H259.29V539.5H263.34V550.9H266.97V539.5H271.02V550.9H274.64V539.5H278.69V550.9H282.31V539.5H286.36V550.9H289.99V539.5H294.04V550.9H297.66V539.5H301.71V550.9H305.33V539.5H309.38V550.9H313.01V539.5H317.06V550.9H320.68V539.5H324.73V550.9H328.35V539.5H332.4V550.9H336.02V539.5H340.07V550.9H343.7V539.5H347.75V550.9H351.37V539.5H355.42V550.9H359.04V539.5H363.09V550.9H366.72V539.5H370.77V550.9H374.39V539.5H378.44V550.9H382.06V539.5H386.11V550.9H389.74V539.5H393.79V550.9H397.41V539.5H401.46V550.9H405.08V539.5H409.13V550.9H412.75V539.5H416.81V550.9H420.43V539.5H424.48V550.9H428.1V539.5H432.15V550.9H435.77V539.5H439.82V550.9H443.45V539.5H447.5V550.9H451.12V539.5H455.17V550.9H458.79V539.5H462.84V550.9H466.47V539.5H470.52V550.9H474.14V539.5H478.19V550.9H481.81V539.5H485.86V550.9H489.49V539.5H493.54V550.9H497.16V539.5H501.21V550.9H504.83V539.5H508.88V550.9H512.5V539.5H516.55V550.9H520.18V539.5H524.23V550.9H527.85V539.5H531.9V550.9H535.52V539.5H539.57V550.9H543.2V539.5H547.25V550.9H550.87V539.5H554.92V550.9H558.54V539.5H562.59V550.9H566.21V539.5H570.26V550.9H573.89V539.5H577.94V550.9H581.56V539.5H585.61V550.9H589.23V539.5H593.28V550.9H596.91V539.5H600.96V550.9H604.58V539.5H608.63V550.9H612.25V539.5H616.3V550.9H619.93V539.5H623.98V550.9H627.6V539.5H631.65V550.9H635.27V539.5H639.32V550.9H642.94V539.5H646.99V550.9H650.62V539.5H654.67V550.9H658.29V539.5H662.34V550.9H665.96V539.5H670.01V550.9H673.64V539.5H677.69V550.9H681.31V539.5H685.36V550.9H688.98V539.5H693.03V550.9H696.66V539.5H700.71V550.9H704.33V539.5H708.38V550.9H712V539.5H716.05V550.9H719.67V539.5H723.72V550.9H727.35V539.5H731.4V550.9H735.02V539.5H739.07V550.9H742.69V539.5H746.74V550.9H750.37V539.5H754.42V550.9H758.04V539.5H762.09V550.9H765.71V539.5H769.76V550.9H773.39V539.5H777.44V550.9H781.06V539.5H785.11V550.9H788.73V539.5H792.78V550.9H796.4V539.5H800.45V550.9H804.08V539.5H808.13V550.9H811.75V539.5H815.8V550.9H819.42V539.5H823.47V550.9H827.1V539.5H831.15V550.9H834.77V539.5H838.82V550.9H842.44V539.5H846.49V550.9H850.12V539.5H854.17V550.9H857.79V539.5H861.84V550.9H865.46V539.5H869.51V550.9H873.13V539.5H877.18V550.9H880.81V539.5H884.86V550.9H888.48V539.5H892.53V550.9H896.15V539.5H900.2V550.9H903.83V539.5H906"/>
<path stroke="#FFB5B8" d="M138 552.4H140.38V563.7H144V552.4H148.05V563.7H151.67V552.4H155.72V563.7H159.35V552.4H163.4V563.7H167.02V552.4H171.07V563.7H174.69V552.4H178.74V563.7H182.37V552.4H186.42V563.7H190.04V552.4H194.09V563.7H197.71V552.4H201.76V563.7H205.38V552.4H209.43V563.7H213.06V552.4H217.11V563.7H220.73V552.4H224.78V563.7H228.4V552.4H232.45V563.7H236.08V552.4H240.13V563.7H243.75V552.4H247.8V563.7H251.42V552.4H255.47V563.7H259.1V552.4H263.15V563.7H266.77V552.4H270.82V563.7H274.44V552.4H278.49V563.7H282.11V552.4H286.16V563.7H289.79V552.4H293.84V563.7H297.46V552.4H301.51V563.7H305.13V552.4H309.18V563.7H312.81V552.4H316.86V563.7H320.48V552.4H324.53V563.7H328.15V552.4H332.2V563.7H335.82V552.4H339.88V563.7H343.5V552.4H347.55V563.7H351.17V552.4H355.22V563.7H358.84V552.4H362.89V563.7H366.52V552.4H370.57V563.7H374.19V552.4H378.24V563.7H381.86V552.4H385.91V563.7H389.54V552.4H393.59V563.7H397.21V552.4H401.26V563.7H404.88V552.4H408.93V563.7H412.56V552.4H416.61V563.7H420.23V552.4H424.28V563.7H427.9V552.4H431.95V563.7H435.57V552.4H439.62V563.7H443.25V552.4H447.3V563.7H450.92V552.4H454.97V563.7H458.59V552.4H462.64V563.7H466.27V552.4H470.32V563.7H473.94V552.4H477.99V563.7H481.61V552.4H485.66V563.7H489.29V552.4H493.34V563.7H496.96V552.4H501.01V563.7H504.63V552.4H508.68V563.7H512.3V552.4H516.35V563.7H519.98V552.4H524.03V563.7H527.65V552.4H531.7V563.7H535.32V552.4H539.37V563.7H543V552.4H547.05V563.7H550.67V552.4H554.72V563.7H558.34V552.4H562.39V563.7H566.01V552.4H570.06V563.7H573.69V552.4H577.74V563.7H581.36V552.4H585.41V563.7H589.03V552.4H593.08V563.7H596.71V552.4H600.76V563.7H604.38V552.4H608.43V563.7H612.05V552.4H616.1V563.7H619.73V552.4H623.78V563.7H627.4V552.4H631.45V563.7H635.07V552.4H639.12V563.7H642.75V552.4H646.79V563.7H650.42V552.4H654.47V563.7H658.09V552.4H662.14V563.7H665.76V552.4H669.81V563.7H673.44V552.4H677.49V563.7H681.11V552.4H685.16V563.7H688.78V552.4H692.83V563.7H696.46V552.4H700.51V563.7H704.13V552.4H708.18V563.7H711.8V552.4H715.85V563.7H719.48V552.4H723.52V563.7H727.15V552.4H731.2V563.7H734.82V552.4H738.87V563.7H742.49V552.4H746.54V563.7H750.17V552.4H754.22V563.7H757.84V552.4H761.89V563.7H765.51V552.4H769.56V563.7H773.19V552.4H777.24V563.7H780.86V552.4H784.91V563.7H788.53V552.4H792.58V563.7H796.21V552.4H800.25V563.7H803.88V552.4H807.93V563.7H811.55V552.4H815.6V563.7H819.22V552.4H823.27V563.7H826.9V552.4H830.95V563.7H834.57V552.4H838.62V563.7H842.24V552.4H846.29V563.7H849.92V552.4H853.97V563.7H857.59V552.4H861.64V563.7H865.26V552.4H869.31V563.7H872.94V552.4H876.99V563.7H880.61V552.4H884.66V563.7H888.28V552.4H892.33V563.7H895.95V552.4H900V563.7H903.63V552.4H906"/>
<path stroke="#E24A33" d="M138 565.2H140.58V576.5H144.2V565.2H148.25V576.5H151.87V565.2H155.92V576.5H159.55V565.2H163.6V576.5H167.22V565.2H171.27V576.5H174.89V565.2H178.94V576.5H182.56V565.2H186.62V576.5H190.24V565.2H194.29V576.5H197.91V565.2H201.96V576.5H205.58V565.2H209.63V576.5H213.26V565.2H217.31V576.5H220.93V565.2H224.98V576.5H228.6V565.2H232.65V576.5H236.28V565.2H240.33V576.5H243.95V565.2H248V576.5H251.62V565.2H255.67V576.5H259.29V565.2H263.34V576.5H266.97V565.2H271.02V576.5H274.64V565.2H278.69V576.5H282.31V565.2H286.36V576.5H289.99V565.2H294.04V576.5H297.66V565.2H301.71V576.5H305.33V565.2H309.38V576.5H313.01V565.2H317.06V576.5H320.68V565.2H324.73V576.5H328.35V565.2H332.4V576.5H336.02V565.2H340.07V576.5H343.7V565.2H347.75V576.5H351.37V565.2H355.42V576.5H359.04V565.2H363.09V576.5H366.72V565.2H370.77V576.5H374.39V565.2H378.44V576.5H382.06V565.2H386.11V576.5H389.74V565.2H393.79V576.5H397.41V565.2H401.46V576.5H405.08V565.2H409.13V576.5H412.75V565.2H416.81V576.5H420.43V565.2H424.48V576.5H428.1V565.2H432.15V576.5H435.77V565.2H439.82V576.5H443.45V565.2H447.5V576.5H451.12V565.2H455.17V576.5H458.79V565.2H462.84V576.5H466.47V565.2H470.52V576.5H474.14V565.2H478.19V576.5H481.81V565.2H485.86V576.5H489.49V565.2H493.54V576.5H497.16V565.2H501.21V576.5H504.83V565.2H508.88V576.5H512.5V565.2H516.55V576.5H520.18V565.2H524.23V576.5H527.85V565.2H531.9V576.5H535.52V565.2H539.57V576.5H543.2V565.2H547.25V576.5H550.87V565.2H554.92V576.5H558.54V565.2H562.59V576.5H566.21V565.2H570.26V576.5H573.89V565.2H577.94V576.5H581.56V565.2H585.61V576.5H589.23V565.2H593.28V576.5H596.91V565.2H600.96V576.5H604.58V565.2H608.63V576.5H612.25V565.2H616.3V576.5H619.93V565.2H623.98V576.5H627.6V565.2H631.65V576.5H635.27V565.2H639.32V576.5H642.94V565.2H646.99V576.5H650.62V565.2H654.67V576.5H658.29V565.2H662.34V576.5H665.96V565.2H670.01V576.5H673.64V565.2H677.69V576.5H681.31V565.2H685.36V576.5H688.98V565.2H693.03V576.5H696.66V565.2H700.71V576.5H704.33V565.2H708.38V576.5H712V565.2H716.05V576.5H719.67V565.2H723.72V576.5H727.35V565.2H731.4V576.5H735.02V565.2H739.07V576.5H742.69V565.2H746.74V576.5H750.37V565.2H754.42V576.5H758.04V565.2H762.09V576.5H765.71V565.2H769.76V576.5H773.39V565.2H777.44V576.5H781.06V565.2H785.11V576.5H788.73V565.2H792.78V576.5H796.4V565.2H800.45V576.5H804.08V565.2H808.13V576.5H811.75V565.2H815.8V576.5H819.42V565.2H823.47V576.5H827.1V565.2H831.15V576.5H834.77V565.2H838.82V576.5H842.44V565.2H846.49V576.5H850.12V565.2H854.17V576.5H857.79V565.2H861.84V576.5H865.46V565.2H869.51V576.5H873.13V565.2H877.18V576.5H880.81V565.2H884.86V576.5H888.48V565.2H892.53V576.5H896.15V565.2H900.2V576.5H903.83V565.2H906"/>
<path stroke="#348ABD" d="M138 578H140.48V589.3H144.1V578H148.15V589.3H151.77V578H155.82V589.3H159.45V578H163.5V589.3H167.12V578H171.17V589.3H174.79V578H178.84V589.3H182.47V578H186.52V589.3H190.14V578H194.19V589.3H197.81V578H201.86V589.3H205.48V578H209.53V589.3H213.16V578H217.21V589.3H220.83V578H224.88V589.3H228.5V578H232.55V589.3H236.18V578H240.23V589.3H243.85V578H247.9V589.3H251.52V578H255.57V589.3H259.19V578H263.25V589.3H266.87V578H270.92V589.3H274.54V578H278.59V589.3H282.21V578H286.26V589.3H289.89V578H293.94V589.3H297.56V578H301.61V589.3H305.23V578H309.28V589.3H312.91V578H316.96V589.3H320.58V578H324.63V589.3H328.25V578H332.3V589.3H335.92V578H339.97V589.3H343.6V578H347.65V589.3H351.27V578H355.32V589.3H358.94V578H362.99V589.3H366.62V578H370.67V589.3H374.29V578H378.34V589.3H381.96V578H386.01V589.3H389.64V578H393.69V589.3H397.31V578H401.36V589.3H404.98V578H409.03V589.3H412.65V578H416.7V589.3H420.33V578H424.38V589.3H428V578H432.05V589.3H435.67V578H439.72V589.3H443.35V578H447.4V589.3H451.02V578H455.07V589.3H458.69V578H462.74V589.3H466.37V578H470.42V589.3H474.04V578H478.09V589.3H481.71V578H485.76V589.3H489.38V578H493.44V589.3H497.06V578H501.11V589.3H504.73V578H508.78V589.3H512.4V578H516.45V589.3H520.08V578H524.13V589.3H527.75V578H531.8V589.3H535.42V578H539.47V589.3H543.1V578H547.15V589.3H550.77V578H554.82V589.3H558.44V578H562.49V589.3H566.12V578H570.16V589.3H573.79V578H577.84V589.3H581.46V578H585.51V589.3H589.13V578H593.18V589.3H596.81V578H600.86V589.3H604.48V578H608.53V589.3H612.15V578H616.2V589.3H619.83V578H623.88V589.3H627.5V578H631.55V589.3H635.17V578H639.22V589.3H642.85V578H646.89V589.3H650.52V578H654.57V589.3H658.19V578H662.24V589.3H665.86V578H669.91V589.3H673.54V578H677.59V589.3H681.21V578H685.26V589.3H688.88V578H692.93V589.3H696.56V578H700.61V589.3H704.23V578H708.28V589.3H711.9V578H715.95V589.3H719.58V578H723.62V589.3H727.25V578H731.3V589.3H734.92V578H738.97V589.3H742.59V578H746.64V589.3H750.27V578H754.32V589.3H757.94V578H761.99V589.3H765.61V578H769.66V589.3H773.29V578H777.34V589.3H780.96V578H785.01V589.3H788.63V578H792.68V589.3H796.31V578H800.36V589.3H803.98V578H808.03V589.3H811.65V578H815.7V589.3H819.32V578H823.37V589.3H827V578H831.05V589.3H834.67V578H838.72V589.3H842.34V578H846.39V589.3H850.02V578H854.07V589.3H857.69V578H861.74V589.3H865.36V578H869.41V589.3H873.04V578H877.09V589.3H880.71V578H884.76V589.3H888.38V578H892.43V589.3H896.05V578H900.1V589.3H903.73V578H906"/>
<path stroke="#988ED5" d="M138 590.8H142.33V602.1H145.9V590.8H150V602.1H153.57V590.8H157.67V602.1H161.25V590.8H165.35V602.1H168.92V590.8H173.02V602.1H176.59V590.8H180.69V602.1H184.27V590.8H188.37V602.1H191.94V590.8H196.04V602.1H199.61V590.8H203.71V602.1H207.28V590.8H211.38V602.1H214.96V590.8H219.06V602.1H222.63V590.8H226.73V602.1H230.3V590.8H234.4V602.1H237.98V590.8H242.08V602.1H245.65V590.8H249.75V602.1H253.32V590.8H257.42V602.1H261V590.8H265.1V602.1H268.67V590.8H272.77V602.1H276.34V590.8H280.44V602.1H284.01V590.8H288.11V602.1H291.69V590.8H295.79V602.1H299.36V590.8H303.46V602.1H307.03V590.8H311.13V602.1H314.71V590.8H318.81V602.1H322.38V590.8H326.48V602.1H330.05V590.8H334.15V602.1H337.73V590.8H341.83V602.1H345.4V590.8H349.5V602.1H353.07V590.8H357.17V602.1H360.74V590.8H364.84V602.1H368.42V590.8H372.52V602.1H376.09V590.8H380.19V602.1H383.76V590.8H387.86V602.1H391.44V590.8H395.54V602.1H399.11V590.8H403.21V602.1H406.78V590.8H410.88V602.1H414.46V590.8H418.56V602.1H422.13V590.8H426.23V602.1H429.8V590.8H433.9V602.1H437.47V590.8H441.57V602.1H445.15V590.8H449.25V602.1H452.82V590.8H456.92V602.1H460.49V590.8H464.59V602.1H468.17V590.8H472.27V602.1H475.84V590.8H479.94V602.1H483.51V590.8H487.61V602.1H491.19V590.8H495.29V602.1H498.86V590.8H502.96V602.1H506.53V590.8H510.63V602.1H514.2V590.8H518.3V602.1H521.88V590.8H525.98V602.1H529.55V590.8H533.65V602.1H537.22V590.8H541.32V602.1H544.9V590.8H549V602.1H552.57V590.8H556.67V602.1H560.24V590.8H564.34V602.1H567.91V590.8H572.01V602.1H575.59V590.8H579.69V602.1H583.26V590.8H587.36V602.1H590.93V590.8H595.03V602.1H598.61V590.8H602.71V602.1H606.28V590.8H610.38V602.1H613.95V590.8H618.05V602.1H621.63V590.8H625.73V602.1H629.3V590.8H633.4V602.1H636.97V590.8H641.07V602.1H644.64V590.8H648.75V602.1H652.32V590.8H656.42V602.1H659.99V590.8H664.09V602.1H667.66V590.8H671.76V602.1H675.34V590.8H679.44V602.1H683.01V590.8H687.11V602.1H690.68V590.8H694.78V602.1H698.36V590.8H702.46V602.1H706.03V590.8H710.13V602.1H713.7V590.8H717.8V602.1H721.38V590.8H725.48V602.1H729.05V590.8H733.15V602.1H736.72V590.8H740.82V602.1H744.39V590.8H748.49V602.1H752.07V590.8H756.17V602.1H759.74V590.8H763.84V602.1H767.41V590.8H771.51V602.1H775.09V590.8H779.19V602.1H782.76V590.8H786.86V602.1H790.43V590.8H794.53V602.1H798.11V590.8H802.21V602.1H805.78V590.8H809.88V602.1H813.45V590.8H817.55V602.1H821.12V590.8H825.22V602.1H828.8V590.8H832.9V602.1H836.47V590.8H840.57V602.1H844.14V590.8H848.24V602.1H851.82V590.8H855.92V602.1H859.49V590.8H863.59V602.1H867.16V590.8H871.26V602.1H874.84V590.8H878.94V602.1H882.51V590.8H886.61V602.1H890.18V590.8H894.28V602.1H897.85V590.8H901.95V602.1H905.53V590.8H906"/>
<path stroke="#777777" d="M138 615H138.53V603.6H142.63V615H146.2V603.6H150.3V615H153.87V603.6H157.97V615H161.55V603.6H165.65V615H169.22V603.6H173.32V615H176.89V603.6H180.99V615H184.56V603.6H188.66V615H192.24V603.6H196.34V615H199.91V603.6H204.01V615H207.58V603.6H211.68V615H215.26V603.6H219.36V615H222.93V603.6H227.03V615H230.6V603.6H234.7V615H238.28V603.6H242.38V615H245.95V603.6H250.05V615H253.62V603.6H257.72V615H261.29V603.6H265.39V615H268.97V603.6H273.07V615H276.64V603.6H280.74V615H284.31V603.6H288.41V615H291.99V603.6H296.09V615H299.66V603.6H303.76V615H307.33V603.6H311.43V615H315.01V603.6H319.11V615H322.68V603.6H326.78V615H330.35V603.6H334.45V615H338.02V603.6H342.12V615H345.7V603.6H349.8V615H353.37V603.6H357.47V615H361.04V603.6H365.14V615H368.72V603.6H372.82V615H376.39V603.6H380.49V615H384.06V603.6H388.16V615H391.74V603.6H395.84V615H399.41V603.6H403.51V615H407.08V603.6H411.18V615H414.75V603.6H418.86V615H422.43V603.6H426.53V615H430.1V603.6H434.2V615H437.77V603.6H441.87V615H445.45V603.6H449.55V615H453.12V603.6H457.22V615H460.79V603.6H464.89V615H468.47V603.6H472.57V615H476.14V603.6H480.24V615H483.81V603.6H487.91V615H491.49V603.6H495.59V615H499.16V603.6H503.26V615H506.83V603.6H510.93V615H514.5V603.6H518.6V615H522.18V603.6H526.28V615H529.85V603.6H533.95V615H537.52V603.6H541.62V615H545.2V603.6H549.3V615H552.87V603.6H556.97V615H560.54V603.6H564.64V615H568.21V603.6H572.31V615H575.89V603.6H579.99V615H583.56V603.6H587.66V615H591.23V603.6H595.33V615H598.91V603.6H603.01V615H606.58V603.6H610.68V615H614.25V603.6H618.35V615H621.93V603.6H626.03V615H629.6V603.6H633.7V615H637.27V603.6H641.37V615H644.94V603.6H649.04V615H652.62V603.6H656.72V615H660.29V603.6H664.39V615H667.96V603.6H672.06V615H675.64V603.6H679.74V615H683.31V603.6H687.41V615H690.98V603.6H695.08V615H698.66V603.6H702.76V615H706.33V603.6H710.43V615H714V603.6H718.1V615H721.67V603.6H725.77V615H729.35V603.6H733.45V615H737.02V603.6H741.12V615H744.69V603.6H748.79V615H752.37V603.6H756.47V615H760.04V603.6H764.14V615H767.71V603.6H771.81V615H775.39V603.6H779.49V615H783.06V603.6H787.16V615H790.73V603.6H794.83V615H798.4V603.6H802.5V615H806.08V603.6H810.18V615H813.75V603.6H817.85V615H821.42V603.6H825.52V615H829.1V603.6H833.2V615H836.77V603.6H840.87V615H844.44V603.6H848.54V615H852.12V603.6H856.22V615H859.79V603.6H863.89V615H867.46V603.6H871.56V615H875.13V603.6H879.24V615H882.81V603.6H886.91V615H890.48V603.6H894.58V615H898.15V603.6H902.25V615H905.83V603.6H906"/>
<path stroke="#FBC15E" d="M138 616.4H142.43V627.8H146V616.4H150.1V627.8H153.67V616.4H157.77V627.8H161.35V616.4H165.45V627.8H169.02V616.4H173.12V627.8H176.69V616.4H180.79V627.8H184.37V616.4H188.47V627.8H192.04V616.4H196.14V627.8H199.71V616.4H203.81V627.8H207.38V616.4H211.48V627.8H215.06V616.4H219.16V627.8H222.73V616.4H226.83V627.8H230.4V616.4H234.5V627.8H238.08V616.4H242.18V627.8H245.75V616.4H249.85V627.8H253.42V616.4H257.52V627.8H261.1V616.4H265.2V627.8H268.77V616.4H272.87V627.8H276.44V616.4H280.54V627.8H284.11V616.4H288.21V627.8H291.79V616.4H295.89V627.8H299.46V616.4H303.56V627.8H307.13V616.4H311.23V627.8H314.81V616.4H318.91V627.8H322.48V616.4H326.58V627.8H330.15V616.4H334.25V627.8H337.82V616.4H341.93V627.8H345.5V616.4H349.6V627.8H353.17V616.4H357.27V627.8H360.84V616.4H364.94V627.8H368.52V616.4H372.62V627.8H376.19V616.4H380.29V627.8H383.86V616.4H387.96V627.8H391.54V616.4H395.64V627.8H399.21V616.4H403.31V627.8H406.88V616.4H410.98V627.8H414.56V616.4H418.66V627.8H422.23V616.4H426.33V627.8H429.9V616.4H434V627.8H437.57V616.4H441.67V627.8H445.25V616.4H449.35V627.8H452.92V616.4H457.02V627.8H460.59V616.4H464.69V627.8H468.27V616.4H472.37V627.8H475.94V616.4H480.04V627.8H483.61V616.4H487.71V627.8H491.29V616.4H495.39V627.8H498.96V616.4H503.06V627.8H506.63V616.4H510.73V627.8H514.3V616.4H518.4V627.8H521.98V616.4H526.08V627.8H529.65V616.4H533.75V627.8H537.32V616.4H541.42V627.8H545V616.4H549.1V627.8H552.67V616.4H556.77V627.8H560.34V616.4H564.44V627.8H568.01V616.4H572.12V627.8H575.69V616.4H579.79V627.8H583.36V616.4H587.46V627.8H591.03V616.4H595.13V627.8H598.71V616.4H602.81V627.8H606.38V616.4H610.48V627.8H614.05V616.4H618.15V627.8H621.73V616.4H625.83V627.8H629.4V616.4H633.5V627.8H637.07V616.4H641.17V627.8H644.75V616.4H648.85V627.8H652.42V616.4H656.52V627.8H660.09V616.4H664.19V627.8H667.76V616.4H671.86V627.8H675.44V616.4H679.54V627.8H683.11V616.4H687.21V627.8H690.78V616.4H694.88V627.8H698.46V616.4H702.56V627.8H706.13V616.4H710.23V627.8H713.8V616.4H717.9V627.8H721.48V616.4H725.58V627.8H729.15V616.4H733.25V627.8H736.82V616.4H740.92V627.8H744.49V616.4H748.59V627.8H752.17V616.4H756.27V627.8H759.84V616.4H763.94V627.8H767.51V616.4H771.61V627.8H775.19V616.4H779.29V627.8H782.86V616.4H786.96V627.8H790.53V616.4H794.63V627.8H798.21V616.4H802.31V627.8H805.88V616.4H809.98V627.8H813.55V616.4H817.65V627.8H821.22V616.4H825.32V627.8H828.9V616.4H833V627.8H836.57V616.4H840.67V627.8H844.24V616.4H848.34V627.8H851.92V616.4H856.02V627.8H859.59V616.4H863.69V627.8H867.26V616.4H871.36V627.8H874.94V616.4H879.04V627.8H882.61V616.4H886.71V627.8H890.28V616.4H894.38V627.8H897.95V616.4H902.05V627.8H905.63V616.4H906"/>
<path stroke="#8EBA42" d="M138 640.6H138.53V629.2H142.63V640.6H146.2V629.2H150.3V640.6H153.87V629.2H157.97V640.6H161.55V629.2H165.65V640.6H169.22V629.2H173.32V640.6H176.89V629.2H180.99V640.6H184.56V629.2H188.66V640.6H192.24V629.2H196.34V640.6H199.91V629.2H204.01V640.6H207.58V629.2H211.68V640.6H215.26V629.2H219.36V640.6H222.93V629.2H227.03V640.6H230.6V629.2H234.7V640.6H238.28V629.2H242.38V640.6H245.95V629.2H250.05V640.6H253.62V629.2H257.72V640.6H261.29V629.2H265.39V640.6H268.97V629.2H273.07V640.6H276.64V629.2H280.74V640.6H284.31V629.2H288.41V640.6H291.99V629.2H296.09V640.6H299.66V629.2H303.76V640.6H307.33V629.2H311.43V640.6H315.01V629.2H319.11V640.6H322.68V629.2H326.78V640.6H330.35V629.2H334.45V640.6H338.02V629.2H342.12V640.6H345.7V629.2H349.8V640.6H353.37V629.2H357.47V640.6H361.04V629.2H365.14V640.6H368.72V629.2H372.82V640.6H376.39V629.2H380.49V640.6H384.06V629.2H388.16V640.6H391.74V629.2H395.84V640.6H399.41V629.2H403.51V640.6H407.08V629.2H411.18V640.6H414.75V629.2H418.86V640.6H422.43V629.2H426.53V640.6H430.1V629.2H434.2V640.6H437.77V629.2H441.87V640.6H445.45V629.2H449.55V640.6H453.12V629.2H457.22V640.6H460.79V629.2H464.89V640.6H468.47V629.2H472.57V640.6H476.14V629.2H480.24V640.6H483.81V629.2H487.91V640.6H491.49V629.2H495.59V640.6H499.16V629.2H503.26V640.6H506.83V629.2H510.93V640.6H514.5V629.2H518.6V640.6H522.18V629.2H526.28V640.6H529.85V629.2H533.95V640.6H537.52V629.2H541.62V640.6H545.2V629.2H549.3V640.6H552.87V629.2H556.97V640.6H560.54V629.2H564.64V640.6H568.21V629.2H572.31V640.6H575.89V629.2H579.99V640.6H583.56V629.2H587.66V640.6H591.23V629.2H595.33V640.6H598.91V629.2H603.01V640.6H606.58V629.2H610.68V640.6H614.25V629.2H618.35V640.6H621.93V629.2H626.03V640.6H629.6V629.2H633.7V640.6H637.27V629.2H641.37V640.6H644.94V629.2H649.04V640.6H652.62V629.2H656.72V640.6H660.29V629.2H664.39V640.6H667.96V629.2H672.06V640.6H675.64V629.2H679.74V640.6H683.31V629.2H687.41V640.6H690.98V629.2H695.08V640.6H698.66V629.2H702.76V640.6H706.33V629.2H710.43V640.6H714V629.2H718.1V640.6H721.67V629.2H725.77V640.6H729.35V629.2H733.45V640.6H737.02V629.2H741.12V640.6H744.69V629.2H748.79V640.6H752.37V629.2H756.47V640.6H760.04V629.2H764.14V640.6H767.71V629.2H771.81V640.6H775.39V629.2H779.49V640.6H783.06V629.2H787.16V640.6H790.73V629.2H794.83V640.6H798.4V629.2H802.5V640.6H806.08V629.2H810.18V640.6H813.75V629.2H817.85V640.6H821.42V629.2H825.52V640.6H829.1V629.2H833.2V640.6H836.77V629.2H840.87V640.6H844.44V629.2H848.54V640.6H852.12V629.2H856.22V640.6H859.79V629.2H863.89V640.6H867.46V629.2H871.56V640.6H875.13V629.2H879.24V640.6H882.81V629.2H886.91V640.6H890.48V629.2H894.58V640.6H898.15V629.2H902.25V640.6H905.83V629.2H906"/>
<path stroke="#FFB5B8" d="M138 642H142.48V653.4H146.05V642H150.15V653.4H153.72V642H157.82V653.4H161.4V642H165.5V653.4H169.07V642H173.17V653.4H176.74V642H180.84V653.4H184.42V642H188.52V653.4H192.09V642H196.19V653.4H199.76V642H203.86V653.4H207.43V642H211.53V653.4H215.11V642H219.21V653.4H222.78V642H226.88V653.4H230.45V642H234.55V653.4H238.13V642H242.23V653.4H245.8V642H249.9V653.4H253.47V642H257.57V653.4H261.14V642H265.25V653.4H268.82V642H272.92V653.4H276.49V642H280.59V653.4H284.16V642H288.26V653.4H291.84V642H295.94V653.4H299.51V642H303.61V653.4H307.18V642H311.28V653.4H314.86V642H318.96V653.4H322.53V642H326.63V653.4H330.2V642H334.3V653.4H337.88V642H341.98V653.4H345.55V642H349.65V653.4H353.22V642H357.32V653.4H360.89V642H364.99V653.4H368.57V642H372.67V653.4H376.24V642H380.34V653.4H383.91V642H388.01V653.4H391.59V642H395.69V653.4H399.26V642H403.36V653.4H406.93V642H411.03V653.4H414.61V642H418.71V653.4H422.28V642H426.38V653.4H429.95V642H434.05V653.4H437.62V642H441.72V653.4H445.3V642H449.4V653.4H452.97V642H457.07V653.4H460.64V642H464.74V653.4H468.32V642H472.42V653.4H475.99V642H480.09V653.4H483.66V642H487.76V653.4H491.34V642H495.44V653.4H499.01V642H503.11V653.4H506.68V642H510.78V653.4H514.35V642H518.45V653.4H522.03V642H526.13V653.4H529.7V642H533.8V653.4H537.37V642H541.47V653.4H545.05V642H549.15V653.4H552.72V642H556.82V653.4H560.39V642H564.49V653.4H568.07V642H572.17V653.4H575.74V642H579.84V653.4H583.41V642H587.51V653.4H591.08V642H595.18V653.4H598.76V642H602.86V653.4H606.43V642H610.53V653.4H614.1V642H618.2V653.4H621.78V642H625.88V653.4H629.45V642H633.55V653.4H637.12V642H641.22V653.4H644.8V642H648.9V653.4H652.47V642H656.57V653.4H660.14V642H664.24V653.4H667.81V642H671.91V653.4H675.49V642H679.59V653.4H683.16V642H687.26V653.4H690.83V642H694.93V653.4H698.51V642H702.61V653.4H706.18V642H710.28V653.4H713.85V642H717.95V653.4H721.53V642H725.63V653.4H729.2V642H733.3V653.4H736.87V642H740.97V653.4H744.54V642H748.64V653.4H752.22V642H756.32V653.4H759.89V642H763.99V653.4H767.56V642H771.66V653.4H775.24V642H779.34V653.4H782.91V642H787.01V653.4H790.58V642H794.68V653.4H798.26V642H802.36V653.4H805.93V642H810.03V653.4H813.6V642H817.7V653.4H821.27V642H825.37V653.4H828.95V642H833.05V653.4H836.62V642H840.72V653.4H844.29V642H848.39V653.4H851.97V642H856.07V653.4H859.64V642H863.74V653.4H867.31V642H871.41V653.4H874.99V642H879.09V653.4H882.66V642H886.76V653.4H890.33V642H894.43V653.4H898V642H902.1V653.4H905.68V642H906"/>
<path stroke="#E24A33" d="M138 654.8H142.53V666.2H146.1V654.8H150.2V666.2H153.77V654.8H157.87V666.2H161.45V654.8H165.55V666.2H169.12V654.8H173.22V666.2H176.79V654.8H180.89V666.2H184.47V654.8H188.56V666.2H192.14V654.8H196.24V666.2H199.81V654.8H203.91V666.2H207.48V654.8H211.58V666.2H215.16V654.8H219.26V666.2H222.83V654.8H226.93V666.2H230.5V654.8H234.6V666.2H238.18V654.8H242.28V666.2H245.85V654.8H249.95V666.2H253.52V654.8H257.62V666.2H261.19V654.8H265.3V666.2H268.87V654.8H272.97V666.2H276.54V654.8H280.64V666.2H284.21V654.8H288.31V666.2H291.89V654.8H295.99V666.2H299.56V654.8H303.66V666.2H307.23V654.8H311.33V666.2H314.91V654.8H319.01V666.2H322.58V654.8H326.68V666.2H330.25V654.8H334.35V666.2H337.92V654.8H342.02V666.2H345.6V654.8H349.7V666.2H353.27V654.8H357.37V666.2H360.94V654.8H365.04V666.2H368.62V654.8H372.72V666.2H376.29V654.8H380.39V666.2H383.96V654.8H388.06V666.2H391.64V654.8H395.74V666.2H399.31V654.8H403.41V666.2H406.98V654.8H411.08V666.2H414.65V654.8H418.75V666.2H422.33V654.8H426.43V666.2H430V654.8H434.1V666.2H437.67V654.8H441.77V666.2H445.35V654.8H449.45V666.2H453.02V654.8H457.12V666.2H460.69V654.8H464.79V666.2H468.37V654.8H472.47V666.2H476.04V654.8H480.14V666.2H483.71V654.8H487.81V666.2H491.38V654.8H495.49V666.2H499.06V654.8H503.16V666.2H506.73V654.8H510.83V666.2H514.4V654.8H518.5V666.2H522.08V654.8H526.18V666.2H529.75V654.8H533.85V666.2H537.42V654.8H541.52V666.2H545.1V654.8H549.2V666.2H552.77V654.8H556.87V666.2H560.44V654.8H564.54V666.2H568.12V654.8H572.22V666.2H575.79V654.8H579.89V666.2H583.46V654.8H587.56V666.2H591.13V654.8H595.23V666.2H598.81V654.8H602.91V666.2H606.48V654.8H610.58V666.2H614.15V654.8H618.25V666.2H621.83V654.8H625.93V666.2H629.5V654.8H633.6V666.2H637.17V654.8H641.27V666.2H644.85V654.8H648.95V666.2H652.52V654.8H656.62V666.2H660.19V654.8H664.29V666.2H667.86V654.8H671.96V666.2H675.54V654.8H679.64V666.2H683.21V654.8H687.31V666.2H690.88V654.8H694.98V666.2H698.56V654.8H702.66V666.2H706.23V654.8H710.33V666.2H713.9V654.8H718V666.2H721.58V654.8H725.68V666.2H729.25V654.8H733.35V666.2H736.92V654.8H741.02V666.2H744.59V654.8H748.69V666.2H752.27V654.8H756.37V666.2H759.94V654.8H764.04V666.2H767.61V654.8H771.71V666.2H775.29V654.8H779.39V666.2H782.96V654.8H787.06V666.2H790.63V654.8H794.73V666.2H798.31V654.8H802.41V666.2H805.98V654.8H810.08V666.2H813.65V654.8H817.75V666.2H821.32V654.8H825.42V666.2H829V654.8H833.1V666.2H836.67V654.8H840.77V666.2H844.34V654.8H848.44V666.2H852.02V654.8H856.12V666.2H859.69V654.8H863.79V666.2H867.36V654.8H871.46V666.2H875.04V654.8H879.14V666.2H882.71V654.8H886.81V666.2H890.38V654.8H894.48V666.2H898.05V654.8H902.15V666.2H905.73V654.8H906"/>
</g>
<rect x="914" y="89" width="165" height="400" fill="#E5E5E5"/>
<g stroke-width="1.39" fill="none">
<path stroke="#E24A33" d="M924.8 103.70H949.2"/>
<path stroke="#348ABD" d="M924.8 130.07H949.2"/>
<path stroke="#988ED5" d="M924.8 156.44H949.2"/>
<path stroke="#777777" d="M924.8 182.81H949.2"/>
<path stroke="#FBC15E" d="M924.8 209.18H949.2"/>
<path stroke="#8EBA42" d="M924.8 235.55H949.2"/>
<path stroke="#FFB5B8" d="M924.8 261.92H949.2"/>
<path stroke="#E24A33" d="M924.8 288.29H949.2"/>
<path stroke="#348ABD" d="M924.8 314.66H949.2"/>
<path stroke="#988ED5" d="M924.8 341.03H949.2"/>
<path stroke="#777777" d="M924.8 367.40H949.2"/>
<path stroke="#FBC15E" d="M924.8 393.77H949.2"/>
<path stroke="#8EBA42" d="M924.8 420.14H949.2"/>
<path stroke="#FFB5B8" d="M924.8 446.51H949.2"/>
<path stroke="#E24A33" d="M924.8 472.88H949.2"/>
</g>
<g font-family="'DejaVu Sans','Liberation Sans',sans-serif" font-size="16.67" fill="#000">
<text x="966.7" y="108.30">B_extx</text>
<text x="966.7" y="134.67">B_exty</text>
<text x="966.7" y="161.04">B_extz</text>
<text x="966.7" y="187.41">m.region1x</text>
<text x="966.7" y="213.78">m.region2x</text>
<text x="966.7" y="240.15">m.region3x</text>
<text x="966.7" y="266.52">m.region4x</text>
<text x="966.7" y="292.89">m.region5x</text>
<text x="966.7" y="319.26">m.region6x</text>
<text x="966.7" y="345.63">m.region7y</text>
<text x="966.7" y="372.00">m.region8y</text>
<text x="966.7" y="398.37">m.region9y</text>
<text x="966.7" y="424.74">m.region10y</text>
<text x="966.7" y="451.11">m.region11y</text>
<text x="966.7" y="477.48">m.region12y</text>
</g>
<g font-family="'DejaVu Sans','Liberation Sans',sans-serif" font-size="13.89" fill="#555555">
<text x="125.9" y="84.0" text-anchor="end" letter-spacing="-0.3">1.5</text>
<text x="125.9" y="132.0" text-anchor="end" letter-spacing="-0.3">1.0</text>
<text x="125.9" y="181.0" text-anchor="end" letter-spacing="-0.3">0.5</text>
<text x="125.9" y="229.0" text-anchor="end" letter-spacing="-0.3">0.0</text>
<text x="125.3" y="278.0" text-anchor="end">−<tspan dx="-1.4">0.5</tspan></text>
<text x="125.3" y="326.0" text-anchor="end">−<tspan dx="-1.4">1.0</tspan></text>
<text x="125.3" y="375.0" text-anchor="end">−<tspan dx="-1.4">1.5</tspan></text>
<text x="138.6" y="742.3" text-anchor="middle" letter-spacing="-0.15">0.0000000</text>
<text x="291.6" y="742.3" text-anchor="middle" letter-spacing="-0.15">0.0000002</text>
<text x="444.6" y="742.3" text-anchor="middle" letter-spacing="-0.15">0.0000004</text>
<text x="598.6" y="742.3" text-anchor="middle" letter-spacing="-0.15">0.0000006</text>
<text x="751.6" y="742.3" text-anchor="middle" letter-spacing="-0.15">0.0000008</text>
<text x="904.6" y="742.3" text-anchor="middle" letter-spacing="-0.15">0.0000010</text>
</g>
<text x="521.2" y="765.9" text-anchor="middle" font-family="'DejaVu Sans','Liberation Sans',sans-serif" font-size="16.67" fill="#555555">t</text>
<text x="550.6" y="26.5" text-anchor="middle" font-family="'DejaVu Sans','Liberation Sans',sans-serif" font-size="13.89" fill="#000">/data/socrates/mx3/si3x3-sin-randomMag-sweep-B-70-90/si3x3-sin-randomMag.013.016.out/table.txt</text>
</svg>
</body></html>
